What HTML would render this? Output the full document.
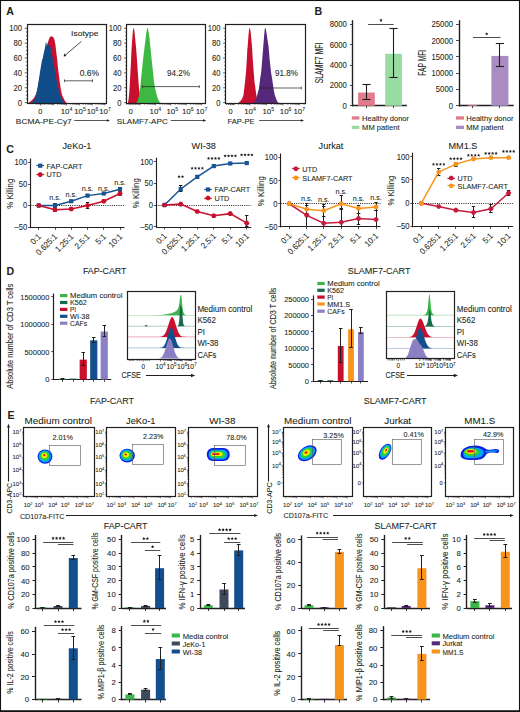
<!DOCTYPE html>
<html><head><meta charset="utf-8"><title>Figure</title>
<style>
html,body{margin:0;padding:0;background:#fff;}
body{width:520px;height:712px;overflow:hidden;}
svg{display:block;}
text{font-family:"Liberation Sans", sans-serif;fill:#231f20;stroke:#231f20;stroke-width:0.08px;}
</style></head><body>
<svg width="520" height="712" viewBox="0 0 520 712">
<rect x="0" y="0" width="520" height="712" fill="#fff"/>
<text x="6.2" y="15.12" font-size="10.6" font-weight="bold">A</text>
<polygon points="28.3,103 31,101 34,98 37,92 39,82 41,70 43,58 45,50 47,45 49,39 50,37 51.2,36.3 52.5,36.8 53.5,37.5 54.5,40 55.5,45 56,50 57,58 58,68 59,76 60,84 61,90 62,95 63.5,98 65,101 66.7,103" fill="#c8102e"/>
<polygon points="31.5,103 34,100 36,95 38,85 40,72 41,66 42,60 43,58 44,52 45,48 45.6,43 46.2,42 46.8,46 47.5,45 48.3,44 49,46 49.6,44 50.3,47 51,50 52,55 53,60 54,65 55,71 56,77 57,82 58,87 59,91 60,95 62,99 64,103" fill="#0f4c88"/>
<line x1="24.7" y1="102.6" x2="27.3" y2="102.6" stroke="#231f20" stroke-width="0.7"/>
<line x1="25.9" y1="98.88" x2="27.3" y2="98.88" stroke="#231f20" stroke-width="0.7"/>
<line x1="25.9" y1="95.17" x2="27.3" y2="95.17" stroke="#231f20" stroke-width="0.7"/>
<line x1="25.9" y1="91.45" x2="27.3" y2="91.45" stroke="#231f20" stroke-width="0.7"/>
<line x1="24.7" y1="87.74" x2="27.3" y2="87.74" stroke="#231f20" stroke-width="0.7"/>
<line x1="25.9" y1="84.02" x2="27.3" y2="84.02" stroke="#231f20" stroke-width="0.7"/>
<line x1="25.9" y1="80.31" x2="27.3" y2="80.31" stroke="#231f20" stroke-width="0.7"/>
<line x1="25.9" y1="76.59" x2="27.3" y2="76.59" stroke="#231f20" stroke-width="0.7"/>
<line x1="24.7" y1="72.88" x2="27.3" y2="72.88" stroke="#231f20" stroke-width="0.7"/>
<line x1="25.9" y1="69.16" x2="27.3" y2="69.16" stroke="#231f20" stroke-width="0.7"/>
<line x1="25.9" y1="65.45" x2="27.3" y2="65.45" stroke="#231f20" stroke-width="0.7"/>
<line x1="25.9" y1="61.73" x2="27.3" y2="61.73" stroke="#231f20" stroke-width="0.7"/>
<line x1="24.7" y1="58.02" x2="27.3" y2="58.02" stroke="#231f20" stroke-width="0.7"/>
<line x1="25.9" y1="54.3" x2="27.3" y2="54.3" stroke="#231f20" stroke-width="0.7"/>
<line x1="25.9" y1="50.59" x2="27.3" y2="50.59" stroke="#231f20" stroke-width="0.7"/>
<line x1="25.9" y1="46.87" x2="27.3" y2="46.87" stroke="#231f20" stroke-width="0.7"/>
<line x1="24.7" y1="43.16" x2="27.3" y2="43.16" stroke="#231f20" stroke-width="0.7"/>
<line x1="25.9" y1="39.44" x2="27.3" y2="39.44" stroke="#231f20" stroke-width="0.7"/>
<line x1="25.9" y1="35.73" x2="27.3" y2="35.73" stroke="#231f20" stroke-width="0.7"/>
<line x1="25.9" y1="32.02" x2="27.3" y2="32.02" stroke="#231f20" stroke-width="0.7"/>
<line x1="24.7" y1="28.3" x2="27.3" y2="28.3" stroke="#231f20" stroke-width="0.7"/>
<text x="22" y="105.59" font-size="8.3" text-anchor="end" textLength="4.25" lengthAdjust="spacingAndGlyphs">0</text>
<text x="22" y="90.73" font-size="8.3" text-anchor="end" textLength="8.49" lengthAdjust="spacingAndGlyphs">20</text>
<text x="22" y="75.87" font-size="8.3" text-anchor="end" textLength="8.49" lengthAdjust="spacingAndGlyphs">40</text>
<text x="22" y="61.01" font-size="8.3" text-anchor="end" textLength="8.49" lengthAdjust="spacingAndGlyphs">60</text>
<text x="22" y="46.15" font-size="8.3" text-anchor="end" textLength="8.49" lengthAdjust="spacingAndGlyphs">80</text>
<text x="22" y="31.29" font-size="8.3" text-anchor="end" textLength="12.74" lengthAdjust="spacingAndGlyphs">100</text>
<rect x="27.5" y="24.5" width="79" height="79" fill="none" stroke="#231f20" stroke-width="1.2"/>
<line x1="40.83" y1="103" x2="40.83" y2="105.4" stroke="#231f20" stroke-width="0.6"/>
<line x1="44.7" y1="103" x2="44.7" y2="104.7" stroke="#231f20" stroke-width="0.6"/>
<line x1="46.96" y1="103" x2="46.96" y2="104.7" stroke="#231f20" stroke-width="0.6"/>
<line x1="48.56" y1="103" x2="48.56" y2="104.7" stroke="#231f20" stroke-width="0.6"/>
<line x1="49.8" y1="103" x2="49.8" y2="104.7" stroke="#231f20" stroke-width="0.6"/>
<line x1="50.82" y1="103" x2="50.82" y2="104.7" stroke="#231f20" stroke-width="0.6"/>
<line x1="51.68" y1="103" x2="51.68" y2="104.7" stroke="#231f20" stroke-width="0.6"/>
<line x1="52.42" y1="103" x2="52.42" y2="104.7" stroke="#231f20" stroke-width="0.6"/>
<line x1="53.08" y1="103" x2="53.08" y2="104.7" stroke="#231f20" stroke-width="0.6"/>
<line x1="53.67" y1="103" x2="53.67" y2="105.4" stroke="#231f20" stroke-width="0.6"/>
<line x1="57.53" y1="103" x2="57.53" y2="104.7" stroke="#231f20" stroke-width="0.6"/>
<line x1="59.79" y1="103" x2="59.79" y2="104.7" stroke="#231f20" stroke-width="0.6"/>
<line x1="61.39" y1="103" x2="61.39" y2="104.7" stroke="#231f20" stroke-width="0.6"/>
<line x1="62.64" y1="103" x2="62.64" y2="104.7" stroke="#231f20" stroke-width="0.6"/>
<line x1="63.65" y1="103" x2="63.65" y2="104.7" stroke="#231f20" stroke-width="0.6"/>
<line x1="64.51" y1="103" x2="64.51" y2="104.7" stroke="#231f20" stroke-width="0.6"/>
<line x1="65.26" y1="103" x2="65.26" y2="104.7" stroke="#231f20" stroke-width="0.6"/>
<line x1="65.91" y1="103" x2="65.91" y2="104.7" stroke="#231f20" stroke-width="0.6"/>
<line x1="66.5" y1="103" x2="66.5" y2="105.4" stroke="#231f20" stroke-width="0.6"/>
<line x1="70.36" y1="103" x2="70.36" y2="104.7" stroke="#231f20" stroke-width="0.6"/>
<line x1="72.62" y1="103" x2="72.62" y2="104.7" stroke="#231f20" stroke-width="0.6"/>
<line x1="74.23" y1="103" x2="74.23" y2="104.7" stroke="#231f20" stroke-width="0.6"/>
<line x1="75.47" y1="103" x2="75.47" y2="104.7" stroke="#231f20" stroke-width="0.6"/>
<line x1="76.49" y1="103" x2="76.49" y2="104.7" stroke="#231f20" stroke-width="0.6"/>
<line x1="77.35" y1="103" x2="77.35" y2="104.7" stroke="#231f20" stroke-width="0.6"/>
<line x1="78.09" y1="103" x2="78.09" y2="104.7" stroke="#231f20" stroke-width="0.6"/>
<line x1="78.75" y1="103" x2="78.75" y2="104.7" stroke="#231f20" stroke-width="0.6"/>
<line x1="79.33" y1="103" x2="79.33" y2="105.4" stroke="#231f20" stroke-width="0.6"/>
<line x1="83.2" y1="103" x2="83.2" y2="104.7" stroke="#231f20" stroke-width="0.6"/>
<line x1="85.46" y1="103" x2="85.46" y2="104.7" stroke="#231f20" stroke-width="0.6"/>
<line x1="87.06" y1="103" x2="87.06" y2="104.7" stroke="#231f20" stroke-width="0.6"/>
<line x1="88.3" y1="103" x2="88.3" y2="104.7" stroke="#231f20" stroke-width="0.6"/>
<line x1="89.32" y1="103" x2="89.32" y2="104.7" stroke="#231f20" stroke-width="0.6"/>
<line x1="90.18" y1="103" x2="90.18" y2="104.7" stroke="#231f20" stroke-width="0.6"/>
<line x1="90.92" y1="103" x2="90.92" y2="104.7" stroke="#231f20" stroke-width="0.6"/>
<line x1="91.58" y1="103" x2="91.58" y2="104.7" stroke="#231f20" stroke-width="0.6"/>
<line x1="92.17" y1="103" x2="92.17" y2="105.4" stroke="#231f20" stroke-width="0.6"/>
<line x1="96.03" y1="103" x2="96.03" y2="104.7" stroke="#231f20" stroke-width="0.6"/>
<line x1="98.29" y1="103" x2="98.29" y2="104.7" stroke="#231f20" stroke-width="0.6"/>
<line x1="99.89" y1="103" x2="99.89" y2="104.7" stroke="#231f20" stroke-width="0.6"/>
<line x1="101.14" y1="103" x2="101.14" y2="104.7" stroke="#231f20" stroke-width="0.6"/>
<line x1="102.15" y1="103" x2="102.15" y2="104.7" stroke="#231f20" stroke-width="0.6"/>
<line x1="103.01" y1="103" x2="103.01" y2="104.7" stroke="#231f20" stroke-width="0.6"/>
<line x1="103.76" y1="103" x2="103.76" y2="104.7" stroke="#231f20" stroke-width="0.6"/>
<line x1="104.41" y1="103" x2="104.41" y2="104.7" stroke="#231f20" stroke-width="0.6"/>
<line x1="105" y1="103" x2="105" y2="105.4" stroke="#231f20" stroke-width="0.6"/>
<line x1="36.2" y1="103" x2="36.2" y2="104.7" stroke="#231f20" stroke-width="0.6"/>
<line x1="38.2" y1="103" x2="38.2" y2="104.7" stroke="#231f20" stroke-width="0.6"/>
<line x1="42.2" y1="103" x2="42.2" y2="104.7" stroke="#231f20" stroke-width="0.6"/>
<line x1="44.2" y1="103" x2="44.2" y2="104.7" stroke="#231f20" stroke-width="0.6"/>
<line x1="40.2" y1="103" x2="40.2" y2="105.4" stroke="#231f20" stroke-width="0.6"/>
<text x="40.2" y="114.24" font-size="7.9" text-anchor="middle" textLength="4.09" lengthAdjust="spacingAndGlyphs">0</text>
<text x="66.5" y="114.24" font-size="7.9" text-anchor="middle">10<tspan dy="-2.77" font-size="5.14">4</tspan></text>
<text x="80" y="114.24" font-size="7.9" text-anchor="middle">10<tspan dy="-2.77" font-size="5.14">5</tspan></text>
<text x="92.5" y="114.24" font-size="7.9" text-anchor="middle">10<tspan dy="-2.77" font-size="5.14">6</tspan></text>
<text x="105" y="114.24" font-size="7.9" text-anchor="middle">10<tspan dy="-2.77" font-size="5.14">7</tspan></text>
<text x="15.8" y="123.74" font-size="7.6" textLength="56" lengthAdjust="spacingAndGlyphs">BCMA-PE-Cy7</text>
<line x1="74.3" y1="120.5" x2="107.3" y2="120.5" stroke="#231f20" stroke-width="0.75"/>
<polygon points="110,120.5 106.8,119.16 106.8,121.84" fill="#231f20"/>
<text x="71.1" y="35.6" font-size="7.5" textLength="27.4" lengthAdjust="spacingAndGlyphs">Isotype</text>
<line x1="81.5" y1="41.3" x2="64.8" y2="55.5" stroke="#231f20" stroke-width="0.8"/>
<polygon points="63.6,56.4 64.3,53.6 66.4,55.9" fill="#231f20"/>
<text x="79.7" y="76.09" font-size="8.3" textLength="19.2" lengthAdjust="spacingAndGlyphs">0.6%</text>
<line x1="64.5" y1="80.8" x2="92.5" y2="80.8" stroke="#231f20" stroke-width="0.7"/>
<line x1="64.5" y1="79.4" x2="64.5" y2="82.2" stroke="#231f20" stroke-width="0.7"/>
<line x1="92.5" y1="79.4" x2="92.5" y2="82.2" stroke="#231f20" stroke-width="0.7"/>
<polygon points="127.8,103 128.5,100 129.3,92 130,80 130.8,65 131.5,50 132.3,38 133,30 133.5,28 134,28.5 134.7,33 135.3,40 136,47 136.8,57 137.5,68 138.3,79 139,88 140,95 141,99 142.5,102 143.5,103" fill="#c8102e"/>
<polygon points="136.4,103 137.5,101 139,96 140,89 141,80 142,70 143,60 144.2,50 145.3,41 146.3,33 147,29 147.4,27.6 148,29 148.8,33 149.5,38 150.3,46 151,53 152,63 153,72 154,82 155,88 156,92 157,96 158,99 159.5,102 161,103" fill="#3db843"/>
<line x1="124.1" y1="102.6" x2="126.7" y2="102.6" stroke="#231f20" stroke-width="0.7"/>
<line x1="125.3" y1="98.88" x2="126.7" y2="98.88" stroke="#231f20" stroke-width="0.7"/>
<line x1="125.3" y1="95.17" x2="126.7" y2="95.17" stroke="#231f20" stroke-width="0.7"/>
<line x1="125.3" y1="91.45" x2="126.7" y2="91.45" stroke="#231f20" stroke-width="0.7"/>
<line x1="124.1" y1="87.74" x2="126.7" y2="87.74" stroke="#231f20" stroke-width="0.7"/>
<line x1="125.3" y1="84.02" x2="126.7" y2="84.02" stroke="#231f20" stroke-width="0.7"/>
<line x1="125.3" y1="80.31" x2="126.7" y2="80.31" stroke="#231f20" stroke-width="0.7"/>
<line x1="125.3" y1="76.59" x2="126.7" y2="76.59" stroke="#231f20" stroke-width="0.7"/>
<line x1="124.1" y1="72.88" x2="126.7" y2="72.88" stroke="#231f20" stroke-width="0.7"/>
<line x1="125.3" y1="69.16" x2="126.7" y2="69.16" stroke="#231f20" stroke-width="0.7"/>
<line x1="125.3" y1="65.45" x2="126.7" y2="65.45" stroke="#231f20" stroke-width="0.7"/>
<line x1="125.3" y1="61.73" x2="126.7" y2="61.73" stroke="#231f20" stroke-width="0.7"/>
<line x1="124.1" y1="58.02" x2="126.7" y2="58.02" stroke="#231f20" stroke-width="0.7"/>
<line x1="125.3" y1="54.3" x2="126.7" y2="54.3" stroke="#231f20" stroke-width="0.7"/>
<line x1="125.3" y1="50.59" x2="126.7" y2="50.59" stroke="#231f20" stroke-width="0.7"/>
<line x1="125.3" y1="46.87" x2="126.7" y2="46.87" stroke="#231f20" stroke-width="0.7"/>
<line x1="124.1" y1="43.16" x2="126.7" y2="43.16" stroke="#231f20" stroke-width="0.7"/>
<line x1="125.3" y1="39.44" x2="126.7" y2="39.44" stroke="#231f20" stroke-width="0.7"/>
<line x1="125.3" y1="35.73" x2="126.7" y2="35.73" stroke="#231f20" stroke-width="0.7"/>
<line x1="125.3" y1="32.02" x2="126.7" y2="32.02" stroke="#231f20" stroke-width="0.7"/>
<line x1="124.1" y1="28.3" x2="126.7" y2="28.3" stroke="#231f20" stroke-width="0.7"/>
<text x="121.4" y="105.59" font-size="8.3" text-anchor="end" textLength="4.25" lengthAdjust="spacingAndGlyphs">0</text>
<text x="121.4" y="90.73" font-size="8.3" text-anchor="end" textLength="8.49" lengthAdjust="spacingAndGlyphs">20</text>
<text x="121.4" y="75.87" font-size="8.3" text-anchor="end" textLength="8.49" lengthAdjust="spacingAndGlyphs">40</text>
<text x="121.4" y="61.01" font-size="8.3" text-anchor="end" textLength="8.49" lengthAdjust="spacingAndGlyphs">60</text>
<text x="121.4" y="46.15" font-size="8.3" text-anchor="end" textLength="8.49" lengthAdjust="spacingAndGlyphs">80</text>
<text x="121.4" y="31.29" font-size="8.3" text-anchor="end" textLength="12.74" lengthAdjust="spacingAndGlyphs">100</text>
<rect x="126.5" y="24.5" width="79" height="79" fill="none" stroke="#231f20" stroke-width="1.2"/>
<line x1="129.29" y1="103" x2="129.29" y2="104.7" stroke="#231f20" stroke-width="0.6"/>
<line x1="132" y1="103" x2="132" y2="104.7" stroke="#231f20" stroke-width="0.6"/>
<line x1="133.92" y1="103" x2="133.92" y2="104.7" stroke="#231f20" stroke-width="0.6"/>
<line x1="135.41" y1="103" x2="135.41" y2="104.7" stroke="#231f20" stroke-width="0.6"/>
<line x1="136.62" y1="103" x2="136.62" y2="104.7" stroke="#231f20" stroke-width="0.6"/>
<line x1="137.65" y1="103" x2="137.65" y2="104.7" stroke="#231f20" stroke-width="0.6"/>
<line x1="138.54" y1="103" x2="138.54" y2="104.7" stroke="#231f20" stroke-width="0.6"/>
<line x1="139.33" y1="103" x2="139.33" y2="104.7" stroke="#231f20" stroke-width="0.6"/>
<line x1="140.03" y1="103" x2="140.03" y2="105.4" stroke="#231f20" stroke-width="0.6"/>
<line x1="144.66" y1="103" x2="144.66" y2="104.7" stroke="#231f20" stroke-width="0.6"/>
<line x1="147.37" y1="103" x2="147.37" y2="104.7" stroke="#231f20" stroke-width="0.6"/>
<line x1="149.28" y1="103" x2="149.28" y2="104.7" stroke="#231f20" stroke-width="0.6"/>
<line x1="150.77" y1="103" x2="150.77" y2="104.7" stroke="#231f20" stroke-width="0.6"/>
<line x1="151.99" y1="103" x2="151.99" y2="104.7" stroke="#231f20" stroke-width="0.6"/>
<line x1="153.02" y1="103" x2="153.02" y2="104.7" stroke="#231f20" stroke-width="0.6"/>
<line x1="153.91" y1="103" x2="153.91" y2="104.7" stroke="#231f20" stroke-width="0.6"/>
<line x1="154.7" y1="103" x2="154.7" y2="104.7" stroke="#231f20" stroke-width="0.6"/>
<line x1="155.4" y1="103" x2="155.4" y2="105.4" stroke="#231f20" stroke-width="0.6"/>
<line x1="160.03" y1="103" x2="160.03" y2="104.7" stroke="#231f20" stroke-width="0.6"/>
<line x1="162.73" y1="103" x2="162.73" y2="104.7" stroke="#231f20" stroke-width="0.6"/>
<line x1="164.65" y1="103" x2="164.65" y2="104.7" stroke="#231f20" stroke-width="0.6"/>
<line x1="166.14" y1="103" x2="166.14" y2="104.7" stroke="#231f20" stroke-width="0.6"/>
<line x1="167.36" y1="103" x2="167.36" y2="104.7" stroke="#231f20" stroke-width="0.6"/>
<line x1="168.39" y1="103" x2="168.39" y2="104.7" stroke="#231f20" stroke-width="0.6"/>
<line x1="169.28" y1="103" x2="169.28" y2="104.7" stroke="#231f20" stroke-width="0.6"/>
<line x1="170.06" y1="103" x2="170.06" y2="104.7" stroke="#231f20" stroke-width="0.6"/>
<line x1="170.77" y1="103" x2="170.77" y2="105.4" stroke="#231f20" stroke-width="0.6"/>
<line x1="175.39" y1="103" x2="175.39" y2="104.7" stroke="#231f20" stroke-width="0.6"/>
<line x1="178.1" y1="103" x2="178.1" y2="104.7" stroke="#231f20" stroke-width="0.6"/>
<line x1="180.02" y1="103" x2="180.02" y2="104.7" stroke="#231f20" stroke-width="0.6"/>
<line x1="181.51" y1="103" x2="181.51" y2="104.7" stroke="#231f20" stroke-width="0.6"/>
<line x1="182.72" y1="103" x2="182.72" y2="104.7" stroke="#231f20" stroke-width="0.6"/>
<line x1="183.75" y1="103" x2="183.75" y2="104.7" stroke="#231f20" stroke-width="0.6"/>
<line x1="184.64" y1="103" x2="184.64" y2="104.7" stroke="#231f20" stroke-width="0.6"/>
<line x1="185.43" y1="103" x2="185.43" y2="104.7" stroke="#231f20" stroke-width="0.6"/>
<line x1="186.13" y1="103" x2="186.13" y2="105.4" stroke="#231f20" stroke-width="0.6"/>
<line x1="190.76" y1="103" x2="190.76" y2="104.7" stroke="#231f20" stroke-width="0.6"/>
<line x1="193.47" y1="103" x2="193.47" y2="104.7" stroke="#231f20" stroke-width="0.6"/>
<line x1="195.38" y1="103" x2="195.38" y2="104.7" stroke="#231f20" stroke-width="0.6"/>
<line x1="196.87" y1="103" x2="196.87" y2="104.7" stroke="#231f20" stroke-width="0.6"/>
<line x1="198.09" y1="103" x2="198.09" y2="104.7" stroke="#231f20" stroke-width="0.6"/>
<line x1="199.12" y1="103" x2="199.12" y2="104.7" stroke="#231f20" stroke-width="0.6"/>
<line x1="200.01" y1="103" x2="200.01" y2="104.7" stroke="#231f20" stroke-width="0.6"/>
<line x1="200.8" y1="103" x2="200.8" y2="104.7" stroke="#231f20" stroke-width="0.6"/>
<line x1="201.5" y1="103" x2="201.5" y2="105.4" stroke="#231f20" stroke-width="0.6"/>
<line x1="126.8" y1="103" x2="126.8" y2="104.7" stroke="#231f20" stroke-width="0.6"/>
<line x1="128.8" y1="103" x2="128.8" y2="104.7" stroke="#231f20" stroke-width="0.6"/>
<line x1="132.8" y1="103" x2="132.8" y2="104.7" stroke="#231f20" stroke-width="0.6"/>
<line x1="134.8" y1="103" x2="134.8" y2="104.7" stroke="#231f20" stroke-width="0.6"/>
<line x1="130.8" y1="103" x2="130.8" y2="105.4" stroke="#231f20" stroke-width="0.6"/>
<text x="130.8" y="114.24" font-size="7.9" text-anchor="middle" textLength="4.09" lengthAdjust="spacingAndGlyphs">0</text>
<text x="155.4" y="114.24" font-size="7.9" text-anchor="middle">10<tspan dy="-2.77" font-size="5.14">4</tspan></text>
<text x="172.3" y="114.24" font-size="7.9" text-anchor="middle">10<tspan dy="-2.77" font-size="5.14">5</tspan></text>
<text x="187.7" y="114.24" font-size="7.9" text-anchor="middle">10<tspan dy="-2.77" font-size="5.14">6</tspan></text>
<text x="201.5" y="114.24" font-size="7.9" text-anchor="middle">10<tspan dy="-2.77" font-size="5.14">7</tspan></text>
<text x="116.8" y="123.74" font-size="7.6" textLength="51" lengthAdjust="spacingAndGlyphs">SLAMF7-APC</text>
<line x1="170.8" y1="120.5" x2="203.5" y2="120.5" stroke="#231f20" stroke-width="0.75"/>
<polygon points="206.2,120.5 203,119.16 203,121.84" fill="#231f20"/>
<text x="167" y="76.39" font-size="8.3" textLength="23" lengthAdjust="spacingAndGlyphs">94.2%</text>
<line x1="142.5" y1="86.6" x2="199.3" y2="86.6" stroke="#231f20" stroke-width="0.7"/>
<line x1="142.5" y1="85.2" x2="142.5" y2="88" stroke="#231f20" stroke-width="0.7"/>
<line x1="199.3" y1="85.2" x2="199.3" y2="88" stroke="#231f20" stroke-width="0.7"/>
<polygon points="238.2,103 240,101.5 242,99 243.5,95 244.2,89 245,82 246,72 246.8,60 247.3,50 247.7,46 248.3,38 248.9,31 249.4,28 250,28.5 250.7,32 251.3,39 252,46 252.8,60 253.7,72 254.5,82 255.5,89 256.3,95 257.2,99 258.5,102 260,103" fill="#c8102e"/>
<polygon points="253.7,103 255.5,100 257,96 258.2,91 258.9,89 260,80 261.2,72 262.2,60 263.3,46 264.2,35 264.8,29 265.3,27.8 265.8,29 266.5,33 267.5,40 268.5,46 269.5,58 271,72 272.3,80 273.6,89 274.8,95 276.2,99 277.5,102 279,103" fill="#55287c"/>
<line x1="223.1" y1="102.6" x2="225.7" y2="102.6" stroke="#231f20" stroke-width="0.7"/>
<line x1="224.3" y1="98.88" x2="225.7" y2="98.88" stroke="#231f20" stroke-width="0.7"/>
<line x1="224.3" y1="95.17" x2="225.7" y2="95.17" stroke="#231f20" stroke-width="0.7"/>
<line x1="224.3" y1="91.45" x2="225.7" y2="91.45" stroke="#231f20" stroke-width="0.7"/>
<line x1="223.1" y1="87.74" x2="225.7" y2="87.74" stroke="#231f20" stroke-width="0.7"/>
<line x1="224.3" y1="84.02" x2="225.7" y2="84.02" stroke="#231f20" stroke-width="0.7"/>
<line x1="224.3" y1="80.31" x2="225.7" y2="80.31" stroke="#231f20" stroke-width="0.7"/>
<line x1="224.3" y1="76.59" x2="225.7" y2="76.59" stroke="#231f20" stroke-width="0.7"/>
<line x1="223.1" y1="72.88" x2="225.7" y2="72.88" stroke="#231f20" stroke-width="0.7"/>
<line x1="224.3" y1="69.16" x2="225.7" y2="69.16" stroke="#231f20" stroke-width="0.7"/>
<line x1="224.3" y1="65.45" x2="225.7" y2="65.45" stroke="#231f20" stroke-width="0.7"/>
<line x1="224.3" y1="61.73" x2="225.7" y2="61.73" stroke="#231f20" stroke-width="0.7"/>
<line x1="223.1" y1="58.02" x2="225.7" y2="58.02" stroke="#231f20" stroke-width="0.7"/>
<line x1="224.3" y1="54.3" x2="225.7" y2="54.3" stroke="#231f20" stroke-width="0.7"/>
<line x1="224.3" y1="50.59" x2="225.7" y2="50.59" stroke="#231f20" stroke-width="0.7"/>
<line x1="224.3" y1="46.87" x2="225.7" y2="46.87" stroke="#231f20" stroke-width="0.7"/>
<line x1="223.1" y1="43.16" x2="225.7" y2="43.16" stroke="#231f20" stroke-width="0.7"/>
<line x1="224.3" y1="39.44" x2="225.7" y2="39.44" stroke="#231f20" stroke-width="0.7"/>
<line x1="224.3" y1="35.73" x2="225.7" y2="35.73" stroke="#231f20" stroke-width="0.7"/>
<line x1="224.3" y1="32.02" x2="225.7" y2="32.02" stroke="#231f20" stroke-width="0.7"/>
<line x1="223.1" y1="28.3" x2="225.7" y2="28.3" stroke="#231f20" stroke-width="0.7"/>
<text x="220.4" y="105.59" font-size="8.3" text-anchor="end" textLength="4.25" lengthAdjust="spacingAndGlyphs">0</text>
<text x="220.4" y="90.73" font-size="8.3" text-anchor="end" textLength="8.49" lengthAdjust="spacingAndGlyphs">20</text>
<text x="220.4" y="75.87" font-size="8.3" text-anchor="end" textLength="8.49" lengthAdjust="spacingAndGlyphs">40</text>
<text x="220.4" y="61.01" font-size="8.3" text-anchor="end" textLength="8.49" lengthAdjust="spacingAndGlyphs">60</text>
<text x="220.4" y="46.15" font-size="8.3" text-anchor="end" textLength="8.49" lengthAdjust="spacingAndGlyphs">80</text>
<text x="220.4" y="31.29" font-size="8.3" text-anchor="end" textLength="12.74" lengthAdjust="spacingAndGlyphs">100</text>
<rect x="225.5" y="24.5" width="80" height="79" fill="none" stroke="#231f20" stroke-width="1.2"/>
<line x1="227.07" y1="103" x2="227.07" y2="104.7" stroke="#231f20" stroke-width="0.6"/>
<line x1="228.66" y1="103" x2="228.66" y2="104.7" stroke="#231f20" stroke-width="0.6"/>
<line x1="229.96" y1="103" x2="229.96" y2="104.7" stroke="#231f20" stroke-width="0.6"/>
<line x1="231.06" y1="103" x2="231.06" y2="104.7" stroke="#231f20" stroke-width="0.6"/>
<line x1="232.01" y1="103" x2="232.01" y2="104.7" stroke="#231f20" stroke-width="0.6"/>
<line x1="232.85" y1="103" x2="232.85" y2="104.7" stroke="#231f20" stroke-width="0.6"/>
<line x1="233.6" y1="103" x2="233.6" y2="105.4" stroke="#231f20" stroke-width="0.6"/>
<line x1="238.54" y1="103" x2="238.54" y2="104.7" stroke="#231f20" stroke-width="0.6"/>
<line x1="241.42" y1="103" x2="241.42" y2="104.7" stroke="#231f20" stroke-width="0.6"/>
<line x1="243.47" y1="103" x2="243.47" y2="104.7" stroke="#231f20" stroke-width="0.6"/>
<line x1="245.06" y1="103" x2="245.06" y2="104.7" stroke="#231f20" stroke-width="0.6"/>
<line x1="246.36" y1="103" x2="246.36" y2="104.7" stroke="#231f20" stroke-width="0.6"/>
<line x1="247.46" y1="103" x2="247.46" y2="104.7" stroke="#231f20" stroke-width="0.6"/>
<line x1="248.41" y1="103" x2="248.41" y2="104.7" stroke="#231f20" stroke-width="0.6"/>
<line x1="249.25" y1="103" x2="249.25" y2="104.7" stroke="#231f20" stroke-width="0.6"/>
<line x1="250" y1="103" x2="250" y2="105.4" stroke="#231f20" stroke-width="0.6"/>
<line x1="254.94" y1="103" x2="254.94" y2="104.7" stroke="#231f20" stroke-width="0.6"/>
<line x1="257.82" y1="103" x2="257.82" y2="104.7" stroke="#231f20" stroke-width="0.6"/>
<line x1="259.87" y1="103" x2="259.87" y2="104.7" stroke="#231f20" stroke-width="0.6"/>
<line x1="261.46" y1="103" x2="261.46" y2="104.7" stroke="#231f20" stroke-width="0.6"/>
<line x1="262.76" y1="103" x2="262.76" y2="104.7" stroke="#231f20" stroke-width="0.6"/>
<line x1="263.86" y1="103" x2="263.86" y2="104.7" stroke="#231f20" stroke-width="0.6"/>
<line x1="264.81" y1="103" x2="264.81" y2="104.7" stroke="#231f20" stroke-width="0.6"/>
<line x1="265.65" y1="103" x2="265.65" y2="104.7" stroke="#231f20" stroke-width="0.6"/>
<line x1="266.4" y1="103" x2="266.4" y2="105.4" stroke="#231f20" stroke-width="0.6"/>
<line x1="271.34" y1="103" x2="271.34" y2="104.7" stroke="#231f20" stroke-width="0.6"/>
<line x1="274.22" y1="103" x2="274.22" y2="104.7" stroke="#231f20" stroke-width="0.6"/>
<line x1="276.27" y1="103" x2="276.27" y2="104.7" stroke="#231f20" stroke-width="0.6"/>
<line x1="277.86" y1="103" x2="277.86" y2="104.7" stroke="#231f20" stroke-width="0.6"/>
<line x1="279.16" y1="103" x2="279.16" y2="104.7" stroke="#231f20" stroke-width="0.6"/>
<line x1="280.26" y1="103" x2="280.26" y2="104.7" stroke="#231f20" stroke-width="0.6"/>
<line x1="281.21" y1="103" x2="281.21" y2="104.7" stroke="#231f20" stroke-width="0.6"/>
<line x1="282.05" y1="103" x2="282.05" y2="104.7" stroke="#231f20" stroke-width="0.6"/>
<line x1="282.8" y1="103" x2="282.8" y2="105.4" stroke="#231f20" stroke-width="0.6"/>
<line x1="287.74" y1="103" x2="287.74" y2="104.7" stroke="#231f20" stroke-width="0.6"/>
<line x1="290.62" y1="103" x2="290.62" y2="104.7" stroke="#231f20" stroke-width="0.6"/>
<line x1="292.67" y1="103" x2="292.67" y2="104.7" stroke="#231f20" stroke-width="0.6"/>
<line x1="294.26" y1="103" x2="294.26" y2="104.7" stroke="#231f20" stroke-width="0.6"/>
<line x1="295.56" y1="103" x2="295.56" y2="104.7" stroke="#231f20" stroke-width="0.6"/>
<line x1="296.66" y1="103" x2="296.66" y2="104.7" stroke="#231f20" stroke-width="0.6"/>
<line x1="297.61" y1="103" x2="297.61" y2="104.7" stroke="#231f20" stroke-width="0.6"/>
<line x1="298.45" y1="103" x2="298.45" y2="104.7" stroke="#231f20" stroke-width="0.6"/>
<line x1="299.2" y1="103" x2="299.2" y2="105.4" stroke="#231f20" stroke-width="0.6"/>
<line x1="304.14" y1="103" x2="304.14" y2="104.7" stroke="#231f20" stroke-width="0.6"/>
<line x1="226.5" y1="103" x2="226.5" y2="104.7" stroke="#231f20" stroke-width="0.6"/>
<line x1="228.5" y1="103" x2="228.5" y2="104.7" stroke="#231f20" stroke-width="0.6"/>
<line x1="232.5" y1="103" x2="232.5" y2="104.7" stroke="#231f20" stroke-width="0.6"/>
<line x1="234.5" y1="103" x2="234.5" y2="104.7" stroke="#231f20" stroke-width="0.6"/>
<line x1="230.5" y1="103" x2="230.5" y2="105.4" stroke="#231f20" stroke-width="0.6"/>
<text x="230.5" y="114.24" font-size="7.9" text-anchor="middle" textLength="4.09" lengthAdjust="spacingAndGlyphs">0</text>
<text x="250" y="114.24" font-size="7.9" text-anchor="middle">10<tspan dy="-2.77" font-size="5.14">4</tspan></text>
<text x="268.3" y="114.24" font-size="7.9" text-anchor="middle">10<tspan dy="-2.77" font-size="5.14">5</tspan></text>
<text x="285.6" y="114.24" font-size="7.9" text-anchor="middle">10<tspan dy="-2.77" font-size="5.14">6</tspan></text>
<text x="299.2" y="114.24" font-size="7.9" text-anchor="middle">10<tspan dy="-2.77" font-size="5.14">7</tspan></text>
<text x="227.6" y="123.74" font-size="7.6" textLength="27" lengthAdjust="spacingAndGlyphs">FAP-PE</text>
<line x1="259" y1="120.5" x2="301.3" y2="120.5" stroke="#231f20" stroke-width="0.75"/>
<polygon points="304,120.5 300.8,119.16 300.8,121.84" fill="#231f20"/>
<text x="275" y="76.39" font-size="8.3" textLength="23" lengthAdjust="spacingAndGlyphs">91.8%</text>
<line x1="260.3" y1="88" x2="301.3" y2="88" stroke="#231f20" stroke-width="0.7"/>
<line x1="260.3" y1="86.6" x2="260.3" y2="89.4" stroke="#231f20" stroke-width="0.7"/>
<line x1="301.3" y1="86.6" x2="301.3" y2="89.4" stroke="#231f20" stroke-width="0.7"/>
<text x="314.6" y="14.72" font-size="10.6" font-weight="bold">B</text>
<line x1="352.5" y1="20.2" x2="352.5" y2="106.5" stroke="#231f20" stroke-width="1.4"/>
<line x1="352.9" y1="105.5" x2="406.8" y2="105.5" stroke="#231f20" stroke-width="1.4"/>
<line x1="349.9" y1="105.5" x2="352.9" y2="105.5" stroke="#231f20" stroke-width="0.8"/>
<text x="346.9" y="108.79" font-size="8.3" text-anchor="end" textLength="4.29" lengthAdjust="spacingAndGlyphs">0</text>
<line x1="349.9" y1="85.5" x2="352.9" y2="85.5" stroke="#231f20" stroke-width="0.8"/>
<text x="346.9" y="88.41" font-size="8.3" text-anchor="end" textLength="17.17" lengthAdjust="spacingAndGlyphs">2000</text>
<line x1="349.9" y1="65.5" x2="352.9" y2="65.5" stroke="#231f20" stroke-width="0.8"/>
<text x="346.9" y="68.03" font-size="8.3" text-anchor="end" textLength="17.17" lengthAdjust="spacingAndGlyphs">4000</text>
<line x1="349.9" y1="44.5" x2="352.9" y2="44.5" stroke="#231f20" stroke-width="0.8"/>
<text x="346.9" y="47.65" font-size="8.3" text-anchor="end" textLength="17.17" lengthAdjust="spacingAndGlyphs">6000</text>
<line x1="349.9" y1="24.5" x2="352.9" y2="24.5" stroke="#231f20" stroke-width="0.8"/>
<text x="346.9" y="27.27" font-size="8.3" text-anchor="end" textLength="17.17" lengthAdjust="spacingAndGlyphs">8000</text>
<rect x="358.1" y="92.55" width="16.7" height="13.25" fill="#e07c8c"/>
<rect x="385.2" y="53.83" width="16.7" height="51.97" fill="#98dca2"/>
<line x1="366.5" y1="99.18" x2="366.5" y2="84.2" stroke="#231f20" stroke-width="1.1"/>
<line x1="362.4" y1="99.5" x2="370.6" y2="99.5" stroke="#231f20" stroke-width="1.1"/>
<line x1="362.4" y1="84.5" x2="370.6" y2="84.5" stroke="#231f20" stroke-width="1.1"/>
<line x1="393.5" y1="77.68" x2="393.5" y2="28.56" stroke="#231f20" stroke-width="1.1"/>
<line x1="389.4" y1="77.5" x2="397.6" y2="77.5" stroke="#231f20" stroke-width="1.1"/>
<line x1="389.4" y1="28.5" x2="397.6" y2="28.5" stroke="#231f20" stroke-width="1.1"/>
<line x1="366.5" y1="105.8" x2="366.5" y2="108.2" stroke="#231f20" stroke-width="0.8"/>
<line x1="393.5" y1="105.8" x2="393.5" y2="108.2" stroke="#231f20" stroke-width="0.8"/>
<line x1="368.1" y1="24.5" x2="393.7" y2="24.5" stroke="#231f20" stroke-width="0.8"/>
<polygon points="381,18.56 381.49,19.62 382.65,19.76 381.79,20.56 382.02,21.71 381,21.13 379.98,21.71 380.21,20.56 379.35,19.76 380.51,19.62" fill="#231f20"/>
<text x="319.1" y="66.67" font-size="10.2" text-anchor="middle" textLength="40.7" lengthAdjust="spacingAndGlyphs" transform="rotate(-90 319.1 63)">SLAMF7 MFI</text>
<rect x="351.8" y="116.3" width="7.6" height="3.3" fill="#e07c8c"/>
<rect x="351.8" y="125.7" width="7.6" height="3.3" fill="#98dca2"/>
<text x="362.1" y="120.87" font-size="7.7" textLength="47" lengthAdjust="spacingAndGlyphs">Healthy donor</text>
<text x="362.1" y="130.17" font-size="7.7" textLength="37.5" lengthAdjust="spacingAndGlyphs">MM patient</text>
<line x1="459.5" y1="20.2" x2="459.5" y2="106.5" stroke="#231f20" stroke-width="1.4"/>
<line x1="459" y1="105.5" x2="513.7" y2="105.5" stroke="#231f20" stroke-width="1.4"/>
<line x1="456" y1="105.5" x2="459" y2="105.5" stroke="#231f20" stroke-width="0.8"/>
<text x="453" y="108.79" font-size="8.3" text-anchor="end" textLength="4.29" lengthAdjust="spacingAndGlyphs">0</text>
<line x1="456" y1="89.5" x2="459" y2="89.5" stroke="#231f20" stroke-width="0.8"/>
<text x="453" y="92.49" font-size="8.3" text-anchor="end" textLength="17.17" lengthAdjust="spacingAndGlyphs">5000</text>
<line x1="456" y1="73.5" x2="459" y2="73.5" stroke="#231f20" stroke-width="0.8"/>
<text x="453" y="76.19" font-size="8.3" text-anchor="end" textLength="21.46" lengthAdjust="spacingAndGlyphs">10000</text>
<line x1="456" y1="56.5" x2="459" y2="56.5" stroke="#231f20" stroke-width="0.8"/>
<text x="453" y="59.89" font-size="8.3" text-anchor="end" textLength="21.46" lengthAdjust="spacingAndGlyphs">15000</text>
<line x1="456" y1="40.5" x2="459" y2="40.5" stroke="#231f20" stroke-width="0.8"/>
<text x="453" y="43.59" font-size="8.3" text-anchor="end" textLength="21.46" lengthAdjust="spacingAndGlyphs">20000</text>
<line x1="456" y1="24.5" x2="459" y2="24.5" stroke="#231f20" stroke-width="0.8"/>
<text x="453" y="27.29" font-size="8.3" text-anchor="end" textLength="21.46" lengthAdjust="spacingAndGlyphs">25000</text>
<rect x="468.2" y="104.9" width="9" height="0.9" fill="#e07c8c"/>
<rect x="491.4" y="55.92" width="17" height="49.88" fill="#a98cc2"/>
<line x1="499.5" y1="66.68" x2="499.5" y2="43.53" stroke="#231f20" stroke-width="1.1"/>
<line x1="495.8" y1="66.5" x2="504" y2="66.5" stroke="#231f20" stroke-width="1.1"/>
<line x1="495.8" y1="43.5" x2="504" y2="43.5" stroke="#231f20" stroke-width="1.1"/>
<line x1="472.5" y1="105.8" x2="472.5" y2="108.2" stroke="#231f20" stroke-width="0.8"/>
<line x1="499.5" y1="105.8" x2="499.5" y2="108.2" stroke="#231f20" stroke-width="0.8"/>
<line x1="473" y1="37.5" x2="500.5" y2="37.5" stroke="#231f20" stroke-width="0.8"/>
<polygon points="486.7,32.16 487.19,33.22 488.35,33.36 487.49,34.16 487.72,35.31 486.7,34.73 485.68,35.31 485.91,34.16 485.05,33.36 486.21,33.22" fill="#231f20"/>
<text x="422.6" y="66.47" font-size="10.2" text-anchor="middle" textLength="26" lengthAdjust="spacingAndGlyphs" transform="rotate(-90 422.6 62.8)">FAP MFI</text>
<rect x="456" y="116.3" width="8" height="3.3" fill="#e07c8c"/>
<rect x="456" y="125.7" width="8" height="3.3" fill="#a98cc2"/>
<text x="466.2" y="120.87" font-size="7.7" textLength="47.3" lengthAdjust="spacingAndGlyphs">Healthy donor</text>
<text x="466.2" y="130.17" font-size="7.7" textLength="37.5" lengthAdjust="spacingAndGlyphs">MM patient</text>
<text x="6.2" y="152.62" font-size="10.6" font-weight="bold">C</text>
<line x1="30.5" y1="158.5" x2="30.5" y2="228.1" stroke="#231f20" stroke-width="1.15"/>
<line x1="30.5" y1="227.5" x2="124.5" y2="227.5" stroke="#231f20" stroke-width="1.15"/>
<line x1="28.1" y1="162.5" x2="30.5" y2="162.5" stroke="#231f20" stroke-width="0.8"/>
<text x="27.3" y="165.49" font-size="8.3" text-anchor="end" textLength="12.74" lengthAdjust="spacingAndGlyphs">100</text>
<line x1="28.1" y1="184.5" x2="30.5" y2="184.5" stroke="#231f20" stroke-width="0.8"/>
<text x="27.3" y="186.99" font-size="8.3" text-anchor="end" textLength="8.49" lengthAdjust="spacingAndGlyphs">50</text>
<line x1="28.1" y1="205.5" x2="30.5" y2="205.5" stroke="#231f20" stroke-width="0.8"/>
<text x="27.3" y="208.49" font-size="8.3" text-anchor="end" textLength="4.25" lengthAdjust="spacingAndGlyphs">0</text>
<line x1="28.1" y1="227.5" x2="30.5" y2="227.5" stroke="#231f20" stroke-width="0.8"/>
<text x="27.3" y="229.99" font-size="8.3" text-anchor="end" textLength="12.74" lengthAdjust="spacingAndGlyphs">–50</text>
<line x1="30.5" y1="205.5" x2="124.5" y2="205.5" stroke="#222" stroke-width="1" stroke-dasharray="1 1.2"/>
<line x1="38.5" y1="227.5" x2="38.5" y2="229.9" stroke="#231f20" stroke-width="0.8"/>
<text x="39.35" y="238.12" font-size="8.4" text-anchor="end" textLength="10.86" lengthAdjust="spacingAndGlyphs" transform="rotate(-45 39.35 235.1)">0:1</text>
<line x1="55.5" y1="227.5" x2="55.5" y2="229.9" stroke="#231f20" stroke-width="0.8"/>
<text x="55.6" y="238.12" font-size="8.4" text-anchor="end" textLength="26.06" lengthAdjust="spacingAndGlyphs" transform="rotate(-45 55.6 235.1)">0.625:1</text>
<line x1="71.5" y1="227.5" x2="71.5" y2="229.9" stroke="#231f20" stroke-width="0.8"/>
<text x="71.85" y="238.12" font-size="8.4" text-anchor="end" textLength="21.72" lengthAdjust="spacingAndGlyphs" transform="rotate(-45 71.85 235.1)">1.25:1</text>
<line x1="87.5" y1="227.5" x2="87.5" y2="229.9" stroke="#231f20" stroke-width="0.8"/>
<text x="88.1" y="238.12" font-size="8.4" text-anchor="end" textLength="17.37" lengthAdjust="spacingAndGlyphs" transform="rotate(-45 88.1 235.1)">2.5:1</text>
<line x1="103.5" y1="227.5" x2="103.5" y2="229.9" stroke="#231f20" stroke-width="0.8"/>
<text x="104.35" y="238.12" font-size="8.4" text-anchor="end" textLength="10.86" lengthAdjust="spacingAndGlyphs" transform="rotate(-45 104.35 235.1)">5:1</text>
<line x1="120.5" y1="227.5" x2="120.5" y2="229.9" stroke="#231f20" stroke-width="0.8"/>
<text x="120.6" y="238.12" font-size="8.4" text-anchor="end" textLength="15.2" lengthAdjust="spacingAndGlyphs" transform="rotate(-45 120.6 235.1)">10:1</text>
<text x="77" y="148.86" font-size="9.9" text-anchor="middle" textLength="28.86" lengthAdjust="spacingAndGlyphs">JeKo-1</text>
<text x="10" y="196.81" font-size="8.5" text-anchor="middle" textLength="30" lengthAdjust="spacingAndGlyphs" transform="rotate(-90 10 193.75)">% Killing</text>
<line x1="55.5" y1="207.65" x2="55.5" y2="203.35" stroke="#231f20" stroke-width="1"/>
<line x1="53.3" y1="207.5" x2="56.7" y2="207.5" stroke="#231f20" stroke-width="1"/>
<line x1="53.3" y1="203.5" x2="56.7" y2="203.5" stroke="#231f20" stroke-width="1"/>
<line x1="71.5" y1="202.49" x2="71.5" y2="200.34" stroke="#231f20" stroke-width="1"/>
<line x1="69.55" y1="202.5" x2="72.95" y2="202.5" stroke="#231f20" stroke-width="1"/>
<line x1="69.55" y1="200.5" x2="72.95" y2="200.5" stroke="#231f20" stroke-width="1"/>
<line x1="87.5" y1="196.9" x2="87.5" y2="194.32" stroke="#231f20" stroke-width="1"/>
<line x1="85.8" y1="196.5" x2="89.2" y2="196.5" stroke="#231f20" stroke-width="1"/>
<line x1="85.8" y1="194.5" x2="89.2" y2="194.5" stroke="#231f20" stroke-width="1"/>
<line x1="103.5" y1="194.75" x2="103.5" y2="192.17" stroke="#231f20" stroke-width="1"/>
<line x1="102.05" y1="194.5" x2="105.45" y2="194.5" stroke="#231f20" stroke-width="1"/>
<line x1="102.05" y1="192.5" x2="105.45" y2="192.5" stroke="#231f20" stroke-width="1"/>
<line x1="120.5" y1="190.45" x2="120.5" y2="187.87" stroke="#231f20" stroke-width="1"/>
<line x1="118.3" y1="190.5" x2="121.7" y2="190.5" stroke="#231f20" stroke-width="1"/>
<line x1="118.3" y1="187.5" x2="121.7" y2="187.5" stroke="#231f20" stroke-width="1"/>
<path d="M38.75,205.5 L55,205.5 L71.25,201.2 L87.5,195.61 L103.75,193.46 L120,189.16" fill="none" stroke="#1a5592" stroke-width="1.5"/>
<line x1="55.5" y1="211.09" x2="55.5" y2="208.51" stroke="#231f20" stroke-width="1"/>
<line x1="53.3" y1="211.5" x2="56.7" y2="211.5" stroke="#231f20" stroke-width="1"/>
<line x1="53.3" y1="208.5" x2="56.7" y2="208.5" stroke="#231f20" stroke-width="1"/>
<line x1="71.5" y1="210.23" x2="71.5" y2="207.65" stroke="#231f20" stroke-width="1"/>
<line x1="69.55" y1="210.5" x2="72.95" y2="210.5" stroke="#231f20" stroke-width="1"/>
<line x1="69.55" y1="207.5" x2="72.95" y2="207.5" stroke="#231f20" stroke-width="1"/>
<line x1="87.5" y1="208.94" x2="87.5" y2="202.06" stroke="#231f20" stroke-width="1"/>
<line x1="85.8" y1="208.5" x2="89.2" y2="208.5" stroke="#231f20" stroke-width="1"/>
<line x1="85.8" y1="202.5" x2="89.2" y2="202.5" stroke="#231f20" stroke-width="1"/>
<line x1="103.5" y1="202.92" x2="103.5" y2="199.48" stroke="#231f20" stroke-width="1"/>
<line x1="102.05" y1="202.5" x2="105.45" y2="202.5" stroke="#231f20" stroke-width="1"/>
<line x1="102.05" y1="199.5" x2="105.45" y2="199.5" stroke="#231f20" stroke-width="1"/>
<line x1="120.5" y1="195.18" x2="120.5" y2="191.74" stroke="#231f20" stroke-width="1"/>
<line x1="118.3" y1="195.5" x2="121.7" y2="195.5" stroke="#231f20" stroke-width="1"/>
<line x1="118.3" y1="191.5" x2="121.7" y2="191.5" stroke="#231f20" stroke-width="1"/>
<path d="M38.75,205.5 L55,209.8 L71.25,208.94 L87.5,205.5 L103.75,201.2 L120,193.46" fill="none" stroke="#c8102e" stroke-width="1.5"/>
<rect x="36.65" y="203.4" width="4.2" height="4.2" fill="#1a5592"/>
<rect x="52.9" y="203.4" width="4.2" height="4.2" fill="#1a5592"/>
<rect x="69.15" y="199.1" width="4.2" height="4.2" fill="#1a5592"/>
<rect x="85.4" y="193.51" width="4.2" height="4.2" fill="#1a5592"/>
<rect x="101.65" y="191.36" width="4.2" height="4.2" fill="#1a5592"/>
<rect x="117.9" y="187.06" width="4.2" height="4.2" fill="#1a5592"/>
<polygon points="37.55,203.2 39.95,203.2 41.55,205.5 39.95,207.8 37.55,207.8 35.95,205.5" fill="#c8102e"/>
<polygon points="53.8,207.5 56.2,207.5 57.8,209.8 56.2,212.1 53.8,212.1 52.2,209.8" fill="#c8102e"/>
<polygon points="70.05,206.64 72.45,206.64 74.05,208.94 72.45,211.24 70.05,211.24 68.45,208.94" fill="#c8102e"/>
<polygon points="86.3,203.2 88.7,203.2 90.3,205.5 88.7,207.8 86.3,207.8 84.7,205.5" fill="#c8102e"/>
<polygon points="102.55,198.9 104.95,198.9 106.55,201.2 104.95,203.5 102.55,203.5 100.95,201.2" fill="#c8102e"/>
<polygon points="118.8,191.16 121.2,191.16 122.8,193.46 121.2,195.76 118.8,195.76 117.2,193.46" fill="#c8102e"/>
<text x="55" y="200.31" font-size="7.8" text-anchor="middle" textLength="11.69" lengthAdjust="spacingAndGlyphs">n.s.</text>
<text x="71.25" y="197.01" font-size="7.8" text-anchor="middle" textLength="11.69" lengthAdjust="spacingAndGlyphs">n.s.</text>
<text x="87.5" y="190.81" font-size="7.8" text-anchor="middle" textLength="11.69" lengthAdjust="spacingAndGlyphs">n.s.</text>
<text x="103.75" y="190.81" font-size="7.8" text-anchor="middle" textLength="11.69" lengthAdjust="spacingAndGlyphs">n.s.</text>
<text x="120" y="184.81" font-size="7.8" text-anchor="middle" textLength="11.69" lengthAdjust="spacingAndGlyphs">n.s.</text>
<line x1="36.4" y1="165.5" x2="44" y2="165.5" stroke="#1a5592" stroke-width="1.2"/>
<rect x="38.1" y="163.6" width="4.2" height="4.2" fill="#1a5592"/>
<text x="46.6" y="168.51" font-size="7.8" textLength="35.74" lengthAdjust="spacingAndGlyphs">FAP-CART</text>
<line x1="36.4" y1="174.5" x2="44" y2="174.5" stroke="#c8102e" stroke-width="1.2"/>
<polygon points="39,172.3 41.4,172.3 43,174.6 41.4,176.9 39,176.9 37.4,174.6" fill="#c8102e"/>
<text x="46.6" y="177.41" font-size="7.8" textLength="14.91" lengthAdjust="spacingAndGlyphs">UTD</text>
<line x1="156.5" y1="157.75" x2="156.5" y2="227.6" stroke="#231f20" stroke-width="1.15"/>
<line x1="156.25" y1="227.5" x2="251.25" y2="227.5" stroke="#231f20" stroke-width="1.15"/>
<line x1="153.85" y1="161.5" x2="156.25" y2="161.5" stroke="#231f20" stroke-width="0.8"/>
<text x="153.05" y="164.74" font-size="8.3" text-anchor="end" textLength="12.74" lengthAdjust="spacingAndGlyphs">100</text>
<line x1="153.85" y1="183.5" x2="156.25" y2="183.5" stroke="#231f20" stroke-width="0.8"/>
<text x="153.05" y="186.36" font-size="8.3" text-anchor="end" textLength="8.49" lengthAdjust="spacingAndGlyphs">50</text>
<line x1="153.85" y1="205.5" x2="156.25" y2="205.5" stroke="#231f20" stroke-width="0.8"/>
<text x="153.05" y="207.99" font-size="8.3" text-anchor="end" textLength="4.25" lengthAdjust="spacingAndGlyphs">0</text>
<line x1="153.85" y1="226.5" x2="156.25" y2="226.5" stroke="#231f20" stroke-width="0.8"/>
<text x="153.05" y="229.61" font-size="8.3" text-anchor="end" textLength="12.74" lengthAdjust="spacingAndGlyphs">–50</text>
<line x1="156.25" y1="205.5" x2="251.25" y2="205.5" stroke="#222" stroke-width="1" stroke-dasharray="1 1.2"/>
<line x1="164.5" y1="227" x2="164.5" y2="229.4" stroke="#231f20" stroke-width="0.8"/>
<text x="165.1" y="237.62" font-size="8.4" text-anchor="end" textLength="10.86" lengthAdjust="spacingAndGlyphs" transform="rotate(-45 165.1 234.6)">0:1</text>
<line x1="180.5" y1="227" x2="180.5" y2="229.4" stroke="#231f20" stroke-width="0.8"/>
<text x="181.35" y="237.62" font-size="8.4" text-anchor="end" textLength="26.06" lengthAdjust="spacingAndGlyphs" transform="rotate(-45 181.35 234.6)">0.625:1</text>
<line x1="197.5" y1="227" x2="197.5" y2="229.4" stroke="#231f20" stroke-width="0.8"/>
<text x="197.85" y="237.62" font-size="8.4" text-anchor="end" textLength="21.72" lengthAdjust="spacingAndGlyphs" transform="rotate(-45 197.85 234.6)">1.25:1</text>
<line x1="213.5" y1="227" x2="213.5" y2="229.4" stroke="#231f20" stroke-width="0.8"/>
<text x="214.35" y="237.62" font-size="8.4" text-anchor="end" textLength="17.37" lengthAdjust="spacingAndGlyphs" transform="rotate(-45 214.35 234.6)">2.5:1</text>
<line x1="230.5" y1="227" x2="230.5" y2="229.4" stroke="#231f20" stroke-width="0.8"/>
<text x="230.85" y="237.62" font-size="8.4" text-anchor="end" textLength="10.86" lengthAdjust="spacingAndGlyphs" transform="rotate(-45 230.85 234.6)">5:1</text>
<line x1="246.5" y1="227" x2="246.5" y2="229.4" stroke="#231f20" stroke-width="0.8"/>
<text x="247.35" y="237.62" font-size="8.4" text-anchor="end" textLength="15.2" lengthAdjust="spacingAndGlyphs" transform="rotate(-45 247.35 234.6)">10:1</text>
<text x="203.75" y="148.86" font-size="9.9" text-anchor="middle" textLength="24.29" lengthAdjust="spacingAndGlyphs">WI-38</text>
<text x="135.5" y="196.25" font-size="8.5" text-anchor="middle" textLength="30" lengthAdjust="spacingAndGlyphs" transform="rotate(-90 135.5 193.19)">% Killing</text>
<line x1="180.5" y1="191.59" x2="180.5" y2="185.97" stroke="#231f20" stroke-width="1"/>
<line x1="179.05" y1="191.5" x2="182.45" y2="191.5" stroke="#231f20" stroke-width="1"/>
<line x1="179.05" y1="185.5" x2="182.45" y2="185.5" stroke="#231f20" stroke-width="1"/>
<line x1="197.5" y1="178.19" x2="197.5" y2="175.59" stroke="#231f20" stroke-width="1"/>
<line x1="195.55" y1="178.5" x2="198.95" y2="178.5" stroke="#231f20" stroke-width="1"/>
<line x1="195.55" y1="175.5" x2="198.95" y2="175.5" stroke="#231f20" stroke-width="1"/>
<line x1="213.5" y1="167.37" x2="213.5" y2="164.78" stroke="#231f20" stroke-width="1"/>
<line x1="212.05" y1="167.5" x2="215.45" y2="167.5" stroke="#231f20" stroke-width="1"/>
<line x1="212.05" y1="164.5" x2="215.45" y2="164.5" stroke="#231f20" stroke-width="1"/>
<line x1="230.5" y1="164.34" x2="230.5" y2="162.62" stroke="#231f20" stroke-width="1"/>
<line x1="228.55" y1="164.5" x2="231.95" y2="164.5" stroke="#231f20" stroke-width="1"/>
<line x1="228.55" y1="162.5" x2="231.95" y2="162.5" stroke="#231f20" stroke-width="1"/>
<line x1="246.5" y1="163.91" x2="246.5" y2="162.18" stroke="#231f20" stroke-width="1"/>
<line x1="245.05" y1="163.5" x2="248.45" y2="163.5" stroke="#231f20" stroke-width="1"/>
<line x1="245.05" y1="162.5" x2="248.45" y2="162.5" stroke="#231f20" stroke-width="1"/>
<path d="M164.5,205 L180.75,189 L197.25,176.89 L213.75,166.07 L230.25,163.48 L246.75,163.05" fill="none" stroke="#1a5592" stroke-width="1.5"/>
<line x1="197.5" y1="212.78" x2="197.5" y2="210.19" stroke="#231f20" stroke-width="1"/>
<line x1="195.55" y1="212.5" x2="198.95" y2="212.5" stroke="#231f20" stroke-width="1"/>
<line x1="195.55" y1="210.5" x2="198.95" y2="210.5" stroke="#231f20" stroke-width="1"/>
<line x1="213.5" y1="217.11" x2="213.5" y2="214.51" stroke="#231f20" stroke-width="1"/>
<line x1="212.05" y1="217.5" x2="215.45" y2="217.5" stroke="#231f20" stroke-width="1"/>
<line x1="212.05" y1="214.5" x2="215.45" y2="214.5" stroke="#231f20" stroke-width="1"/>
<line x1="230.5" y1="214.95" x2="230.5" y2="212.35" stroke="#231f20" stroke-width="1"/>
<line x1="228.55" y1="214.5" x2="231.95" y2="214.5" stroke="#231f20" stroke-width="1"/>
<line x1="228.55" y1="212.5" x2="231.95" y2="212.5" stroke="#231f20" stroke-width="1"/>
<line x1="246.5" y1="226.62" x2="246.5" y2="215.38" stroke="#231f20" stroke-width="1"/>
<line x1="245.05" y1="226.5" x2="248.45" y2="226.5" stroke="#231f20" stroke-width="1"/>
<line x1="245.05" y1="215.5" x2="248.45" y2="215.5" stroke="#231f20" stroke-width="1"/>
<path d="M164.5,205 L180.75,204.13 L197.25,211.49 L213.75,215.81 L230.25,213.65 L246.75,223.16" fill="none" stroke="#c8102e" stroke-width="1.5"/>
<rect x="162.4" y="202.9" width="4.2" height="4.2" fill="#1a5592"/>
<rect x="178.65" y="186.9" width="4.2" height="4.2" fill="#1a5592"/>
<rect x="195.15" y="174.79" width="4.2" height="4.2" fill="#1a5592"/>
<rect x="211.65" y="163.97" width="4.2" height="4.2" fill="#1a5592"/>
<rect x="228.15" y="161.38" width="4.2" height="4.2" fill="#1a5592"/>
<rect x="244.65" y="160.95" width="4.2" height="4.2" fill="#1a5592"/>
<polygon points="163.3,202.7 165.7,202.7 167.3,205 165.7,207.3 163.3,207.3 161.7,205" fill="#c8102e"/>
<polygon points="179.55,201.83 181.95,201.83 183.55,204.13 181.95,206.44 179.55,206.44 177.95,204.13" fill="#c8102e"/>
<polygon points="196.05,209.19 198.45,209.19 200.05,211.49 198.45,213.79 196.05,213.79 194.45,211.49" fill="#c8102e"/>
<polygon points="212.55,213.51 214.95,213.51 216.55,215.81 214.95,218.11 212.55,218.11 210.95,215.81" fill="#c8102e"/>
<polygon points="229.05,211.35 231.45,211.35 233.05,213.65 231.45,215.95 229.05,215.95 227.45,213.65" fill="#c8102e"/>
<polygon points="245.55,220.86 247.95,220.86 249.55,223.16 247.95,225.47 245.55,225.47 243.95,223.16" fill="#c8102e"/>
<polygon points="179.03,174.9 179.51,175.94 180.64,176.07 179.8,176.85 180.03,177.98 179.03,177.42 178.02,177.98 178.25,176.85 177.41,176.07 178.54,175.94" fill="#231f20"/>
<polygon points="182.47,174.9 182.96,175.94 184.09,176.07 183.25,176.85 183.48,177.98 182.47,177.42 181.47,177.98 181.7,176.85 180.86,176.07 181.99,175.94" fill="#231f20"/>
<polygon points="192.07,166.6 192.56,167.64 193.69,167.77 192.85,168.55 193.08,169.68 192.07,169.12 191.07,169.68 191.3,168.55 190.46,167.77 191.59,167.64" fill="#231f20"/>
<polygon points="195.52,166.6 196.01,167.64 197.14,167.77 196.3,168.55 196.53,169.68 195.52,169.12 194.52,169.68 194.75,168.55 193.91,167.77 195.04,167.64" fill="#231f20"/>
<polygon points="198.97,166.6 199.46,167.64 200.59,167.77 199.75,168.55 199.98,169.68 198.97,169.12 197.97,169.68 198.2,168.55 197.36,167.77 198.49,167.64" fill="#231f20"/>
<polygon points="202.42,166.6 202.91,167.64 204.04,167.77 203.2,168.55 203.43,169.68 202.42,169.12 201.42,169.68 201.65,168.55 200.81,167.77 201.94,167.64" fill="#231f20"/>
<polygon points="208.57,156.7 209.06,157.74 210.19,157.87 209.35,158.65 209.58,159.78 208.57,159.22 207.57,159.78 207.8,158.65 206.96,157.87 208.09,157.74" fill="#231f20"/>
<polygon points="212.02,156.7 212.51,157.74 213.64,157.87 212.8,158.65 213.03,159.78 212.02,159.22 211.02,159.78 211.25,158.65 210.41,157.87 211.54,157.74" fill="#231f20"/>
<polygon points="215.47,156.7 215.96,157.74 217.09,157.87 216.25,158.65 216.48,159.78 215.47,159.22 214.47,159.78 214.7,158.65 213.86,157.87 214.99,157.74" fill="#231f20"/>
<polygon points="218.92,156.7 219.41,157.74 220.54,157.87 219.7,158.65 219.93,159.78 218.92,159.22 217.92,159.78 218.15,158.65 217.31,157.87 218.44,157.74" fill="#231f20"/>
<polygon points="225.07,154.2 225.56,155.24 226.69,155.37 225.85,156.15 226.08,157.28 225.07,156.72 224.07,157.28 224.3,156.15 223.46,155.37 224.59,155.24" fill="#231f20"/>
<polygon points="228.52,154.2 229.01,155.24 230.14,155.37 229.3,156.15 229.53,157.28 228.52,156.72 227.52,157.28 227.75,156.15 226.91,155.37 228.04,155.24" fill="#231f20"/>
<polygon points="231.97,154.2 232.46,155.24 233.59,155.37 232.75,156.15 232.98,157.28 231.97,156.72 230.97,157.28 231.2,156.15 230.36,155.37 231.49,155.24" fill="#231f20"/>
<polygon points="235.42,154.2 235.91,155.24 237.04,155.37 236.2,156.15 236.43,157.28 235.42,156.72 234.42,157.28 234.65,156.15 233.81,155.37 234.94,155.24" fill="#231f20"/>
<polygon points="241.57,153.2 242.06,154.24 243.19,154.37 242.35,155.15 242.58,156.28 241.57,155.72 240.57,156.28 240.8,155.15 239.96,154.37 241.09,154.24" fill="#231f20"/>
<polygon points="245.02,153.2 245.51,154.24 246.64,154.37 245.8,155.15 246.03,156.28 245.02,155.72 244.02,156.28 244.25,155.15 243.41,154.37 244.54,154.24" fill="#231f20"/>
<polygon points="248.47,153.2 248.96,154.24 250.09,154.37 249.25,155.15 249.48,156.28 248.47,155.72 247.47,156.28 247.7,155.15 246.86,154.37 247.99,154.24" fill="#231f20"/>
<polygon points="251.92,153.2 252.41,154.24 253.54,154.37 252.7,155.15 252.93,156.28 251.92,155.72 250.92,156.28 251.15,155.15 250.31,154.37 251.44,154.24" fill="#231f20"/>
<line x1="204.2" y1="189.5" x2="211.8" y2="189.5" stroke="#1a5592" stroke-width="1.2"/>
<rect x="205.9" y="187.4" width="4.2" height="4.2" fill="#1a5592"/>
<text x="214.4" y="192.31" font-size="7.8" textLength="35.74" lengthAdjust="spacingAndGlyphs">FAP-CART</text>
<line x1="204.2" y1="198.5" x2="211.8" y2="198.5" stroke="#c8102e" stroke-width="1.2"/>
<polygon points="206.8,195.7 209.2,195.7 210.8,198 209.2,200.3 206.8,200.3 205.2,198" fill="#c8102e"/>
<text x="214.4" y="200.81" font-size="7.8" textLength="14.91" lengthAdjust="spacingAndGlyphs">UTD</text>
<line x1="280.5" y1="153.5" x2="280.5" y2="227.35" stroke="#231f20" stroke-width="1.15"/>
<line x1="280.8" y1="226.5" x2="380.5" y2="226.5" stroke="#231f20" stroke-width="1.15"/>
<line x1="278.4" y1="157.5" x2="280.8" y2="157.5" stroke="#231f20" stroke-width="0.8"/>
<text x="277.6" y="160.49" font-size="8.3" text-anchor="end" textLength="12.74" lengthAdjust="spacingAndGlyphs">100</text>
<line x1="278.4" y1="180.5" x2="280.8" y2="180.5" stroke="#231f20" stroke-width="0.8"/>
<text x="277.6" y="183.61" font-size="8.3" text-anchor="end" textLength="8.49" lengthAdjust="spacingAndGlyphs">50</text>
<line x1="278.4" y1="203.5" x2="280.8" y2="203.5" stroke="#231f20" stroke-width="0.8"/>
<text x="277.6" y="206.74" font-size="8.3" text-anchor="end" textLength="4.25" lengthAdjust="spacingAndGlyphs">0</text>
<line x1="278.4" y1="226.5" x2="280.8" y2="226.5" stroke="#231f20" stroke-width="0.8"/>
<text x="277.6" y="229.86" font-size="8.3" text-anchor="end" textLength="12.74" lengthAdjust="spacingAndGlyphs">–50</text>
<line x1="280.8" y1="203.5" x2="380.5" y2="203.5" stroke="#222" stroke-width="1" stroke-dasharray="1 1.2"/>
<line x1="289.5" y1="226.75" x2="289.5" y2="229.15" stroke="#231f20" stroke-width="0.8"/>
<text x="289.85" y="237.37" font-size="8.4" text-anchor="end" textLength="10.86" lengthAdjust="spacingAndGlyphs" transform="rotate(-45 289.85 234.35)">0:1</text>
<line x1="306.5" y1="226.75" x2="306.5" y2="229.15" stroke="#231f20" stroke-width="0.8"/>
<text x="307.35" y="237.37" font-size="8.4" text-anchor="end" textLength="26.06" lengthAdjust="spacingAndGlyphs" transform="rotate(-45 307.35 234.35)">0.625:1</text>
<line x1="323.5" y1="226.75" x2="323.5" y2="229.15" stroke="#231f20" stroke-width="0.8"/>
<text x="324.35" y="237.37" font-size="8.4" text-anchor="end" textLength="21.72" lengthAdjust="spacingAndGlyphs" transform="rotate(-45 324.35 234.35)">1.25:1</text>
<line x1="341.5" y1="226.75" x2="341.5" y2="229.15" stroke="#231f20" stroke-width="0.8"/>
<text x="341.85" y="237.37" font-size="8.4" text-anchor="end" textLength="17.37" lengthAdjust="spacingAndGlyphs" transform="rotate(-45 341.85 234.35)">2.5:1</text>
<line x1="358.5" y1="226.75" x2="358.5" y2="229.15" stroke="#231f20" stroke-width="0.8"/>
<text x="359.1" y="237.37" font-size="8.4" text-anchor="end" textLength="10.86" lengthAdjust="spacingAndGlyphs" transform="rotate(-45 359.1 234.35)">5:1</text>
<line x1="376.5" y1="226.75" x2="376.5" y2="229.15" stroke="#231f20" stroke-width="0.8"/>
<text x="376.6" y="237.37" font-size="8.4" text-anchor="end" textLength="15.2" lengthAdjust="spacingAndGlyphs" transform="rotate(-45 376.6 234.35)">10:1</text>
<text x="331" y="148.86" font-size="9.9" text-anchor="middle" textLength="24.8" lengthAdjust="spacingAndGlyphs">Jurkat</text>
<text x="260.5" y="194.25" font-size="8.5" text-anchor="middle" textLength="30" lengthAdjust="spacingAndGlyphs" transform="rotate(-90 260.5 191.19)">% Killing</text>
<line x1="306.5" y1="226.88" x2="306.5" y2="203.75" stroke="#231f20" stroke-width="1"/>
<line x1="305.05" y1="226.5" x2="308.45" y2="226.5" stroke="#231f20" stroke-width="1"/>
<line x1="305.05" y1="203.5" x2="308.45" y2="203.5" stroke="#231f20" stroke-width="1"/>
<line x1="323.5" y1="226.88" x2="323.5" y2="206.06" stroke="#231f20" stroke-width="1"/>
<line x1="322.05" y1="226.5" x2="325.45" y2="226.5" stroke="#231f20" stroke-width="1"/>
<line x1="322.05" y1="206.5" x2="325.45" y2="206.5" stroke="#231f20" stroke-width="1"/>
<line x1="341.5" y1="226.88" x2="341.5" y2="209.3" stroke="#231f20" stroke-width="1"/>
<line x1="339.55" y1="226.5" x2="342.95" y2="226.5" stroke="#231f20" stroke-width="1"/>
<line x1="339.55" y1="209.5" x2="342.95" y2="209.5" stroke="#231f20" stroke-width="1"/>
<line x1="358.5" y1="224.56" x2="358.5" y2="213" stroke="#231f20" stroke-width="1"/>
<line x1="356.8" y1="224.5" x2="360.2" y2="224.5" stroke="#231f20" stroke-width="1"/>
<line x1="356.8" y1="213.5" x2="360.2" y2="213.5" stroke="#231f20" stroke-width="1"/>
<line x1="376.5" y1="226.88" x2="376.5" y2="210.69" stroke="#231f20" stroke-width="1"/>
<line x1="374.3" y1="226.5" x2="377.7" y2="226.5" stroke="#231f20" stroke-width="1"/>
<line x1="374.3" y1="210.5" x2="377.7" y2="210.5" stroke="#231f20" stroke-width="1"/>
<path d="M289.25,203.75 L306.75,215.31 L323.75,223.18 L341.25,222.25 L358.5,218.55 L376,219.47" fill="none" stroke="#c41c3e" stroke-width="1.5"/>
<line x1="306.5" y1="213" x2="306.5" y2="205.6" stroke="#231f20" stroke-width="1"/>
<line x1="305.05" y1="213.5" x2="308.45" y2="213.5" stroke="#231f20" stroke-width="1"/>
<line x1="305.05" y1="205.5" x2="308.45" y2="205.5" stroke="#231f20" stroke-width="1"/>
<line x1="323.5" y1="216.7" x2="323.5" y2="204.68" stroke="#231f20" stroke-width="1"/>
<line x1="322.05" y1="216.5" x2="325.45" y2="216.5" stroke="#231f20" stroke-width="1"/>
<line x1="322.05" y1="204.5" x2="325.45" y2="204.5" stroke="#231f20" stroke-width="1"/>
<line x1="341.5" y1="208.38" x2="341.5" y2="195.43" stroke="#231f20" stroke-width="1"/>
<line x1="339.55" y1="208.5" x2="342.95" y2="208.5" stroke="#231f20" stroke-width="1"/>
<line x1="339.55" y1="195.5" x2="342.95" y2="195.5" stroke="#231f20" stroke-width="1"/>
<line x1="358.5" y1="213" x2="358.5" y2="205.14" stroke="#231f20" stroke-width="1"/>
<line x1="356.8" y1="213.5" x2="360.2" y2="213.5" stroke="#231f20" stroke-width="1"/>
<line x1="356.8" y1="205.5" x2="360.2" y2="205.5" stroke="#231f20" stroke-width="1"/>
<line x1="376.5" y1="210.69" x2="376.5" y2="202.82" stroke="#231f20" stroke-width="1"/>
<line x1="374.3" y1="210.5" x2="377.7" y2="210.5" stroke="#231f20" stroke-width="1"/>
<line x1="374.3" y1="202.5" x2="377.7" y2="202.5" stroke="#231f20" stroke-width="1"/>
<path d="M289.25,203.75 L306.75,209.3 L323.75,210.69 L341.25,203.75 L358.5,208.38 L376,206.99" fill="none" stroke="#f7941d" stroke-width="1.5"/>
<polygon points="288.05,201.45 290.45,201.45 292.05,203.75 290.45,206.05 288.05,206.05 286.45,203.75" fill="#c41c3e"/>
<polygon points="305.55,213.01 307.95,213.01 309.55,215.31 307.95,217.61 305.55,217.61 303.95,215.31" fill="#c41c3e"/>
<polygon points="322.55,220.88 324.95,220.88 326.55,223.18 324.95,225.48 322.55,225.48 320.95,223.18" fill="#c41c3e"/>
<polygon points="340.05,219.95 342.45,219.95 344.05,222.25 342.45,224.55 340.05,224.55 338.45,222.25" fill="#c41c3e"/>
<polygon points="357.3,216.25 359.7,216.25 361.3,218.55 359.7,220.85 357.3,220.85 355.7,218.55" fill="#c41c3e"/>
<polygon points="374.8,217.17 377.2,217.17 378.8,219.47 377.2,221.78 374.8,221.78 373.2,219.47" fill="#c41c3e"/>
<circle cx="289.25" cy="203.75" r="2.4" fill="#f7941d"/>
<circle cx="306.75" cy="209.3" r="2.4" fill="#f7941d"/>
<circle cx="323.75" cy="210.69" r="2.4" fill="#f7941d"/>
<circle cx="341.25" cy="203.75" r="2.4" fill="#f7941d"/>
<circle cx="358.5" cy="208.38" r="2.4" fill="#f7941d"/>
<circle cx="376" cy="206.99" r="2.4" fill="#f7941d"/>
<text x="306.75" y="200.81" font-size="7.8" text-anchor="middle" textLength="11.69" lengthAdjust="spacingAndGlyphs">n.s.</text>
<text x="323.75" y="202.11" font-size="7.8" text-anchor="middle" textLength="11.69" lengthAdjust="spacingAndGlyphs">n.s.</text>
<text x="341.25" y="193.51" font-size="7.8" text-anchor="middle" textLength="11.69" lengthAdjust="spacingAndGlyphs">n.s.</text>
<text x="358.5" y="200.81" font-size="7.8" text-anchor="middle" textLength="11.69" lengthAdjust="spacingAndGlyphs">n.s.</text>
<text x="376" y="199.81" font-size="7.8" text-anchor="middle" textLength="11.69" lengthAdjust="spacingAndGlyphs">n.s.</text>
<line x1="292.1" y1="168.5" x2="299.7" y2="168.5" stroke="#c41c3e" stroke-width="1.2"/>
<polygon points="294.7,166.4 297.1,166.4 298.7,168.7 297.1,171 294.7,171 293.1,168.7" fill="#c41c3e"/>
<text x="302.3" y="171.51" font-size="7.8" textLength="14.91" lengthAdjust="spacingAndGlyphs">UTD</text>
<line x1="292.1" y1="177.5" x2="299.7" y2="177.5" stroke="#f7941d" stroke-width="1.2"/>
<circle cx="295.9" cy="177.9" r="2.4" fill="#f7941d"/>
<text x="302.3" y="180.71" font-size="7.8" textLength="50.25" lengthAdjust="spacingAndGlyphs">SLAMF7-CART</text>
<line x1="412.5" y1="152.7" x2="412.5" y2="227.2" stroke="#231f20" stroke-width="1.15"/>
<line x1="412.8" y1="226.5" x2="513.1" y2="226.5" stroke="#231f20" stroke-width="1.15"/>
<line x1="410.4" y1="156.5" x2="412.8" y2="156.5" stroke="#231f20" stroke-width="0.8"/>
<text x="409.6" y="159.69" font-size="8.3" text-anchor="end" textLength="12.74" lengthAdjust="spacingAndGlyphs">100</text>
<line x1="410.4" y1="179.5" x2="412.8" y2="179.5" stroke="#231f20" stroke-width="0.8"/>
<text x="409.6" y="182.94" font-size="8.3" text-anchor="end" textLength="8.49" lengthAdjust="spacingAndGlyphs">50</text>
<line x1="410.4" y1="203.5" x2="412.8" y2="203.5" stroke="#231f20" stroke-width="0.8"/>
<text x="409.6" y="206.19" font-size="8.3" text-anchor="end" textLength="4.25" lengthAdjust="spacingAndGlyphs">0</text>
<line x1="410.4" y1="226.5" x2="412.8" y2="226.5" stroke="#231f20" stroke-width="0.8"/>
<text x="409.6" y="229.44" font-size="8.3" text-anchor="end" textLength="12.74" lengthAdjust="spacingAndGlyphs">–50</text>
<line x1="412.8" y1="203.5" x2="513.1" y2="203.5" stroke="#222" stroke-width="1" stroke-dasharray="1 1.2"/>
<line x1="421.5" y1="226.6" x2="421.5" y2="229" stroke="#231f20" stroke-width="0.8"/>
<text x="421.9" y="237.22" font-size="8.4" text-anchor="end" textLength="10.86" lengthAdjust="spacingAndGlyphs" transform="rotate(-45 421.9 234.2)">0:1</text>
<line x1="438.5" y1="226.6" x2="438.5" y2="229" stroke="#231f20" stroke-width="0.8"/>
<text x="439.3" y="237.22" font-size="8.4" text-anchor="end" textLength="26.06" lengthAdjust="spacingAndGlyphs" transform="rotate(-45 439.3 234.2)">0.625:1</text>
<line x1="455.5" y1="226.6" x2="455.5" y2="229" stroke="#231f20" stroke-width="0.8"/>
<text x="456.5" y="237.22" font-size="8.4" text-anchor="end" textLength="21.72" lengthAdjust="spacingAndGlyphs" transform="rotate(-45 456.5 234.2)">1.25:1</text>
<line x1="473.5" y1="226.6" x2="473.5" y2="229" stroke="#231f20" stroke-width="0.8"/>
<text x="474.1" y="237.22" font-size="8.4" text-anchor="end" textLength="17.37" lengthAdjust="spacingAndGlyphs" transform="rotate(-45 474.1 234.2)">2.5:1</text>
<line x1="490.5" y1="226.6" x2="490.5" y2="229" stroke="#231f20" stroke-width="0.8"/>
<text x="491.5" y="237.22" font-size="8.4" text-anchor="end" textLength="10.86" lengthAdjust="spacingAndGlyphs" transform="rotate(-45 491.5 234.2)">5:1</text>
<line x1="508.5" y1="226.6" x2="508.5" y2="229" stroke="#231f20" stroke-width="0.8"/>
<text x="509.2" y="237.22" font-size="8.4" text-anchor="end" textLength="15.2" lengthAdjust="spacingAndGlyphs" transform="rotate(-45 509.2 234.2)">10:1</text>
<text x="462.9" y="148.86" font-size="9.9" text-anchor="middle" textLength="28.85" lengthAdjust="spacingAndGlyphs">MM1.S</text>
<text x="391.3" y="193.63" font-size="8.5" text-anchor="middle" textLength="30" lengthAdjust="spacingAndGlyphs" transform="rotate(-90 391.3 190.57)">% Killing</text>
<line x1="438.5" y1="207.38" x2="438.5" y2="205.52" stroke="#231f20" stroke-width="1"/>
<line x1="437" y1="207.5" x2="440.4" y2="207.5" stroke="#231f20" stroke-width="1"/>
<line x1="437" y1="205.5" x2="440.4" y2="205.5" stroke="#231f20" stroke-width="1"/>
<line x1="455.5" y1="211.1" x2="455.5" y2="209.24" stroke="#231f20" stroke-width="1"/>
<line x1="454.2" y1="211.5" x2="457.6" y2="211.5" stroke="#231f20" stroke-width="1"/>
<line x1="454.2" y1="209.5" x2="457.6" y2="209.5" stroke="#231f20" stroke-width="1"/>
<line x1="473.5" y1="217.15" x2="473.5" y2="206.92" stroke="#231f20" stroke-width="1"/>
<line x1="471.8" y1="217.5" x2="475.2" y2="217.5" stroke="#231f20" stroke-width="1"/>
<line x1="471.8" y1="206.5" x2="475.2" y2="206.5" stroke="#231f20" stroke-width="1"/>
<line x1="490.5" y1="212.5" x2="490.5" y2="204.59" stroke="#231f20" stroke-width="1"/>
<line x1="489.2" y1="212.5" x2="492.6" y2="212.5" stroke="#231f20" stroke-width="1"/>
<line x1="489.2" y1="204.5" x2="492.6" y2="204.5" stroke="#231f20" stroke-width="1"/>
<line x1="508.5" y1="195.29" x2="508.5" y2="190.64" stroke="#231f20" stroke-width="1"/>
<line x1="506.9" y1="195.5" x2="510.3" y2="195.5" stroke="#231f20" stroke-width="1"/>
<line x1="506.9" y1="190.5" x2="510.3" y2="190.5" stroke="#231f20" stroke-width="1"/>
<path d="M421.3,203.2 L438.7,206.45 L455.9,210.17 L473.5,212.5 L490.9,208.78 L508.6,192.97" fill="none" stroke="#c41c3e" stroke-width="1.5"/>
<line x1="438.5" y1="175.3" x2="438.5" y2="168.32" stroke="#231f20" stroke-width="1"/>
<line x1="437" y1="175.5" x2="440.4" y2="175.5" stroke="#231f20" stroke-width="1"/>
<line x1="437" y1="168.5" x2="440.4" y2="168.5" stroke="#231f20" stroke-width="1"/>
<line x1="455.5" y1="166" x2="455.5" y2="162.28" stroke="#231f20" stroke-width="1"/>
<line x1="454.2" y1="166.5" x2="457.6" y2="166.5" stroke="#231f20" stroke-width="1"/>
<line x1="454.2" y1="162.5" x2="457.6" y2="162.5" stroke="#231f20" stroke-width="1"/>
<line x1="473.5" y1="159.95" x2="473.5" y2="158.09" stroke="#231f20" stroke-width="1"/>
<line x1="471.8" y1="159.5" x2="475.2" y2="159.5" stroke="#231f20" stroke-width="1"/>
<line x1="471.8" y1="158.5" x2="475.2" y2="158.5" stroke="#231f20" stroke-width="1"/>
<line x1="490.5" y1="158.56" x2="490.5" y2="156.7" stroke="#231f20" stroke-width="1"/>
<line x1="489.2" y1="158.5" x2="492.6" y2="158.5" stroke="#231f20" stroke-width="1"/>
<line x1="489.2" y1="156.5" x2="492.6" y2="156.5" stroke="#231f20" stroke-width="1"/>
<line x1="508.5" y1="158.56" x2="508.5" y2="156.7" stroke="#231f20" stroke-width="1"/>
<line x1="506.9" y1="158.5" x2="510.3" y2="158.5" stroke="#231f20" stroke-width="1"/>
<line x1="506.9" y1="156.5" x2="510.3" y2="156.5" stroke="#231f20" stroke-width="1"/>
<path d="M421.3,203.2 L438.7,172.04 L455.9,164.14 L473.5,159.02 L490.9,157.63 L508.6,157.63" fill="none" stroke="#f7941d" stroke-width="1.5"/>
<polygon points="420.1,200.9 422.5,200.9 424.1,203.2 422.5,205.5 420.1,205.5 418.5,203.2" fill="#c41c3e"/>
<polygon points="437.5,204.15 439.9,204.15 441.5,206.45 439.9,208.75 437.5,208.75 435.9,206.45" fill="#c41c3e"/>
<polygon points="454.7,207.87 457.1,207.87 458.7,210.17 457.1,212.47 454.7,212.47 453.1,210.17" fill="#c41c3e"/>
<polygon points="472.3,210.2 474.7,210.2 476.3,212.5 474.7,214.8 472.3,214.8 470.7,212.5" fill="#c41c3e"/>
<polygon points="489.7,206.48 492.1,206.48 493.7,208.78 492.1,211.08 489.7,211.08 488.1,208.78" fill="#c41c3e"/>
<polygon points="507.4,190.67 509.8,190.67 511.4,192.97 509.8,195.27 507.4,195.27 505.8,192.97" fill="#c41c3e"/>
<circle cx="421.3" cy="203.2" r="2.4" fill="#f7941d"/>
<circle cx="438.7" cy="172.04" r="2.4" fill="#f7941d"/>
<circle cx="455.9" cy="164.14" r="2.4" fill="#f7941d"/>
<circle cx="473.5" cy="159.02" r="2.4" fill="#f7941d"/>
<circle cx="490.9" cy="157.63" r="2.4" fill="#f7941d"/>
<circle cx="508.6" cy="157.63" r="2.4" fill="#f7941d"/>
<polygon points="433.52,162.6 434.01,163.64 435.14,163.77 434.3,164.55 434.53,165.68 433.52,165.12 432.52,165.68 432.75,164.55 431.91,163.77 433.04,163.64" fill="#231f20"/>
<polygon points="436.97,162.6 437.46,163.64 438.59,163.77 437.75,164.55 437.98,165.68 436.97,165.12 435.97,165.68 436.2,164.55 435.36,163.77 436.49,163.64" fill="#231f20"/>
<polygon points="440.42,162.6 440.91,163.64 442.04,163.77 441.2,164.55 441.43,165.68 440.42,165.12 439.42,165.68 439.65,164.55 438.81,163.77 439.94,163.64" fill="#231f20"/>
<polygon points="443.88,162.6 444.36,163.64 445.49,163.77 444.65,164.55 444.88,165.68 443.88,165.12 442.87,165.68 443.1,164.55 442.26,163.77 443.39,163.64" fill="#231f20"/>
<polygon points="450.72,156.9 451.21,157.94 452.34,158.07 451.5,158.85 451.73,159.98 450.72,159.42 449.72,159.98 449.95,158.85 449.11,158.07 450.24,157.94" fill="#231f20"/>
<polygon points="454.17,156.9 454.66,157.94 455.79,158.07 454.95,158.85 455.18,159.98 454.17,159.42 453.17,159.98 453.4,158.85 452.56,158.07 453.69,157.94" fill="#231f20"/>
<polygon points="457.62,156.9 458.11,157.94 459.24,158.07 458.4,158.85 458.63,159.98 457.62,159.42 456.62,159.98 456.85,158.85 456.01,158.07 457.14,157.94" fill="#231f20"/>
<polygon points="461.07,156.9 461.56,157.94 462.69,158.07 461.85,158.85 462.08,159.98 461.07,159.42 460.07,159.98 460.3,158.85 459.46,158.07 460.59,157.94" fill="#231f20"/>
<polygon points="468.32,153.6 468.81,154.64 469.94,154.77 469.1,155.55 469.33,156.68 468.32,156.12 467.32,156.68 467.55,155.55 466.71,154.77 467.84,154.64" fill="#231f20"/>
<polygon points="471.77,153.6 472.26,154.64 473.39,154.77 472.55,155.55 472.78,156.68 471.77,156.12 470.77,156.68 471,155.55 470.16,154.77 471.29,154.64" fill="#231f20"/>
<polygon points="475.22,153.6 475.71,154.64 476.84,154.77 476,155.55 476.23,156.68 475.22,156.12 474.22,156.68 474.45,155.55 473.61,154.77 474.74,154.64" fill="#231f20"/>
<polygon points="478.68,153.6 479.16,154.64 480.29,154.77 479.45,155.55 479.68,156.68 478.68,156.12 477.67,156.68 477.9,155.55 477.06,154.77 478.19,154.64" fill="#231f20"/>
<polygon points="485.72,151.7 486.21,152.74 487.34,152.87 486.5,153.65 486.73,154.78 485.72,154.22 484.72,154.78 484.95,153.65 484.11,152.87 485.24,152.74" fill="#231f20"/>
<polygon points="489.17,151.7 489.66,152.74 490.79,152.87 489.95,153.65 490.18,154.78 489.17,154.22 488.17,154.78 488.4,153.65 487.56,152.87 488.69,152.74" fill="#231f20"/>
<polygon points="492.62,151.7 493.11,152.74 494.24,152.87 493.4,153.65 493.63,154.78 492.62,154.22 491.62,154.78 491.85,153.65 491.01,152.87 492.14,152.74" fill="#231f20"/>
<polygon points="496.07,151.7 496.56,152.74 497.69,152.87 496.85,153.65 497.08,154.78 496.07,154.22 495.07,154.78 495.3,153.65 494.46,152.87 495.59,152.74" fill="#231f20"/>
<polygon points="503.43,149.7 503.91,150.74 505.04,150.87 504.2,151.65 504.43,152.78 503.43,152.22 502.42,152.78 502.65,151.65 501.81,150.87 502.94,150.74" fill="#231f20"/>
<polygon points="506.88,149.7 507.36,150.74 508.49,150.87 507.65,151.65 507.88,152.78 506.88,152.22 505.87,152.78 506.1,151.65 505.26,150.87 506.39,150.74" fill="#231f20"/>
<polygon points="510.32,149.7 510.81,150.74 511.94,150.87 511.1,151.65 511.33,152.78 510.32,152.22 509.32,152.78 509.55,151.65 508.71,150.87 509.84,150.74" fill="#231f20"/>
<polygon points="513.77,149.7 514.26,150.74 515.39,150.87 514.55,151.65 514.78,152.78 513.77,152.22 512.77,152.78 513,151.65 512.16,150.87 513.29,150.74" fill="#231f20"/>
<line x1="447.4" y1="178.5" x2="455" y2="178.5" stroke="#c41c3e" stroke-width="1.2"/>
<polygon points="450,175.7 452.4,175.7 454,178 452.4,180.3 450,180.3 448.4,178" fill="#c41c3e"/>
<text x="457.6" y="180.81" font-size="7.8" textLength="14.91" lengthAdjust="spacingAndGlyphs">UTD</text>
<line x1="447.4" y1="185.5" x2="455" y2="185.5" stroke="#f7941d" stroke-width="1.2"/>
<circle cx="451.2" cy="185.8" r="2.4" fill="#f7941d"/>
<text x="457.6" y="188.61" font-size="7.8" textLength="50.25" lengthAdjust="spacingAndGlyphs">SLAMF7-CART</text>
<text x="6.6" y="274.52" font-size="10.6" font-weight="bold">D</text>
<text x="104.7" y="274.16" font-size="9.9" text-anchor="middle" textLength="43.6" lengthAdjust="spacingAndGlyphs">FAP-CART</text>
<text x="379.1" y="274.16" font-size="9.9" text-anchor="middle" textLength="62.8" lengthAdjust="spacingAndGlyphs">SLAMF7-CART</text>
<line x1="53.5" y1="293.5" x2="53.5" y2="380.1" stroke="#231f20" stroke-width="1.2"/>
<line x1="53.75" y1="379.5" x2="111.3" y2="379.5" stroke="#231f20" stroke-width="1.2"/>
<line x1="51.35" y1="379.5" x2="53.75" y2="379.5" stroke="#231f20" stroke-width="0.8"/>
<text x="49.35" y="382.42" font-size="8.1" text-anchor="end" textLength="4.14" lengthAdjust="spacingAndGlyphs">0</text>
<line x1="51.35" y1="351.5" x2="53.75" y2="351.5" stroke="#231f20" stroke-width="0.8"/>
<text x="49.35" y="354.83" font-size="8.1" text-anchor="end" textLength="24.87" lengthAdjust="spacingAndGlyphs">500000</text>
<line x1="51.35" y1="324.5" x2="53.75" y2="324.5" stroke="#231f20" stroke-width="0.8"/>
<text x="49.35" y="327.25" font-size="8.1" text-anchor="end" textLength="29.01" lengthAdjust="spacingAndGlyphs">1000000</text>
<line x1="51.35" y1="296.5" x2="53.75" y2="296.5" stroke="#231f20" stroke-width="0.8"/>
<text x="49.35" y="299.67" font-size="8.1" text-anchor="end" textLength="29.01" lengthAdjust="spacingAndGlyphs">1500000</text>
<rect x="58.9" y="378.6" width="7.2" height="0.9" fill="#3cb54a"/>
<line x1="62.5" y1="379.22" x2="62.5" y2="378.4" stroke="#231f20" stroke-width="1"/>
<line x1="60.7" y1="379.5" x2="64.3" y2="379.5" stroke="#231f20" stroke-width="1"/>
<line x1="60.7" y1="378.5" x2="64.3" y2="378.5" stroke="#231f20" stroke-width="1"/>
<line x1="62.5" y1="379.5" x2="62.5" y2="381.9" stroke="#231f20" stroke-width="0.8"/>
<rect x="69.4" y="378.6" width="7.2" height="0.9" fill="#16694a"/>
<line x1="73.5" y1="379.5" x2="73.5" y2="381.9" stroke="#231f20" stroke-width="0.8"/>
<rect x="79.65" y="359.64" width="7.2" height="19.86" fill="#c8102e"/>
<line x1="83.5" y1="365.98" x2="83.5" y2="352.47" stroke="#231f20" stroke-width="1"/>
<line x1="81.45" y1="365.5" x2="85.05" y2="365.5" stroke="#231f20" stroke-width="1"/>
<line x1="81.45" y1="352.5" x2="85.05" y2="352.5" stroke="#231f20" stroke-width="1"/>
<line x1="83.5" y1="379.5" x2="83.5" y2="381.9" stroke="#231f20" stroke-width="0.8"/>
<rect x="90.15" y="340.33" width="7.2" height="39.17" fill="#124f8c"/>
<line x1="93.5" y1="342.81" x2="93.5" y2="337.02" stroke="#231f20" stroke-width="1"/>
<line x1="91.95" y1="342.5" x2="95.55" y2="342.5" stroke="#231f20" stroke-width="1"/>
<line x1="91.95" y1="337.5" x2="95.55" y2="337.5" stroke="#231f20" stroke-width="1"/>
<line x1="93.5" y1="379.5" x2="93.5" y2="381.9" stroke="#231f20" stroke-width="0.8"/>
<rect x="100.65" y="331.5" width="7.2" height="48" fill="#8b80c4"/>
<line x1="104.5" y1="336.47" x2="104.5" y2="325.71" stroke="#231f20" stroke-width="1"/>
<line x1="102.45" y1="336.5" x2="106.05" y2="336.5" stroke="#231f20" stroke-width="1"/>
<line x1="102.45" y1="325.5" x2="106.05" y2="325.5" stroke="#231f20" stroke-width="1"/>
<line x1="104.5" y1="379.5" x2="104.5" y2="381.9" stroke="#231f20" stroke-width="0.8"/>
<rect x="60" y="294" width="7.4" height="3.2" fill="#3cb54a"/>
<text x="70" y="298.36" font-size="7.1" textLength="52.4" lengthAdjust="spacingAndGlyphs">Medium control</text>
<rect x="60" y="300.9" width="7.4" height="3.2" fill="#16694a"/>
<text x="70" y="305.26" font-size="7.1" textLength="16.8" lengthAdjust="spacingAndGlyphs">K562</text>
<rect x="60" y="307.8" width="7.4" height="3.2" fill="#c8102e"/>
<text x="70" y="312.16" font-size="7.1" textLength="6" lengthAdjust="spacingAndGlyphs">PI</text>
<rect x="60" y="314.7" width="7.4" height="3.2" fill="#124f8c"/>
<text x="70" y="319.06" font-size="7.1" textLength="19.5" lengthAdjust="spacingAndGlyphs">WI-38</text>
<rect x="60" y="321.6" width="7.4" height="3.2" fill="#8b80c4"/>
<text x="70" y="325.96" font-size="7.1" textLength="17.3" lengthAdjust="spacingAndGlyphs">CAFs</text>
<text x="10" y="339.29" font-size="8.3" text-anchor="middle" textLength="105" lengthAdjust="spacingAndGlyphs" transform="rotate(-90 10 336.3)">Absolute number of CD3 T cells</text>
<line x1="313.5" y1="295.4" x2="313.5" y2="381.7" stroke="#231f20" stroke-width="1.2"/>
<line x1="313.4" y1="381.5" x2="368" y2="381.5" stroke="#231f20" stroke-width="1.2"/>
<line x1="311" y1="381.5" x2="313.4" y2="381.5" stroke="#231f20" stroke-width="0.8"/>
<text x="309" y="384.02" font-size="8.1" text-anchor="end" textLength="4.14" lengthAdjust="spacingAndGlyphs">0</text>
<line x1="311" y1="364.5" x2="313.4" y2="364.5" stroke="#231f20" stroke-width="0.8"/>
<text x="309" y="367.62" font-size="8.1" text-anchor="end" textLength="20.72" lengthAdjust="spacingAndGlyphs">50000</text>
<line x1="311" y1="348.5" x2="313.4" y2="348.5" stroke="#231f20" stroke-width="0.8"/>
<text x="309" y="351.22" font-size="8.1" text-anchor="end" textLength="24.87" lengthAdjust="spacingAndGlyphs">100000</text>
<line x1="311" y1="331.5" x2="313.4" y2="331.5" stroke="#231f20" stroke-width="0.8"/>
<text x="309" y="334.82" font-size="8.1" text-anchor="end" textLength="24.87" lengthAdjust="spacingAndGlyphs">150000</text>
<line x1="311" y1="315.5" x2="313.4" y2="315.5" stroke="#231f20" stroke-width="0.8"/>
<text x="309" y="318.42" font-size="8.1" text-anchor="end" textLength="24.87" lengthAdjust="spacingAndGlyphs">200000</text>
<line x1="311" y1="299.5" x2="313.4" y2="299.5" stroke="#231f20" stroke-width="0.8"/>
<text x="309" y="302.02" font-size="8.1" text-anchor="end" textLength="24.87" lengthAdjust="spacingAndGlyphs">250000</text>
<rect x="317.5" y="380.2" width="5.8" height="0.9" fill="#3cb54a"/>
<line x1="320.5" y1="380.94" x2="320.5" y2="380.44" stroke="#231f20" stroke-width="1"/>
<line x1="318.6" y1="380.5" x2="322.2" y2="380.5" stroke="#231f20" stroke-width="1"/>
<line x1="318.6" y1="380.5" x2="322.2" y2="380.5" stroke="#231f20" stroke-width="1"/>
<line x1="320.5" y1="381.1" x2="320.5" y2="383.5" stroke="#231f20" stroke-width="0.8"/>
<rect x="327.4" y="380.2" width="5.8" height="0.9" fill="#16694a"/>
<line x1="330.5" y1="381.1" x2="330.5" y2="383.5" stroke="#231f20" stroke-width="0.8"/>
<rect x="337.8" y="346" width="5.8" height="35.1" fill="#c8102e"/>
<line x1="340.5" y1="362.4" x2="340.5" y2="328.62" stroke="#231f20" stroke-width="1"/>
<line x1="338.9" y1="362.5" x2="342.5" y2="362.5" stroke="#231f20" stroke-width="1"/>
<line x1="338.9" y1="328.5" x2="342.5" y2="328.5" stroke="#231f20" stroke-width="1"/>
<line x1="340.5" y1="381.1" x2="340.5" y2="383.5" stroke="#231f20" stroke-width="0.8"/>
<rect x="348.1" y="329.28" width="5.8" height="51.82" fill="#f7941d"/>
<line x1="351.5" y1="347.64" x2="351.5" y2="309.92" stroke="#231f20" stroke-width="1"/>
<line x1="349.2" y1="347.5" x2="352.8" y2="347.5" stroke="#231f20" stroke-width="1"/>
<line x1="349.2" y1="309.5" x2="352.8" y2="309.5" stroke="#231f20" stroke-width="1"/>
<line x1="351.5" y1="381.1" x2="351.5" y2="383.5" stroke="#231f20" stroke-width="0.8"/>
<rect x="358" y="331.9" width="5.8" height="49.2" fill="#8b80c4"/>
<line x1="360.5" y1="333.54" x2="360.5" y2="327.96" stroke="#231f20" stroke-width="1"/>
<line x1="359.1" y1="333.5" x2="362.7" y2="333.5" stroke="#231f20" stroke-width="1"/>
<line x1="359.1" y1="327.5" x2="362.7" y2="327.5" stroke="#231f20" stroke-width="1"/>
<line x1="360.5" y1="381.1" x2="360.5" y2="383.5" stroke="#231f20" stroke-width="0.8"/>
<rect x="317.3" y="281.9" width="7.4" height="3.2" fill="#3cb54a"/>
<text x="327.3" y="286.26" font-size="7.1" textLength="52.4" lengthAdjust="spacingAndGlyphs">Medium control</text>
<rect x="317.3" y="288.7" width="7.4" height="3.2" fill="#16694a"/>
<text x="327.3" y="293.06" font-size="7.1" textLength="16.8" lengthAdjust="spacingAndGlyphs">K562</text>
<rect x="317.3" y="295.5" width="7.4" height="3.2" fill="#c8102e"/>
<text x="327.3" y="299.86" font-size="7.1" textLength="6" lengthAdjust="spacingAndGlyphs">PI</text>
<rect x="317.3" y="302.4" width="7.4" height="3.2" fill="#f7941d"/>
<text x="327.3" y="306.76" font-size="7.1" textLength="22.8" lengthAdjust="spacingAndGlyphs">MM1.S</text>
<rect x="317.3" y="309.6" width="7.4" height="3.2" fill="#8b80c4"/>
<text x="327.3" y="313.96" font-size="7.1" textLength="17.3" lengthAdjust="spacingAndGlyphs">CAFs</text>
<text x="273.2" y="341.29" font-size="8.3" text-anchor="middle" textLength="101.5" lengthAdjust="spacingAndGlyphs" transform="rotate(-90 273.2 338.3)">Absolute number of CD3 T cells</text>
<line x1="127.9" y1="315.3" x2="195.4" y2="315.3" stroke="#3cb54a" stroke-width="0.6" opacity="0.55"/>
<line x1="127.9" y1="326.2" x2="195.4" y2="326.2" stroke="#16694a" stroke-width="0.6" opacity="0.55"/>
<line x1="127.9" y1="336.9" x2="195.4" y2="336.9" stroke="#c8102e" stroke-width="0.6" opacity="0.55"/>
<line x1="127.9" y1="347.9" x2="195.4" y2="347.9" stroke="#124f8c" stroke-width="0.6" opacity="0.55"/>
<polygon points="150,315.3 160,315 165,314.5 169,313.8 172,312.9 175,311.7 177,310.3 178.3,308.3 179.2,304.3 179.8,299.3 180.4,295.3 181.2,295.1 181.8,299.3 182.3,306.3 183,311.3 184,313.8 185.5,314.9 187,315.3" fill="#3cb54a"/>
<polygon points="177.5,326.2 178.6,324.7 179.2,321.2 179.6,314.2 180,308.2 180.5,305.6 181.5,305.4 182.1,309.2 182.5,316.2 183,322.2 183.8,325.2 185,326.2" fill="#16694a"/>
<polygon points="144.5,326.2 145.5,325 147,325.2 148,326.2" fill="#16694a"/>
<polygon points="160,336.9 160,336.79 160.65,336.7 161.3,336.58 161.95,336.38 162.6,336.09 163.25,335.66 163.9,335.08 164.55,334.29 165.2,333.27 165.85,332 166.5,330.47 167.15,328.71 167.8,326.77 168.45,324.73 169.1,322.7 169.75,320.82 170.4,319.2 171.05,317.99 171.7,317.27 172.35,317.12 173,317.58 173.65,318.64 174.3,320.2 174.95,322.11 175.6,324.22 176.25,326.38 176.9,328.46 177.55,330.34 178.2,331.96 178.85,333.3 179.5,334.37 180.15,335.17 180.8,335.76 181.45,336.17 182.1,336.45 182.75,336.63 183.4,336.74 184.05,336.81 184.7,336.85 185.35,336.87 186,336.89 186,336.9" fill="#c8102e"/>
<polygon points="160,347.9 160,347.81 160.6,347.74 161.2,347.63 161.8,347.46 162.4,347.19 163,346.8 163.6,346.24 164.2,345.47 164.8,344.46 165.4,343.19 166,341.63 166.6,339.81 167.2,337.79 167.8,335.65 168.4,333.51 169,331.52 169.6,329.82 170.2,328.56 170.8,327.84 171.4,327.73 172,328.25 172.6,329.34 173.2,330.91 173.8,332.82 174.4,334.93 175,337.08 175.6,339.16 176.2,341.05 176.8,342.7 177.4,344.07 178,345.17 178.6,346.01 179.2,346.63 179.8,347.08 180.4,347.38 181,347.58 181.6,347.71 182.2,347.79 182.8,347.84 183.4,347.87 184,347.88 184,347.9" fill="#124f8c"/>
<polygon points="158,358.6 158,358.51 158.62,358.44 159.25,358.32 159.88,358.15 160.5,357.88 161.12,357.49 161.75,356.94 162.38,356.19 163,355.21 163.62,353.96 164.25,352.44 164.88,350.68 165.5,348.7 166.12,346.6 166.75,344.49 167.38,342.5 168,340.77 168.62,339.45 169.25,338.63 169.88,338.4 170.5,338.82 171.12,339.88 171.75,341.46 172.38,343.44 173,345.63 173.62,347.87 174.25,350.02 174.88,351.97 175.5,353.64 176.12,355.02 176.75,356.1 177.38,356.91 178,357.5 178.62,357.9 179.25,358.18 179.88,358.35 180.5,358.46 181.12,358.52 181.75,358.56 182.38,358.58 183,358.59 183,358.6" fill="#8b80c4"/>
<rect x="127.5" y="291.5" width="68" height="68" fill="none" stroke="#231f20" stroke-width="1.2"/>
<text x="197.4" y="311.95" font-size="8.2" textLength="55" lengthAdjust="spacingAndGlyphs">Medium control</text>
<text x="197.4" y="322.95" font-size="8.2" textLength="18.5" lengthAdjust="spacingAndGlyphs">K562</text>
<text x="197.4" y="334.85" font-size="8.2" textLength="7.5" lengthAdjust="spacingAndGlyphs">PI</text>
<text x="197.4" y="346.25" font-size="8.2" textLength="21" lengthAdjust="spacingAndGlyphs">WI-38</text>
<text x="197.4" y="357.65" font-size="8.2" textLength="19" lengthAdjust="spacingAndGlyphs">CAFs</text>
<text x="143.2" y="368.65" font-size="6.8" text-anchor="middle" textLength="3.52" lengthAdjust="spacingAndGlyphs">0</text>
<text x="160.5" y="368.65" font-size="6.8" text-anchor="middle">10<tspan dy="-2.38" font-size="4.42">4</tspan></text>
<text x="171.4" y="368.65" font-size="6.8" text-anchor="middle">10<tspan dy="-2.38" font-size="4.42">5</tspan></text>
<text x="182.1" y="368.65" font-size="6.8" text-anchor="middle">10<tspan dy="-2.38" font-size="4.42">6</tspan></text>
<text x="191.6" y="368.65" font-size="6.8" text-anchor="middle">10<tspan dy="-2.38" font-size="4.42">7</tspan></text>
<line x1="160.5" y1="359.4" x2="160.5" y2="361.6" stroke="#231f20" stroke-width="0.6"/>
<line x1="163.78" y1="359.4" x2="163.78" y2="361" stroke="#231f20" stroke-width="0.6"/>
<line x1="165.7" y1="359.4" x2="165.7" y2="361" stroke="#231f20" stroke-width="0.6"/>
<line x1="167.06" y1="359.4" x2="167.06" y2="361" stroke="#231f20" stroke-width="0.6"/>
<line x1="168.12" y1="359.4" x2="168.12" y2="361" stroke="#231f20" stroke-width="0.6"/>
<line x1="168.98" y1="359.4" x2="168.98" y2="361" stroke="#231f20" stroke-width="0.6"/>
<line x1="169.71" y1="359.4" x2="169.71" y2="361" stroke="#231f20" stroke-width="0.6"/>
<line x1="170.34" y1="359.4" x2="170.34" y2="361" stroke="#231f20" stroke-width="0.6"/>
<line x1="170.9" y1="359.4" x2="170.9" y2="361" stroke="#231f20" stroke-width="0.6"/>
<line x1="171.4" y1="359.4" x2="171.4" y2="361.6" stroke="#231f20" stroke-width="0.6"/>
<line x1="174.62" y1="359.4" x2="174.62" y2="361" stroke="#231f20" stroke-width="0.6"/>
<line x1="176.51" y1="359.4" x2="176.51" y2="361" stroke="#231f20" stroke-width="0.6"/>
<line x1="177.84" y1="359.4" x2="177.84" y2="361" stroke="#231f20" stroke-width="0.6"/>
<line x1="178.88" y1="359.4" x2="178.88" y2="361" stroke="#231f20" stroke-width="0.6"/>
<line x1="179.73" y1="359.4" x2="179.73" y2="361" stroke="#231f20" stroke-width="0.6"/>
<line x1="180.44" y1="359.4" x2="180.44" y2="361" stroke="#231f20" stroke-width="0.6"/>
<line x1="181.06" y1="359.4" x2="181.06" y2="361" stroke="#231f20" stroke-width="0.6"/>
<line x1="181.61" y1="359.4" x2="181.61" y2="361" stroke="#231f20" stroke-width="0.6"/>
<line x1="182.1" y1="359.4" x2="182.1" y2="361.6" stroke="#231f20" stroke-width="0.6"/>
<line x1="184.96" y1="359.4" x2="184.96" y2="361" stroke="#231f20" stroke-width="0.6"/>
<line x1="186.63" y1="359.4" x2="186.63" y2="361" stroke="#231f20" stroke-width="0.6"/>
<line x1="187.82" y1="359.4" x2="187.82" y2="361" stroke="#231f20" stroke-width="0.6"/>
<line x1="188.74" y1="359.4" x2="188.74" y2="361" stroke="#231f20" stroke-width="0.6"/>
<line x1="189.49" y1="359.4" x2="189.49" y2="361" stroke="#231f20" stroke-width="0.6"/>
<line x1="190.13" y1="359.4" x2="190.13" y2="361" stroke="#231f20" stroke-width="0.6"/>
<line x1="190.68" y1="359.4" x2="190.68" y2="361" stroke="#231f20" stroke-width="0.6"/>
<line x1="191.17" y1="359.4" x2="191.17" y2="361" stroke="#231f20" stroke-width="0.6"/>
<line x1="191.6" y1="359.4" x2="191.6" y2="361.4" stroke="#231f20" stroke-width="0.5"/>
<line x1="137.2" y1="359.4" x2="137.2" y2="361" stroke="#231f20" stroke-width="0.6"/>
<line x1="139.2" y1="359.4" x2="139.2" y2="361" stroke="#231f20" stroke-width="0.6"/>
<line x1="141.2" y1="359.4" x2="141.2" y2="361" stroke="#231f20" stroke-width="0.6"/>
<line x1="143.2" y1="359.4" x2="143.2" y2="361.6" stroke="#231f20" stroke-width="0.6"/>
<line x1="145.2" y1="359.4" x2="145.2" y2="361" stroke="#231f20" stroke-width="0.6"/>
<line x1="147.2" y1="359.4" x2="147.2" y2="361" stroke="#231f20" stroke-width="0.6"/>
<line x1="149.2" y1="359.4" x2="149.2" y2="361" stroke="#231f20" stroke-width="0.6"/>
<line x1="129.4" y1="359.4" x2="129.4" y2="361" stroke="#231f20" stroke-width="0.6"/>
<line x1="130.9" y1="359.4" x2="130.9" y2="361" stroke="#231f20" stroke-width="0.6"/>
<line x1="132.4" y1="359.4" x2="132.4" y2="361" stroke="#231f20" stroke-width="0.6"/>
<line x1="133.9" y1="359.4" x2="133.9" y2="361" stroke="#231f20" stroke-width="0.6"/>
<text x="121.5" y="378.4" font-size="8.6" textLength="19.5" lengthAdjust="spacingAndGlyphs">CFSE</text>
<line x1="146" y1="375.5" x2="191.5" y2="375.5" stroke="#231f20" stroke-width="1"/>
<polygon points="195.2,375.5 191,373.74 191,377.26" fill="#231f20"/>
<line x1="386.7" y1="315.2" x2="454" y2="315.2" stroke="#3cb54a" stroke-width="0.6" opacity="0.55"/>
<line x1="386.7" y1="326.5" x2="454" y2="326.5" stroke="#16694a" stroke-width="0.6" opacity="0.55"/>
<line x1="386.7" y1="337.3" x2="454" y2="337.3" stroke="#c8102e" stroke-width="0.6" opacity="0.55"/>
<line x1="386.7" y1="348.6" x2="454" y2="348.6" stroke="#124f8c" stroke-width="0.6" opacity="0.55"/>
<polygon points="423.5,315.2 425.5,314.2 427,311.7 427.9,307.2 428.5,300.2 429.1,294.8 429.7,294.8 430.3,300.2 430.9,307.2 431.7,312.2 433,314.2 435,315.2" fill="#3cb54a"/>
<polygon points="424.5,326.5 426.5,325 427.8,321.5 428.6,315.5 429.3,310 429.9,309 430.6,313.5 431.4,320.5 432.5,324.5 434,326 435.5,326.5" fill="#16694a"/>
<polygon points="408,337.3 408,337.25 408.65,337.21 409.3,337.14 409.95,337.02 410.6,336.84 411.25,336.56 411.9,336.14 412.55,335.56 413.2,334.76 413.85,333.71 414.5,332.39 415.15,330.81 415.8,328.99 416.45,327 417.1,324.95 417.75,322.96 418.4,321.19 419.05,319.78 419.7,318.85 420.35,318.5 421,318.71 421.65,319.4 422.3,320.51 422.95,321.96 423.6,323.65 424.25,325.47 424.9,327.32 425.55,329.09 426.2,330.73 426.85,332.18 427.5,333.41 428.15,334.42 428.8,335.23 429.45,335.85 430.1,336.31 430.75,336.64 431.4,336.87 432.05,337.03 432.7,337.13 433.35,337.2 434,337.24 434,337.3" fill="#c8102e"/>
<polygon points="408,348.6 408,348.57 408.65,348.53 409.3,348.47 409.95,348.36 410.6,348.18 411.25,347.89 411.9,347.43 412.55,346.76 413.2,345.83 413.85,344.57 414.5,342.96 415.15,341 415.8,338.77 416.45,336.35 417.1,333.93 417.75,331.7 418.4,329.86 419.05,328.62 419.7,328.11 420.35,328.29 421,329 421.65,330.18 422.3,331.74 422.95,333.57 423.6,335.54 424.25,337.56 424.9,339.51 425.55,341.3 426.2,342.9 426.85,344.26 427.5,345.39 428.15,346.28 428.8,346.97 429.45,347.48 430.1,347.86 430.75,348.12 431.4,348.29 432.05,348.41 432.7,348.49 433.35,348.53 434,348.56 434,348.6" fill="#124f8c"/>
<polygon points="404,358.4 406,357.4 408,354.4 410,348.4 411.5,343.4 413,339.9 414.3,338.9 415.5,339.8 416.5,338.6 417.5,339.9 418.6,341.9 419.8,343.9 421,344.9 422.5,347.4 424,351.4 425.5,354.9 427,357.2 429,358.4" fill="#8b80c4"/>
<rect x="386.5" y="291.5" width="68" height="67" fill="none" stroke="#231f20" stroke-width="1.2"/>
<text x="456.8" y="312.35" font-size="8.2" textLength="55" lengthAdjust="spacingAndGlyphs">Medium control</text>
<text x="456.8" y="323.35" font-size="8.2" textLength="18.5" lengthAdjust="spacingAndGlyphs">K562</text>
<text x="456.8" y="334.95" font-size="8.2" textLength="7.5" lengthAdjust="spacingAndGlyphs">PI</text>
<text x="456.8" y="346.25" font-size="8.2" textLength="21" lengthAdjust="spacingAndGlyphs">WI-38</text>
<text x="456.8" y="357.75" font-size="8.2" textLength="19" lengthAdjust="spacingAndGlyphs">CAFs</text>
<text x="398.3" y="368.05" font-size="6.8" text-anchor="middle" textLength="3.52" lengthAdjust="spacingAndGlyphs">0</text>
<text x="419.8" y="368.05" font-size="6.8" text-anchor="middle">10<tspan dy="-2.38" font-size="4.42">4</tspan></text>
<text x="431.2" y="368.05" font-size="6.8" text-anchor="middle">10<tspan dy="-2.38" font-size="4.42">5</tspan></text>
<text x="440.6" y="368.05" font-size="6.8" text-anchor="middle">10<tspan dy="-2.38" font-size="4.42">6</tspan></text>
<text x="450.5" y="368.05" font-size="6.8" text-anchor="middle">10<tspan dy="-2.38" font-size="4.42">7</tspan></text>
<line x1="419.8" y1="358.9" x2="419.8" y2="361.1" stroke="#231f20" stroke-width="0.6"/>
<line x1="423.23" y1="358.9" x2="423.23" y2="360.5" stroke="#231f20" stroke-width="0.6"/>
<line x1="425.24" y1="358.9" x2="425.24" y2="360.5" stroke="#231f20" stroke-width="0.6"/>
<line x1="426.66" y1="358.9" x2="426.66" y2="360.5" stroke="#231f20" stroke-width="0.6"/>
<line x1="427.77" y1="358.9" x2="427.77" y2="360.5" stroke="#231f20" stroke-width="0.6"/>
<line x1="428.67" y1="358.9" x2="428.67" y2="360.5" stroke="#231f20" stroke-width="0.6"/>
<line x1="429.43" y1="358.9" x2="429.43" y2="360.5" stroke="#231f20" stroke-width="0.6"/>
<line x1="430.1" y1="358.9" x2="430.1" y2="360.5" stroke="#231f20" stroke-width="0.6"/>
<line x1="430.68" y1="358.9" x2="430.68" y2="360.5" stroke="#231f20" stroke-width="0.6"/>
<line x1="431.2" y1="358.9" x2="431.2" y2="361.1" stroke="#231f20" stroke-width="0.6"/>
<line x1="434.03" y1="358.9" x2="434.03" y2="360.5" stroke="#231f20" stroke-width="0.6"/>
<line x1="435.68" y1="358.9" x2="435.68" y2="360.5" stroke="#231f20" stroke-width="0.6"/>
<line x1="436.86" y1="358.9" x2="436.86" y2="360.5" stroke="#231f20" stroke-width="0.6"/>
<line x1="437.77" y1="358.9" x2="437.77" y2="360.5" stroke="#231f20" stroke-width="0.6"/>
<line x1="438.51" y1="358.9" x2="438.51" y2="360.5" stroke="#231f20" stroke-width="0.6"/>
<line x1="439.14" y1="358.9" x2="439.14" y2="360.5" stroke="#231f20" stroke-width="0.6"/>
<line x1="439.69" y1="358.9" x2="439.69" y2="360.5" stroke="#231f20" stroke-width="0.6"/>
<line x1="440.17" y1="358.9" x2="440.17" y2="360.5" stroke="#231f20" stroke-width="0.6"/>
<line x1="440.6" y1="358.9" x2="440.6" y2="361.1" stroke="#231f20" stroke-width="0.6"/>
<line x1="443.58" y1="358.9" x2="443.58" y2="360.5" stroke="#231f20" stroke-width="0.6"/>
<line x1="445.32" y1="358.9" x2="445.32" y2="360.5" stroke="#231f20" stroke-width="0.6"/>
<line x1="446.56" y1="358.9" x2="446.56" y2="360.5" stroke="#231f20" stroke-width="0.6"/>
<line x1="447.52" y1="358.9" x2="447.52" y2="360.5" stroke="#231f20" stroke-width="0.6"/>
<line x1="448.3" y1="358.9" x2="448.3" y2="360.5" stroke="#231f20" stroke-width="0.6"/>
<line x1="448.97" y1="358.9" x2="448.97" y2="360.5" stroke="#231f20" stroke-width="0.6"/>
<line x1="449.54" y1="358.9" x2="449.54" y2="360.5" stroke="#231f20" stroke-width="0.6"/>
<line x1="450.05" y1="358.9" x2="450.05" y2="360.5" stroke="#231f20" stroke-width="0.6"/>
<line x1="450.5" y1="358.9" x2="450.5" y2="360.9" stroke="#231f20" stroke-width="0.5"/>
<line x1="392.3" y1="358.9" x2="392.3" y2="360.5" stroke="#231f20" stroke-width="0.6"/>
<line x1="394.3" y1="358.9" x2="394.3" y2="360.5" stroke="#231f20" stroke-width="0.6"/>
<line x1="396.3" y1="358.9" x2="396.3" y2="360.5" stroke="#231f20" stroke-width="0.6"/>
<line x1="398.3" y1="358.9" x2="398.3" y2="361.1" stroke="#231f20" stroke-width="0.6"/>
<line x1="400.3" y1="358.9" x2="400.3" y2="360.5" stroke="#231f20" stroke-width="0.6"/>
<line x1="402.3" y1="358.9" x2="402.3" y2="360.5" stroke="#231f20" stroke-width="0.6"/>
<line x1="404.3" y1="358.9" x2="404.3" y2="360.5" stroke="#231f20" stroke-width="0.6"/>
<line x1="388.2" y1="358.9" x2="388.2" y2="360.5" stroke="#231f20" stroke-width="0.6"/>
<line x1="389.7" y1="358.9" x2="389.7" y2="360.5" stroke="#231f20" stroke-width="0.6"/>
<line x1="391.2" y1="358.9" x2="391.2" y2="360.5" stroke="#231f20" stroke-width="0.6"/>
<line x1="392.7" y1="358.9" x2="392.7" y2="360.5" stroke="#231f20" stroke-width="0.6"/>
<text x="385.4" y="378.1" font-size="8.6" textLength="19.5" lengthAdjust="spacingAndGlyphs">CFSE</text>
<line x1="407" y1="375.5" x2="454.3" y2="375.5" stroke="#231f20" stroke-width="1"/>
<polygon points="458,375.5 453.8,373.74 453.8,377.26" fill="#231f20"/>
<text x="7.4" y="418.82" font-size="10.6" font-weight="bold">E</text>
<text x="112" y="404.46" font-size="9.9" text-anchor="middle" textLength="44" lengthAdjust="spacingAndGlyphs">FAP-CART</text>
<text x="395.2" y="404.46" font-size="9.9" text-anchor="middle" textLength="63" lengthAdjust="spacingAndGlyphs">SLAMF7-CART</text>
<text x="58.3" y="424.36" font-size="9.6" text-anchor="middle" textLength="67.4" lengthAdjust="spacingAndGlyphs">Medium control</text>
<ellipse cx="45" cy="456.6" rx="7.4" ry="7.2" fill="#0a1ee6" transform="rotate(0 45 456.6)"/>
<ellipse cx="44.87" cy="456.33" rx="6.29" ry="6.12" fill="#00a8f0" transform="rotate(0 44.87 456.33)"/>
<ellipse cx="44.67" cy="455.93" rx="4.66" ry="4.54" fill="#2ed03a" transform="rotate(0 44.67 455.93)"/>
<ellipse cx="44.44" cy="455.48" rx="2.81" ry="2.74" fill="#f0f000" transform="rotate(0 44.44 455.48)"/>
<ellipse cx="44.24" cy="455.09" rx="1.18" ry="1.15" fill="#f01010" transform="rotate(0 44.24 455.09)"/>
<rect x="23.5" y="427.5" width="71" height="69" fill="none" stroke="#231f20" stroke-width="1.2"/>
<rect x="49.5" y="445.5" width="31" height="20" fill="none" stroke="#555" stroke-width="0.6"/>
<text x="62.7" y="439.62" font-size="8.1" text-anchor="middle" textLength="20.5" lengthAdjust="spacingAndGlyphs">2.01%</text>
<text x="21.4" y="434.26" font-size="6" text-anchor="end">10<tspan dy="-2.1" font-size="3.9">7</tspan></text>
<line x1="22" y1="432.1" x2="23.6" y2="432.1" stroke="#231f20" stroke-width="0.5"/>
<text x="21.4" y="447.06" font-size="6" text-anchor="end">10<tspan dy="-2.1" font-size="3.9">6</tspan></text>
<line x1="22" y1="444.9" x2="23.6" y2="444.9" stroke="#231f20" stroke-width="0.5"/>
<text x="21.4" y="459.46" font-size="6" text-anchor="end">10<tspan dy="-2.1" font-size="3.9">5</tspan></text>
<line x1="22" y1="457.3" x2="23.6" y2="457.3" stroke="#231f20" stroke-width="0.5"/>
<text x="21.4" y="472.36" font-size="6" text-anchor="end">10<tspan dy="-2.1" font-size="3.9">4</tspan></text>
<line x1="22" y1="470.2" x2="23.6" y2="470.2" stroke="#231f20" stroke-width="0.5"/>
<text x="21.4" y="485.66" font-size="6" text-anchor="end">10<tspan dy="-2.1" font-size="3.9">3</tspan></text>
<line x1="22" y1="483.5" x2="23.6" y2="483.5" stroke="#231f20" stroke-width="0.5"/>
<text x="21.4" y="496.86" font-size="6" text-anchor="end">10<tspan dy="-2.1" font-size="3.9">2</tspan></text>
<line x1="22" y1="494.7" x2="23.6" y2="494.7" stroke="#231f20" stroke-width="0.5"/>
<line x1="22.6" y1="441.05" x2="23.6" y2="441.05" stroke="#231f20" stroke-width="0.4"/>
<line x1="22.6" y1="438.79" x2="23.6" y2="438.79" stroke="#231f20" stroke-width="0.4"/>
<line x1="22.6" y1="437.19" x2="23.6" y2="437.19" stroke="#231f20" stroke-width="0.4"/>
<line x1="22.6" y1="435.95" x2="23.6" y2="435.95" stroke="#231f20" stroke-width="0.4"/>
<line x1="22.6" y1="434.94" x2="23.6" y2="434.94" stroke="#231f20" stroke-width="0.4"/>
<line x1="22.6" y1="434.08" x2="23.6" y2="434.08" stroke="#231f20" stroke-width="0.4"/>
<line x1="22.6" y1="433.34" x2="23.6" y2="433.34" stroke="#231f20" stroke-width="0.4"/>
<line x1="22.6" y1="432.69" x2="23.6" y2="432.69" stroke="#231f20" stroke-width="0.4"/>
<line x1="22.6" y1="453.57" x2="23.6" y2="453.57" stroke="#231f20" stroke-width="0.4"/>
<line x1="22.6" y1="451.38" x2="23.6" y2="451.38" stroke="#231f20" stroke-width="0.4"/>
<line x1="22.6" y1="449.83" x2="23.6" y2="449.83" stroke="#231f20" stroke-width="0.4"/>
<line x1="22.6" y1="448.63" x2="23.6" y2="448.63" stroke="#231f20" stroke-width="0.4"/>
<line x1="22.6" y1="447.65" x2="23.6" y2="447.65" stroke="#231f20" stroke-width="0.4"/>
<line x1="22.6" y1="446.82" x2="23.6" y2="446.82" stroke="#231f20" stroke-width="0.4"/>
<line x1="22.6" y1="446.1" x2="23.6" y2="446.1" stroke="#231f20" stroke-width="0.4"/>
<line x1="22.6" y1="445.47" x2="23.6" y2="445.47" stroke="#231f20" stroke-width="0.4"/>
<line x1="22.6" y1="466.32" x2="23.6" y2="466.32" stroke="#231f20" stroke-width="0.4"/>
<line x1="22.6" y1="464.05" x2="23.6" y2="464.05" stroke="#231f20" stroke-width="0.4"/>
<line x1="22.6" y1="462.43" x2="23.6" y2="462.43" stroke="#231f20" stroke-width="0.4"/>
<line x1="22.6" y1="461.18" x2="23.6" y2="461.18" stroke="#231f20" stroke-width="0.4"/>
<line x1="22.6" y1="460.16" x2="23.6" y2="460.16" stroke="#231f20" stroke-width="0.4"/>
<line x1="22.6" y1="459.3" x2="23.6" y2="459.3" stroke="#231f20" stroke-width="0.4"/>
<line x1="22.6" y1="458.55" x2="23.6" y2="458.55" stroke="#231f20" stroke-width="0.4"/>
<line x1="22.6" y1="457.89" x2="23.6" y2="457.89" stroke="#231f20" stroke-width="0.4"/>
<line x1="22.6" y1="479.5" x2="23.6" y2="479.5" stroke="#231f20" stroke-width="0.4"/>
<line x1="22.6" y1="477.15" x2="23.6" y2="477.15" stroke="#231f20" stroke-width="0.4"/>
<line x1="22.6" y1="475.49" x2="23.6" y2="475.49" stroke="#231f20" stroke-width="0.4"/>
<line x1="22.6" y1="474.2" x2="23.6" y2="474.2" stroke="#231f20" stroke-width="0.4"/>
<line x1="22.6" y1="473.15" x2="23.6" y2="473.15" stroke="#231f20" stroke-width="0.4"/>
<line x1="22.6" y1="472.26" x2="23.6" y2="472.26" stroke="#231f20" stroke-width="0.4"/>
<line x1="22.6" y1="471.49" x2="23.6" y2="471.49" stroke="#231f20" stroke-width="0.4"/>
<line x1="22.6" y1="470.81" x2="23.6" y2="470.81" stroke="#231f20" stroke-width="0.4"/>
<line x1="22.6" y1="491.33" x2="23.6" y2="491.33" stroke="#231f20" stroke-width="0.4"/>
<line x1="22.6" y1="489.36" x2="23.6" y2="489.36" stroke="#231f20" stroke-width="0.4"/>
<line x1="22.6" y1="487.96" x2="23.6" y2="487.96" stroke="#231f20" stroke-width="0.4"/>
<line x1="22.6" y1="486.87" x2="23.6" y2="486.87" stroke="#231f20" stroke-width="0.4"/>
<line x1="22.6" y1="485.98" x2="23.6" y2="485.98" stroke="#231f20" stroke-width="0.4"/>
<line x1="22.6" y1="485.23" x2="23.6" y2="485.23" stroke="#231f20" stroke-width="0.4"/>
<line x1="22.6" y1="484.59" x2="23.6" y2="484.59" stroke="#231f20" stroke-width="0.4"/>
<line x1="22.6" y1="484.01" x2="23.6" y2="484.01" stroke="#231f20" stroke-width="0.4"/>
<text x="28.1" y="506.76" font-size="6" text-anchor="middle">10<tspan dy="-2.1" font-size="3.9">2</tspan></text>
<line x1="26.6" y1="496.6" x2="26.6" y2="498.4" stroke="#231f20" stroke-width="0.5"/>
<text x="38.9" y="506.76" font-size="6" text-anchor="middle">10<tspan dy="-2.1" font-size="3.9">3</tspan></text>
<line x1="37.4" y1="496.6" x2="37.4" y2="498.4" stroke="#231f20" stroke-width="0.5"/>
<text x="52.8" y="506.76" font-size="6" text-anchor="middle">10<tspan dy="-2.1" font-size="3.9">4</tspan></text>
<line x1="51.3" y1="496.6" x2="51.3" y2="498.4" stroke="#231f20" stroke-width="0.5"/>
<text x="65.3" y="506.76" font-size="6" text-anchor="middle">10<tspan dy="-2.1" font-size="3.9">5</tspan></text>
<line x1="63.8" y1="496.6" x2="63.8" y2="498.4" stroke="#231f20" stroke-width="0.5"/>
<text x="79.3" y="506.76" font-size="6" text-anchor="middle">10<tspan dy="-2.1" font-size="3.9">6</tspan></text>
<line x1="77.8" y1="496.6" x2="77.8" y2="498.4" stroke="#231f20" stroke-width="0.5"/>
<text x="89.4" y="506.76" font-size="6" text-anchor="middle">10<tspan dy="-2.1" font-size="3.9">7</tspan></text>
<line x1="87.9" y1="496.6" x2="87.9" y2="498.4" stroke="#231f20" stroke-width="0.5"/>
<line x1="29.85" y1="496.6" x2="29.85" y2="497.7" stroke="#231f20" stroke-width="0.4"/>
<line x1="31.75" y1="496.6" x2="31.75" y2="497.7" stroke="#231f20" stroke-width="0.4"/>
<line x1="33.1" y1="496.6" x2="33.1" y2="497.7" stroke="#231f20" stroke-width="0.4"/>
<line x1="34.15" y1="496.6" x2="34.15" y2="497.7" stroke="#231f20" stroke-width="0.4"/>
<line x1="35" y1="496.6" x2="35" y2="497.7" stroke="#231f20" stroke-width="0.4"/>
<line x1="35.73" y1="496.6" x2="35.73" y2="497.7" stroke="#231f20" stroke-width="0.4"/>
<line x1="36.35" y1="496.6" x2="36.35" y2="497.7" stroke="#231f20" stroke-width="0.4"/>
<line x1="36.91" y1="496.6" x2="36.91" y2="497.7" stroke="#231f20" stroke-width="0.4"/>
<line x1="41.58" y1="496.6" x2="41.58" y2="497.7" stroke="#231f20" stroke-width="0.4"/>
<line x1="44.03" y1="496.6" x2="44.03" y2="497.7" stroke="#231f20" stroke-width="0.4"/>
<line x1="45.77" y1="496.6" x2="45.77" y2="497.7" stroke="#231f20" stroke-width="0.4"/>
<line x1="47.12" y1="496.6" x2="47.12" y2="497.7" stroke="#231f20" stroke-width="0.4"/>
<line x1="48.22" y1="496.6" x2="48.22" y2="497.7" stroke="#231f20" stroke-width="0.4"/>
<line x1="49.15" y1="496.6" x2="49.15" y2="497.7" stroke="#231f20" stroke-width="0.4"/>
<line x1="49.95" y1="496.6" x2="49.95" y2="497.7" stroke="#231f20" stroke-width="0.4"/>
<line x1="50.66" y1="496.6" x2="50.66" y2="497.7" stroke="#231f20" stroke-width="0.4"/>
<line x1="55.06" y1="496.6" x2="55.06" y2="497.7" stroke="#231f20" stroke-width="0.4"/>
<line x1="57.26" y1="496.6" x2="57.26" y2="497.7" stroke="#231f20" stroke-width="0.4"/>
<line x1="58.83" y1="496.6" x2="58.83" y2="497.7" stroke="#231f20" stroke-width="0.4"/>
<line x1="60.04" y1="496.6" x2="60.04" y2="497.7" stroke="#231f20" stroke-width="0.4"/>
<line x1="61.03" y1="496.6" x2="61.03" y2="497.7" stroke="#231f20" stroke-width="0.4"/>
<line x1="61.86" y1="496.6" x2="61.86" y2="497.7" stroke="#231f20" stroke-width="0.4"/>
<line x1="62.59" y1="496.6" x2="62.59" y2="497.7" stroke="#231f20" stroke-width="0.4"/>
<line x1="63.23" y1="496.6" x2="63.23" y2="497.7" stroke="#231f20" stroke-width="0.4"/>
<line x1="68.01" y1="496.6" x2="68.01" y2="497.7" stroke="#231f20" stroke-width="0.4"/>
<line x1="70.48" y1="496.6" x2="70.48" y2="497.7" stroke="#231f20" stroke-width="0.4"/>
<line x1="72.23" y1="496.6" x2="72.23" y2="497.7" stroke="#231f20" stroke-width="0.4"/>
<line x1="73.59" y1="496.6" x2="73.59" y2="497.7" stroke="#231f20" stroke-width="0.4"/>
<line x1="74.69" y1="496.6" x2="74.69" y2="497.7" stroke="#231f20" stroke-width="0.4"/>
<line x1="75.63" y1="496.6" x2="75.63" y2="497.7" stroke="#231f20" stroke-width="0.4"/>
<line x1="76.44" y1="496.6" x2="76.44" y2="497.7" stroke="#231f20" stroke-width="0.4"/>
<line x1="77.16" y1="496.6" x2="77.16" y2="497.7" stroke="#231f20" stroke-width="0.4"/>
<line x1="80.84" y1="496.6" x2="80.84" y2="497.7" stroke="#231f20" stroke-width="0.4"/>
<line x1="82.62" y1="496.6" x2="82.62" y2="497.7" stroke="#231f20" stroke-width="0.4"/>
<line x1="83.88" y1="496.6" x2="83.88" y2="497.7" stroke="#231f20" stroke-width="0.4"/>
<line x1="84.86" y1="496.6" x2="84.86" y2="497.7" stroke="#231f20" stroke-width="0.4"/>
<line x1="85.66" y1="496.6" x2="85.66" y2="497.7" stroke="#231f20" stroke-width="0.4"/>
<line x1="86.34" y1="496.6" x2="86.34" y2="497.7" stroke="#231f20" stroke-width="0.4"/>
<line x1="86.92" y1="496.6" x2="86.92" y2="497.7" stroke="#231f20" stroke-width="0.4"/>
<line x1="87.44" y1="496.6" x2="87.44" y2="497.7" stroke="#231f20" stroke-width="0.4"/>
<text x="140.7" y="424.36" font-size="9.6" text-anchor="middle" textLength="29.4" lengthAdjust="spacingAndGlyphs">JeKo-1</text>
<ellipse cx="127.2" cy="455.6" rx="7.7" ry="6.9" fill="#0a1ee6" transform="rotate(0 127.2 455.6)"/>
<ellipse cx="126.93" cy="455.41" rx="6.54" ry="5.87" fill="#00a8f0" transform="rotate(0 126.93 455.41)"/>
<ellipse cx="126.53" cy="455.12" rx="4.85" ry="4.35" fill="#2ed03a" transform="rotate(0 126.53 455.12)"/>
<ellipse cx="126.08" cy="454.79" rx="2.93" ry="2.62" fill="#f0f000" transform="rotate(0 126.08 454.79)"/>
<ellipse cx="125.69" cy="454.51" rx="1.23" ry="1.1" fill="#f01010" transform="rotate(0 125.69 454.51)"/>
<rect x="106.5" y="427.5" width="69" height="69" fill="none" stroke="#231f20" stroke-width="1.2"/>
<rect x="132.5" y="444.5" width="31" height="20" fill="none" stroke="#555" stroke-width="0.6"/>
<text x="153.3" y="439.22" font-size="8.1" text-anchor="middle" textLength="20.5" lengthAdjust="spacingAndGlyphs">2.23%</text>
<text x="104.2" y="434.26" font-size="6" text-anchor="end">10<tspan dy="-2.1" font-size="3.9">7</tspan></text>
<line x1="104.8" y1="432.1" x2="106.4" y2="432.1" stroke="#231f20" stroke-width="0.5"/>
<text x="104.2" y="447.06" font-size="6" text-anchor="end">10<tspan dy="-2.1" font-size="3.9">6</tspan></text>
<line x1="104.8" y1="444.9" x2="106.4" y2="444.9" stroke="#231f20" stroke-width="0.5"/>
<text x="104.2" y="459.46" font-size="6" text-anchor="end">10<tspan dy="-2.1" font-size="3.9">5</tspan></text>
<line x1="104.8" y1="457.3" x2="106.4" y2="457.3" stroke="#231f20" stroke-width="0.5"/>
<text x="104.2" y="472.36" font-size="6" text-anchor="end">10<tspan dy="-2.1" font-size="3.9">4</tspan></text>
<line x1="104.8" y1="470.2" x2="106.4" y2="470.2" stroke="#231f20" stroke-width="0.5"/>
<text x="104.2" y="485.66" font-size="6" text-anchor="end">10<tspan dy="-2.1" font-size="3.9">3</tspan></text>
<line x1="104.8" y1="483.5" x2="106.4" y2="483.5" stroke="#231f20" stroke-width="0.5"/>
<text x="104.2" y="496.86" font-size="6" text-anchor="end">10<tspan dy="-2.1" font-size="3.9">2</tspan></text>
<line x1="104.8" y1="494.7" x2="106.4" y2="494.7" stroke="#231f20" stroke-width="0.5"/>
<line x1="105.4" y1="441.05" x2="106.4" y2="441.05" stroke="#231f20" stroke-width="0.4"/>
<line x1="105.4" y1="438.79" x2="106.4" y2="438.79" stroke="#231f20" stroke-width="0.4"/>
<line x1="105.4" y1="437.19" x2="106.4" y2="437.19" stroke="#231f20" stroke-width="0.4"/>
<line x1="105.4" y1="435.95" x2="106.4" y2="435.95" stroke="#231f20" stroke-width="0.4"/>
<line x1="105.4" y1="434.94" x2="106.4" y2="434.94" stroke="#231f20" stroke-width="0.4"/>
<line x1="105.4" y1="434.08" x2="106.4" y2="434.08" stroke="#231f20" stroke-width="0.4"/>
<line x1="105.4" y1="433.34" x2="106.4" y2="433.34" stroke="#231f20" stroke-width="0.4"/>
<line x1="105.4" y1="432.69" x2="106.4" y2="432.69" stroke="#231f20" stroke-width="0.4"/>
<line x1="105.4" y1="453.57" x2="106.4" y2="453.57" stroke="#231f20" stroke-width="0.4"/>
<line x1="105.4" y1="451.38" x2="106.4" y2="451.38" stroke="#231f20" stroke-width="0.4"/>
<line x1="105.4" y1="449.83" x2="106.4" y2="449.83" stroke="#231f20" stroke-width="0.4"/>
<line x1="105.4" y1="448.63" x2="106.4" y2="448.63" stroke="#231f20" stroke-width="0.4"/>
<line x1="105.4" y1="447.65" x2="106.4" y2="447.65" stroke="#231f20" stroke-width="0.4"/>
<line x1="105.4" y1="446.82" x2="106.4" y2="446.82" stroke="#231f20" stroke-width="0.4"/>
<line x1="105.4" y1="446.1" x2="106.4" y2="446.1" stroke="#231f20" stroke-width="0.4"/>
<line x1="105.4" y1="445.47" x2="106.4" y2="445.47" stroke="#231f20" stroke-width="0.4"/>
<line x1="105.4" y1="466.32" x2="106.4" y2="466.32" stroke="#231f20" stroke-width="0.4"/>
<line x1="105.4" y1="464.05" x2="106.4" y2="464.05" stroke="#231f20" stroke-width="0.4"/>
<line x1="105.4" y1="462.43" x2="106.4" y2="462.43" stroke="#231f20" stroke-width="0.4"/>
<line x1="105.4" y1="461.18" x2="106.4" y2="461.18" stroke="#231f20" stroke-width="0.4"/>
<line x1="105.4" y1="460.16" x2="106.4" y2="460.16" stroke="#231f20" stroke-width="0.4"/>
<line x1="105.4" y1="459.3" x2="106.4" y2="459.3" stroke="#231f20" stroke-width="0.4"/>
<line x1="105.4" y1="458.55" x2="106.4" y2="458.55" stroke="#231f20" stroke-width="0.4"/>
<line x1="105.4" y1="457.89" x2="106.4" y2="457.89" stroke="#231f20" stroke-width="0.4"/>
<line x1="105.4" y1="479.5" x2="106.4" y2="479.5" stroke="#231f20" stroke-width="0.4"/>
<line x1="105.4" y1="477.15" x2="106.4" y2="477.15" stroke="#231f20" stroke-width="0.4"/>
<line x1="105.4" y1="475.49" x2="106.4" y2="475.49" stroke="#231f20" stroke-width="0.4"/>
<line x1="105.4" y1="474.2" x2="106.4" y2="474.2" stroke="#231f20" stroke-width="0.4"/>
<line x1="105.4" y1="473.15" x2="106.4" y2="473.15" stroke="#231f20" stroke-width="0.4"/>
<line x1="105.4" y1="472.26" x2="106.4" y2="472.26" stroke="#231f20" stroke-width="0.4"/>
<line x1="105.4" y1="471.49" x2="106.4" y2="471.49" stroke="#231f20" stroke-width="0.4"/>
<line x1="105.4" y1="470.81" x2="106.4" y2="470.81" stroke="#231f20" stroke-width="0.4"/>
<line x1="105.4" y1="491.33" x2="106.4" y2="491.33" stroke="#231f20" stroke-width="0.4"/>
<line x1="105.4" y1="489.36" x2="106.4" y2="489.36" stroke="#231f20" stroke-width="0.4"/>
<line x1="105.4" y1="487.96" x2="106.4" y2="487.96" stroke="#231f20" stroke-width="0.4"/>
<line x1="105.4" y1="486.87" x2="106.4" y2="486.87" stroke="#231f20" stroke-width="0.4"/>
<line x1="105.4" y1="485.98" x2="106.4" y2="485.98" stroke="#231f20" stroke-width="0.4"/>
<line x1="105.4" y1="485.23" x2="106.4" y2="485.23" stroke="#231f20" stroke-width="0.4"/>
<line x1="105.4" y1="484.59" x2="106.4" y2="484.59" stroke="#231f20" stroke-width="0.4"/>
<line x1="105.4" y1="484.01" x2="106.4" y2="484.01" stroke="#231f20" stroke-width="0.4"/>
<text x="110.9" y="506.76" font-size="6" text-anchor="middle">10<tspan dy="-2.1" font-size="3.9">2</tspan></text>
<line x1="109.4" y1="496.6" x2="109.4" y2="498.4" stroke="#231f20" stroke-width="0.5"/>
<text x="121.7" y="506.76" font-size="6" text-anchor="middle">10<tspan dy="-2.1" font-size="3.9">3</tspan></text>
<line x1="120.2" y1="496.6" x2="120.2" y2="498.4" stroke="#231f20" stroke-width="0.5"/>
<text x="135.6" y="506.76" font-size="6" text-anchor="middle">10<tspan dy="-2.1" font-size="3.9">4</tspan></text>
<line x1="134.1" y1="496.6" x2="134.1" y2="498.4" stroke="#231f20" stroke-width="0.5"/>
<text x="148.1" y="506.76" font-size="6" text-anchor="middle">10<tspan dy="-2.1" font-size="3.9">5</tspan></text>
<line x1="146.6" y1="496.6" x2="146.6" y2="498.4" stroke="#231f20" stroke-width="0.5"/>
<text x="162.1" y="506.76" font-size="6" text-anchor="middle">10<tspan dy="-2.1" font-size="3.9">6</tspan></text>
<line x1="160.6" y1="496.6" x2="160.6" y2="498.4" stroke="#231f20" stroke-width="0.5"/>
<text x="172.2" y="506.76" font-size="6" text-anchor="middle">10<tspan dy="-2.1" font-size="3.9">7</tspan></text>
<line x1="170.7" y1="496.6" x2="170.7" y2="498.4" stroke="#231f20" stroke-width="0.5"/>
<line x1="112.65" y1="496.6" x2="112.65" y2="497.7" stroke="#231f20" stroke-width="0.4"/>
<line x1="114.55" y1="496.6" x2="114.55" y2="497.7" stroke="#231f20" stroke-width="0.4"/>
<line x1="115.9" y1="496.6" x2="115.9" y2="497.7" stroke="#231f20" stroke-width="0.4"/>
<line x1="116.95" y1="496.6" x2="116.95" y2="497.7" stroke="#231f20" stroke-width="0.4"/>
<line x1="117.8" y1="496.6" x2="117.8" y2="497.7" stroke="#231f20" stroke-width="0.4"/>
<line x1="118.53" y1="496.6" x2="118.53" y2="497.7" stroke="#231f20" stroke-width="0.4"/>
<line x1="119.15" y1="496.6" x2="119.15" y2="497.7" stroke="#231f20" stroke-width="0.4"/>
<line x1="119.71" y1="496.6" x2="119.71" y2="497.7" stroke="#231f20" stroke-width="0.4"/>
<line x1="124.38" y1="496.6" x2="124.38" y2="497.7" stroke="#231f20" stroke-width="0.4"/>
<line x1="126.83" y1="496.6" x2="126.83" y2="497.7" stroke="#231f20" stroke-width="0.4"/>
<line x1="128.57" y1="496.6" x2="128.57" y2="497.7" stroke="#231f20" stroke-width="0.4"/>
<line x1="129.92" y1="496.6" x2="129.92" y2="497.7" stroke="#231f20" stroke-width="0.4"/>
<line x1="131.02" y1="496.6" x2="131.02" y2="497.7" stroke="#231f20" stroke-width="0.4"/>
<line x1="131.95" y1="496.6" x2="131.95" y2="497.7" stroke="#231f20" stroke-width="0.4"/>
<line x1="132.75" y1="496.6" x2="132.75" y2="497.7" stroke="#231f20" stroke-width="0.4"/>
<line x1="133.46" y1="496.6" x2="133.46" y2="497.7" stroke="#231f20" stroke-width="0.4"/>
<line x1="137.86" y1="496.6" x2="137.86" y2="497.7" stroke="#231f20" stroke-width="0.4"/>
<line x1="140.06" y1="496.6" x2="140.06" y2="497.7" stroke="#231f20" stroke-width="0.4"/>
<line x1="141.63" y1="496.6" x2="141.63" y2="497.7" stroke="#231f20" stroke-width="0.4"/>
<line x1="142.84" y1="496.6" x2="142.84" y2="497.7" stroke="#231f20" stroke-width="0.4"/>
<line x1="143.83" y1="496.6" x2="143.83" y2="497.7" stroke="#231f20" stroke-width="0.4"/>
<line x1="144.66" y1="496.6" x2="144.66" y2="497.7" stroke="#231f20" stroke-width="0.4"/>
<line x1="145.39" y1="496.6" x2="145.39" y2="497.7" stroke="#231f20" stroke-width="0.4"/>
<line x1="146.03" y1="496.6" x2="146.03" y2="497.7" stroke="#231f20" stroke-width="0.4"/>
<line x1="150.81" y1="496.6" x2="150.81" y2="497.7" stroke="#231f20" stroke-width="0.4"/>
<line x1="153.28" y1="496.6" x2="153.28" y2="497.7" stroke="#231f20" stroke-width="0.4"/>
<line x1="155.03" y1="496.6" x2="155.03" y2="497.7" stroke="#231f20" stroke-width="0.4"/>
<line x1="156.39" y1="496.6" x2="156.39" y2="497.7" stroke="#231f20" stroke-width="0.4"/>
<line x1="157.49" y1="496.6" x2="157.49" y2="497.7" stroke="#231f20" stroke-width="0.4"/>
<line x1="158.43" y1="496.6" x2="158.43" y2="497.7" stroke="#231f20" stroke-width="0.4"/>
<line x1="159.24" y1="496.6" x2="159.24" y2="497.7" stroke="#231f20" stroke-width="0.4"/>
<line x1="159.96" y1="496.6" x2="159.96" y2="497.7" stroke="#231f20" stroke-width="0.4"/>
<line x1="163.64" y1="496.6" x2="163.64" y2="497.7" stroke="#231f20" stroke-width="0.4"/>
<line x1="165.42" y1="496.6" x2="165.42" y2="497.7" stroke="#231f20" stroke-width="0.4"/>
<line x1="166.68" y1="496.6" x2="166.68" y2="497.7" stroke="#231f20" stroke-width="0.4"/>
<line x1="167.66" y1="496.6" x2="167.66" y2="497.7" stroke="#231f20" stroke-width="0.4"/>
<line x1="168.46" y1="496.6" x2="168.46" y2="497.7" stroke="#231f20" stroke-width="0.4"/>
<line x1="169.14" y1="496.6" x2="169.14" y2="497.7" stroke="#231f20" stroke-width="0.4"/>
<line x1="169.72" y1="496.6" x2="169.72" y2="497.7" stroke="#231f20" stroke-width="0.4"/>
<line x1="170.24" y1="496.6" x2="170.24" y2="497.7" stroke="#231f20" stroke-width="0.4"/>
<text x="222.4" y="424.36" font-size="9.6" text-anchor="middle" textLength="26.2" lengthAdjust="spacingAndGlyphs">WI-38</text>
<rect x="206.8" y="448.0" width="22.9" height="13.0" rx="6" ry="6" fill="#0a1ee6"/>
<rect x="208.6" y="449.8" width="19.0" height="9.6" rx="4.6" ry="4.6" fill="#00a8f0"/>
<rect x="210.2" y="451.0" width="14.8" height="7.0" rx="3.4" ry="3.4" fill="#2ed03a"/>
<rect x="211.0" y="452.3" width="11.6" height="3.7" rx="1.8" ry="1.8" fill="#f0f000"/>
<rect x="212.0" y="453.2" width="7.6" height="1.8" rx="0.9" ry="0.9" fill="#f01010"/>
<rect x="188.5" y="427.5" width="69" height="69" fill="none" stroke="#231f20" stroke-width="1.2"/>
<rect x="214.5" y="445.5" width="31" height="20" fill="none" stroke="#555" stroke-width="0.6"/>
<text x="236.4" y="439.82" font-size="8.1" text-anchor="middle" textLength="20.5" lengthAdjust="spacingAndGlyphs">78.0%</text>
<text x="186" y="434.26" font-size="6" text-anchor="end">10<tspan dy="-2.1" font-size="3.9">7</tspan></text>
<line x1="186.6" y1="432.1" x2="188.2" y2="432.1" stroke="#231f20" stroke-width="0.5"/>
<text x="186" y="447.06" font-size="6" text-anchor="end">10<tspan dy="-2.1" font-size="3.9">6</tspan></text>
<line x1="186.6" y1="444.9" x2="188.2" y2="444.9" stroke="#231f20" stroke-width="0.5"/>
<text x="186" y="459.46" font-size="6" text-anchor="end">10<tspan dy="-2.1" font-size="3.9">5</tspan></text>
<line x1="186.6" y1="457.3" x2="188.2" y2="457.3" stroke="#231f20" stroke-width="0.5"/>
<text x="186" y="472.36" font-size="6" text-anchor="end">10<tspan dy="-2.1" font-size="3.9">4</tspan></text>
<line x1="186.6" y1="470.2" x2="188.2" y2="470.2" stroke="#231f20" stroke-width="0.5"/>
<text x="186" y="485.66" font-size="6" text-anchor="end">10<tspan dy="-2.1" font-size="3.9">3</tspan></text>
<line x1="186.6" y1="483.5" x2="188.2" y2="483.5" stroke="#231f20" stroke-width="0.5"/>
<text x="186" y="496.86" font-size="6" text-anchor="end">10<tspan dy="-2.1" font-size="3.9">2</tspan></text>
<line x1="186.6" y1="494.7" x2="188.2" y2="494.7" stroke="#231f20" stroke-width="0.5"/>
<line x1="187.2" y1="441.05" x2="188.2" y2="441.05" stroke="#231f20" stroke-width="0.4"/>
<line x1="187.2" y1="438.79" x2="188.2" y2="438.79" stroke="#231f20" stroke-width="0.4"/>
<line x1="187.2" y1="437.19" x2="188.2" y2="437.19" stroke="#231f20" stroke-width="0.4"/>
<line x1="187.2" y1="435.95" x2="188.2" y2="435.95" stroke="#231f20" stroke-width="0.4"/>
<line x1="187.2" y1="434.94" x2="188.2" y2="434.94" stroke="#231f20" stroke-width="0.4"/>
<line x1="187.2" y1="434.08" x2="188.2" y2="434.08" stroke="#231f20" stroke-width="0.4"/>
<line x1="187.2" y1="433.34" x2="188.2" y2="433.34" stroke="#231f20" stroke-width="0.4"/>
<line x1="187.2" y1="432.69" x2="188.2" y2="432.69" stroke="#231f20" stroke-width="0.4"/>
<line x1="187.2" y1="453.57" x2="188.2" y2="453.57" stroke="#231f20" stroke-width="0.4"/>
<line x1="187.2" y1="451.38" x2="188.2" y2="451.38" stroke="#231f20" stroke-width="0.4"/>
<line x1="187.2" y1="449.83" x2="188.2" y2="449.83" stroke="#231f20" stroke-width="0.4"/>
<line x1="187.2" y1="448.63" x2="188.2" y2="448.63" stroke="#231f20" stroke-width="0.4"/>
<line x1="187.2" y1="447.65" x2="188.2" y2="447.65" stroke="#231f20" stroke-width="0.4"/>
<line x1="187.2" y1="446.82" x2="188.2" y2="446.82" stroke="#231f20" stroke-width="0.4"/>
<line x1="187.2" y1="446.1" x2="188.2" y2="446.1" stroke="#231f20" stroke-width="0.4"/>
<line x1="187.2" y1="445.47" x2="188.2" y2="445.47" stroke="#231f20" stroke-width="0.4"/>
<line x1="187.2" y1="466.32" x2="188.2" y2="466.32" stroke="#231f20" stroke-width="0.4"/>
<line x1="187.2" y1="464.05" x2="188.2" y2="464.05" stroke="#231f20" stroke-width="0.4"/>
<line x1="187.2" y1="462.43" x2="188.2" y2="462.43" stroke="#231f20" stroke-width="0.4"/>
<line x1="187.2" y1="461.18" x2="188.2" y2="461.18" stroke="#231f20" stroke-width="0.4"/>
<line x1="187.2" y1="460.16" x2="188.2" y2="460.16" stroke="#231f20" stroke-width="0.4"/>
<line x1="187.2" y1="459.3" x2="188.2" y2="459.3" stroke="#231f20" stroke-width="0.4"/>
<line x1="187.2" y1="458.55" x2="188.2" y2="458.55" stroke="#231f20" stroke-width="0.4"/>
<line x1="187.2" y1="457.89" x2="188.2" y2="457.89" stroke="#231f20" stroke-width="0.4"/>
<line x1="187.2" y1="479.5" x2="188.2" y2="479.5" stroke="#231f20" stroke-width="0.4"/>
<line x1="187.2" y1="477.15" x2="188.2" y2="477.15" stroke="#231f20" stroke-width="0.4"/>
<line x1="187.2" y1="475.49" x2="188.2" y2="475.49" stroke="#231f20" stroke-width="0.4"/>
<line x1="187.2" y1="474.2" x2="188.2" y2="474.2" stroke="#231f20" stroke-width="0.4"/>
<line x1="187.2" y1="473.15" x2="188.2" y2="473.15" stroke="#231f20" stroke-width="0.4"/>
<line x1="187.2" y1="472.26" x2="188.2" y2="472.26" stroke="#231f20" stroke-width="0.4"/>
<line x1="187.2" y1="471.49" x2="188.2" y2="471.49" stroke="#231f20" stroke-width="0.4"/>
<line x1="187.2" y1="470.81" x2="188.2" y2="470.81" stroke="#231f20" stroke-width="0.4"/>
<line x1="187.2" y1="491.33" x2="188.2" y2="491.33" stroke="#231f20" stroke-width="0.4"/>
<line x1="187.2" y1="489.36" x2="188.2" y2="489.36" stroke="#231f20" stroke-width="0.4"/>
<line x1="187.2" y1="487.96" x2="188.2" y2="487.96" stroke="#231f20" stroke-width="0.4"/>
<line x1="187.2" y1="486.87" x2="188.2" y2="486.87" stroke="#231f20" stroke-width="0.4"/>
<line x1="187.2" y1="485.98" x2="188.2" y2="485.98" stroke="#231f20" stroke-width="0.4"/>
<line x1="187.2" y1="485.23" x2="188.2" y2="485.23" stroke="#231f20" stroke-width="0.4"/>
<line x1="187.2" y1="484.59" x2="188.2" y2="484.59" stroke="#231f20" stroke-width="0.4"/>
<line x1="187.2" y1="484.01" x2="188.2" y2="484.01" stroke="#231f20" stroke-width="0.4"/>
<text x="192.7" y="506.76" font-size="6" text-anchor="middle">10<tspan dy="-2.1" font-size="3.9">2</tspan></text>
<line x1="191.2" y1="496.6" x2="191.2" y2="498.4" stroke="#231f20" stroke-width="0.5"/>
<text x="203.5" y="506.76" font-size="6" text-anchor="middle">10<tspan dy="-2.1" font-size="3.9">3</tspan></text>
<line x1="202" y1="496.6" x2="202" y2="498.4" stroke="#231f20" stroke-width="0.5"/>
<text x="217.4" y="506.76" font-size="6" text-anchor="middle">10<tspan dy="-2.1" font-size="3.9">4</tspan></text>
<line x1="215.9" y1="496.6" x2="215.9" y2="498.4" stroke="#231f20" stroke-width="0.5"/>
<text x="229.9" y="506.76" font-size="6" text-anchor="middle">10<tspan dy="-2.1" font-size="3.9">5</tspan></text>
<line x1="228.4" y1="496.6" x2="228.4" y2="498.4" stroke="#231f20" stroke-width="0.5"/>
<text x="243.9" y="506.76" font-size="6" text-anchor="middle">10<tspan dy="-2.1" font-size="3.9">6</tspan></text>
<line x1="242.4" y1="496.6" x2="242.4" y2="498.4" stroke="#231f20" stroke-width="0.5"/>
<text x="254" y="506.76" font-size="6" text-anchor="middle">10<tspan dy="-2.1" font-size="3.9">7</tspan></text>
<line x1="252.5" y1="496.6" x2="252.5" y2="498.4" stroke="#231f20" stroke-width="0.5"/>
<line x1="194.45" y1="496.6" x2="194.45" y2="497.7" stroke="#231f20" stroke-width="0.4"/>
<line x1="196.35" y1="496.6" x2="196.35" y2="497.7" stroke="#231f20" stroke-width="0.4"/>
<line x1="197.7" y1="496.6" x2="197.7" y2="497.7" stroke="#231f20" stroke-width="0.4"/>
<line x1="198.75" y1="496.6" x2="198.75" y2="497.7" stroke="#231f20" stroke-width="0.4"/>
<line x1="199.6" y1="496.6" x2="199.6" y2="497.7" stroke="#231f20" stroke-width="0.4"/>
<line x1="200.33" y1="496.6" x2="200.33" y2="497.7" stroke="#231f20" stroke-width="0.4"/>
<line x1="200.95" y1="496.6" x2="200.95" y2="497.7" stroke="#231f20" stroke-width="0.4"/>
<line x1="201.51" y1="496.6" x2="201.51" y2="497.7" stroke="#231f20" stroke-width="0.4"/>
<line x1="206.18" y1="496.6" x2="206.18" y2="497.7" stroke="#231f20" stroke-width="0.4"/>
<line x1="208.63" y1="496.6" x2="208.63" y2="497.7" stroke="#231f20" stroke-width="0.4"/>
<line x1="210.37" y1="496.6" x2="210.37" y2="497.7" stroke="#231f20" stroke-width="0.4"/>
<line x1="211.72" y1="496.6" x2="211.72" y2="497.7" stroke="#231f20" stroke-width="0.4"/>
<line x1="212.82" y1="496.6" x2="212.82" y2="497.7" stroke="#231f20" stroke-width="0.4"/>
<line x1="213.75" y1="496.6" x2="213.75" y2="497.7" stroke="#231f20" stroke-width="0.4"/>
<line x1="214.55" y1="496.6" x2="214.55" y2="497.7" stroke="#231f20" stroke-width="0.4"/>
<line x1="215.26" y1="496.6" x2="215.26" y2="497.7" stroke="#231f20" stroke-width="0.4"/>
<line x1="219.66" y1="496.6" x2="219.66" y2="497.7" stroke="#231f20" stroke-width="0.4"/>
<line x1="221.86" y1="496.6" x2="221.86" y2="497.7" stroke="#231f20" stroke-width="0.4"/>
<line x1="223.43" y1="496.6" x2="223.43" y2="497.7" stroke="#231f20" stroke-width="0.4"/>
<line x1="224.64" y1="496.6" x2="224.64" y2="497.7" stroke="#231f20" stroke-width="0.4"/>
<line x1="225.63" y1="496.6" x2="225.63" y2="497.7" stroke="#231f20" stroke-width="0.4"/>
<line x1="226.46" y1="496.6" x2="226.46" y2="497.7" stroke="#231f20" stroke-width="0.4"/>
<line x1="227.19" y1="496.6" x2="227.19" y2="497.7" stroke="#231f20" stroke-width="0.4"/>
<line x1="227.83" y1="496.6" x2="227.83" y2="497.7" stroke="#231f20" stroke-width="0.4"/>
<line x1="232.61" y1="496.6" x2="232.61" y2="497.7" stroke="#231f20" stroke-width="0.4"/>
<line x1="235.08" y1="496.6" x2="235.08" y2="497.7" stroke="#231f20" stroke-width="0.4"/>
<line x1="236.83" y1="496.6" x2="236.83" y2="497.7" stroke="#231f20" stroke-width="0.4"/>
<line x1="238.19" y1="496.6" x2="238.19" y2="497.7" stroke="#231f20" stroke-width="0.4"/>
<line x1="239.29" y1="496.6" x2="239.29" y2="497.7" stroke="#231f20" stroke-width="0.4"/>
<line x1="240.23" y1="496.6" x2="240.23" y2="497.7" stroke="#231f20" stroke-width="0.4"/>
<line x1="241.04" y1="496.6" x2="241.04" y2="497.7" stroke="#231f20" stroke-width="0.4"/>
<line x1="241.76" y1="496.6" x2="241.76" y2="497.7" stroke="#231f20" stroke-width="0.4"/>
<line x1="245.44" y1="496.6" x2="245.44" y2="497.7" stroke="#231f20" stroke-width="0.4"/>
<line x1="247.22" y1="496.6" x2="247.22" y2="497.7" stroke="#231f20" stroke-width="0.4"/>
<line x1="248.48" y1="496.6" x2="248.48" y2="497.7" stroke="#231f20" stroke-width="0.4"/>
<line x1="249.46" y1="496.6" x2="249.46" y2="497.7" stroke="#231f20" stroke-width="0.4"/>
<line x1="250.26" y1="496.6" x2="250.26" y2="497.7" stroke="#231f20" stroke-width="0.4"/>
<line x1="250.94" y1="496.6" x2="250.94" y2="497.7" stroke="#231f20" stroke-width="0.4"/>
<line x1="251.52" y1="496.6" x2="251.52" y2="497.7" stroke="#231f20" stroke-width="0.4"/>
<line x1="252.04" y1="496.6" x2="252.04" y2="497.7" stroke="#231f20" stroke-width="0.4"/>
<text x="317.8" y="424.36" font-size="9.6" text-anchor="middle" textLength="67.5" lengthAdjust="spacingAndGlyphs">Medium control</text>
<ellipse cx="307.3" cy="453.3" rx="10.3" ry="6.8" fill="#0a1ee6" transform="rotate(-32 307.3 453.3)"/>
<ellipse cx="307.07" cy="453.17" rx="8.76" ry="5.78" fill="#00a8f0" transform="rotate(-32 307.07 453.17)"/>
<ellipse cx="306.75" cy="452.97" rx="6.49" ry="4.28" fill="#2ed03a" transform="rotate(-32 306.75 452.97)"/>
<ellipse cx="306.37" cy="452.74" rx="3.91" ry="2.58" fill="#f0f000" transform="rotate(-32 306.37 452.74)"/>
<ellipse cx="306.04" cy="452.54" rx="1.65" ry="1.09" fill="#f01010" transform="rotate(-32 306.04 452.54)"/>
<rect x="283.5" y="427.5" width="69" height="69" fill="none" stroke="#231f20" stroke-width="1.2"/>
<rect x="312.5" y="439.5" width="29" height="25" fill="none" stroke="#555" stroke-width="0.6"/>
<text x="333.6" y="437.72" font-size="8.1" text-anchor="middle" textLength="20.5" lengthAdjust="spacingAndGlyphs">3.25%</text>
<text x="280.8" y="434.36" font-size="6" text-anchor="end">10<tspan dy="-2.1" font-size="3.9">7</tspan></text>
<line x1="281.4" y1="432.2" x2="283" y2="432.2" stroke="#231f20" stroke-width="0.5"/>
<text x="280.8" y="443.96" font-size="6" text-anchor="end">10<tspan dy="-2.1" font-size="3.9">6</tspan></text>
<line x1="281.4" y1="441.8" x2="283" y2="441.8" stroke="#231f20" stroke-width="0.5"/>
<text x="280.8" y="455.06" font-size="6" text-anchor="end">10<tspan dy="-2.1" font-size="3.9">5</tspan></text>
<line x1="281.4" y1="452.9" x2="283" y2="452.9" stroke="#231f20" stroke-width="0.5"/>
<text x="280.8" y="467.56" font-size="6" text-anchor="end">10<tspan dy="-2.1" font-size="3.9">4</tspan></text>
<line x1="281.4" y1="465.4" x2="283" y2="465.4" stroke="#231f20" stroke-width="0.5"/>
<text x="280.4" y="485.03" font-size="6.2" text-anchor="end" textLength="3.21" lengthAdjust="spacingAndGlyphs">0</text>
<line x1="281.4" y1="482.8" x2="283" y2="482.8" stroke="#231f20" stroke-width="0.5"/>
<line x1="282" y1="438.91" x2="283" y2="438.91" stroke="#231f20" stroke-width="0.4"/>
<line x1="282" y1="437.22" x2="283" y2="437.22" stroke="#231f20" stroke-width="0.4"/>
<line x1="282" y1="436.02" x2="283" y2="436.02" stroke="#231f20" stroke-width="0.4"/>
<line x1="282" y1="435.09" x2="283" y2="435.09" stroke="#231f20" stroke-width="0.4"/>
<line x1="282" y1="434.33" x2="283" y2="434.33" stroke="#231f20" stroke-width="0.4"/>
<line x1="282" y1="433.69" x2="283" y2="433.69" stroke="#231f20" stroke-width="0.4"/>
<line x1="282" y1="433.13" x2="283" y2="433.13" stroke="#231f20" stroke-width="0.4"/>
<line x1="282" y1="432.64" x2="283" y2="432.64" stroke="#231f20" stroke-width="0.4"/>
<line x1="282" y1="449.56" x2="283" y2="449.56" stroke="#231f20" stroke-width="0.4"/>
<line x1="282" y1="447.6" x2="283" y2="447.6" stroke="#231f20" stroke-width="0.4"/>
<line x1="282" y1="446.22" x2="283" y2="446.22" stroke="#231f20" stroke-width="0.4"/>
<line x1="282" y1="445.14" x2="283" y2="445.14" stroke="#231f20" stroke-width="0.4"/>
<line x1="282" y1="444.26" x2="283" y2="444.26" stroke="#231f20" stroke-width="0.4"/>
<line x1="282" y1="443.52" x2="283" y2="443.52" stroke="#231f20" stroke-width="0.4"/>
<line x1="282" y1="442.88" x2="283" y2="442.88" stroke="#231f20" stroke-width="0.4"/>
<line x1="282" y1="442.31" x2="283" y2="442.31" stroke="#231f20" stroke-width="0.4"/>
<line x1="282" y1="461.64" x2="283" y2="461.64" stroke="#231f20" stroke-width="0.4"/>
<line x1="282" y1="459.44" x2="283" y2="459.44" stroke="#231f20" stroke-width="0.4"/>
<line x1="282" y1="457.87" x2="283" y2="457.87" stroke="#231f20" stroke-width="0.4"/>
<line x1="282" y1="456.66" x2="283" y2="456.66" stroke="#231f20" stroke-width="0.4"/>
<line x1="282" y1="455.67" x2="283" y2="455.67" stroke="#231f20" stroke-width="0.4"/>
<line x1="282" y1="454.84" x2="283" y2="454.84" stroke="#231f20" stroke-width="0.4"/>
<line x1="282" y1="454.11" x2="283" y2="454.11" stroke="#231f20" stroke-width="0.4"/>
<line x1="282" y1="453.47" x2="283" y2="453.47" stroke="#231f20" stroke-width="0.4"/>
<line x1="282" y1="477.56" x2="283" y2="477.56" stroke="#231f20" stroke-width="0.4"/>
<line x1="282" y1="474.5" x2="283" y2="474.5" stroke="#231f20" stroke-width="0.4"/>
<line x1="282" y1="472.32" x2="283" y2="472.32" stroke="#231f20" stroke-width="0.4"/>
<line x1="282" y1="470.64" x2="283" y2="470.64" stroke="#231f20" stroke-width="0.4"/>
<line x1="282" y1="469.26" x2="283" y2="469.26" stroke="#231f20" stroke-width="0.4"/>
<line x1="282" y1="468.1" x2="283" y2="468.1" stroke="#231f20" stroke-width="0.4"/>
<line x1="282" y1="467.09" x2="283" y2="467.09" stroke="#231f20" stroke-width="0.4"/>
<line x1="282" y1="466.2" x2="283" y2="466.2" stroke="#231f20" stroke-width="0.4"/>
<text x="287.5" y="506.76" font-size="6" text-anchor="middle">10<tspan dy="-2.1" font-size="3.9">2</tspan></text>
<line x1="286" y1="496.6" x2="286" y2="498.4" stroke="#231f20" stroke-width="0.5"/>
<text x="298.3" y="506.76" font-size="6" text-anchor="middle">10<tspan dy="-2.1" font-size="3.9">3</tspan></text>
<line x1="296.8" y1="496.6" x2="296.8" y2="498.4" stroke="#231f20" stroke-width="0.5"/>
<text x="312.2" y="506.76" font-size="6" text-anchor="middle">10<tspan dy="-2.1" font-size="3.9">4</tspan></text>
<line x1="310.7" y1="496.6" x2="310.7" y2="498.4" stroke="#231f20" stroke-width="0.5"/>
<text x="324.7" y="506.76" font-size="6" text-anchor="middle">10<tspan dy="-2.1" font-size="3.9">5</tspan></text>
<line x1="323.2" y1="496.6" x2="323.2" y2="498.4" stroke="#231f20" stroke-width="0.5"/>
<text x="338.7" y="506.76" font-size="6" text-anchor="middle">10<tspan dy="-2.1" font-size="3.9">6</tspan></text>
<line x1="337.2" y1="496.6" x2="337.2" y2="498.4" stroke="#231f20" stroke-width="0.5"/>
<text x="348.8" y="506.76" font-size="6" text-anchor="middle">10<tspan dy="-2.1" font-size="3.9">7</tspan></text>
<line x1="347.3" y1="496.6" x2="347.3" y2="498.4" stroke="#231f20" stroke-width="0.5"/>
<line x1="289.25" y1="496.6" x2="289.25" y2="497.7" stroke="#231f20" stroke-width="0.4"/>
<line x1="291.15" y1="496.6" x2="291.15" y2="497.7" stroke="#231f20" stroke-width="0.4"/>
<line x1="292.5" y1="496.6" x2="292.5" y2="497.7" stroke="#231f20" stroke-width="0.4"/>
<line x1="293.55" y1="496.6" x2="293.55" y2="497.7" stroke="#231f20" stroke-width="0.4"/>
<line x1="294.4" y1="496.6" x2="294.4" y2="497.7" stroke="#231f20" stroke-width="0.4"/>
<line x1="295.13" y1="496.6" x2="295.13" y2="497.7" stroke="#231f20" stroke-width="0.4"/>
<line x1="295.75" y1="496.6" x2="295.75" y2="497.7" stroke="#231f20" stroke-width="0.4"/>
<line x1="296.31" y1="496.6" x2="296.31" y2="497.7" stroke="#231f20" stroke-width="0.4"/>
<line x1="300.98" y1="496.6" x2="300.98" y2="497.7" stroke="#231f20" stroke-width="0.4"/>
<line x1="303.43" y1="496.6" x2="303.43" y2="497.7" stroke="#231f20" stroke-width="0.4"/>
<line x1="305.17" y1="496.6" x2="305.17" y2="497.7" stroke="#231f20" stroke-width="0.4"/>
<line x1="306.52" y1="496.6" x2="306.52" y2="497.7" stroke="#231f20" stroke-width="0.4"/>
<line x1="307.62" y1="496.6" x2="307.62" y2="497.7" stroke="#231f20" stroke-width="0.4"/>
<line x1="308.55" y1="496.6" x2="308.55" y2="497.7" stroke="#231f20" stroke-width="0.4"/>
<line x1="309.35" y1="496.6" x2="309.35" y2="497.7" stroke="#231f20" stroke-width="0.4"/>
<line x1="310.06" y1="496.6" x2="310.06" y2="497.7" stroke="#231f20" stroke-width="0.4"/>
<line x1="314.46" y1="496.6" x2="314.46" y2="497.7" stroke="#231f20" stroke-width="0.4"/>
<line x1="316.66" y1="496.6" x2="316.66" y2="497.7" stroke="#231f20" stroke-width="0.4"/>
<line x1="318.23" y1="496.6" x2="318.23" y2="497.7" stroke="#231f20" stroke-width="0.4"/>
<line x1="319.44" y1="496.6" x2="319.44" y2="497.7" stroke="#231f20" stroke-width="0.4"/>
<line x1="320.43" y1="496.6" x2="320.43" y2="497.7" stroke="#231f20" stroke-width="0.4"/>
<line x1="321.26" y1="496.6" x2="321.26" y2="497.7" stroke="#231f20" stroke-width="0.4"/>
<line x1="321.99" y1="496.6" x2="321.99" y2="497.7" stroke="#231f20" stroke-width="0.4"/>
<line x1="322.63" y1="496.6" x2="322.63" y2="497.7" stroke="#231f20" stroke-width="0.4"/>
<line x1="327.41" y1="496.6" x2="327.41" y2="497.7" stroke="#231f20" stroke-width="0.4"/>
<line x1="329.88" y1="496.6" x2="329.88" y2="497.7" stroke="#231f20" stroke-width="0.4"/>
<line x1="331.63" y1="496.6" x2="331.63" y2="497.7" stroke="#231f20" stroke-width="0.4"/>
<line x1="332.99" y1="496.6" x2="332.99" y2="497.7" stroke="#231f20" stroke-width="0.4"/>
<line x1="334.09" y1="496.6" x2="334.09" y2="497.7" stroke="#231f20" stroke-width="0.4"/>
<line x1="335.03" y1="496.6" x2="335.03" y2="497.7" stroke="#231f20" stroke-width="0.4"/>
<line x1="335.84" y1="496.6" x2="335.84" y2="497.7" stroke="#231f20" stroke-width="0.4"/>
<line x1="336.56" y1="496.6" x2="336.56" y2="497.7" stroke="#231f20" stroke-width="0.4"/>
<line x1="340.24" y1="496.6" x2="340.24" y2="497.7" stroke="#231f20" stroke-width="0.4"/>
<line x1="342.02" y1="496.6" x2="342.02" y2="497.7" stroke="#231f20" stroke-width="0.4"/>
<line x1="343.28" y1="496.6" x2="343.28" y2="497.7" stroke="#231f20" stroke-width="0.4"/>
<line x1="344.26" y1="496.6" x2="344.26" y2="497.7" stroke="#231f20" stroke-width="0.4"/>
<line x1="345.06" y1="496.6" x2="345.06" y2="497.7" stroke="#231f20" stroke-width="0.4"/>
<line x1="345.74" y1="496.6" x2="345.74" y2="497.7" stroke="#231f20" stroke-width="0.4"/>
<line x1="346.32" y1="496.6" x2="346.32" y2="497.7" stroke="#231f20" stroke-width="0.4"/>
<line x1="346.84" y1="496.6" x2="346.84" y2="497.7" stroke="#231f20" stroke-width="0.4"/>
<text x="397.7" y="424.36" font-size="9.6" text-anchor="middle" textLength="26.8" lengthAdjust="spacingAndGlyphs">Jurkat</text>
<ellipse cx="385.1" cy="451.7" rx="8.9" ry="5" fill="#0a1ee6" transform="rotate(-58 385.1 451.7)"/>
<ellipse cx="385.28" cy="451.41" rx="7.57" ry="4.25" fill="#00a8f0" transform="rotate(-58 385.28 451.41)"/>
<ellipse cx="385.54" cy="451" rx="5.61" ry="3.15" fill="#2ed03a" transform="rotate(-58 385.54 451)"/>
<ellipse cx="385.84" cy="450.52" rx="3.38" ry="1.9" fill="#f0f000" transform="rotate(-58 385.84 450.52)"/>
<ellipse cx="386.11" cy="450.1" rx="1.42" ry="0.8" fill="#f01010" transform="rotate(-58 386.11 450.1)"/>
<rect x="363.5" y="427.5" width="68" height="69" fill="none" stroke="#231f20" stroke-width="1.2"/>
<rect x="392.5" y="439.5" width="29" height="25" fill="none" stroke="#555" stroke-width="0.6"/>
<text x="413.7" y="437.32" font-size="8.1" text-anchor="middle" textLength="20.5" lengthAdjust="spacingAndGlyphs">0.41%</text>
<text x="361.4" y="434.36" font-size="6" text-anchor="end">10<tspan dy="-2.1" font-size="3.9">7</tspan></text>
<line x1="362" y1="432.2" x2="363.6" y2="432.2" stroke="#231f20" stroke-width="0.5"/>
<text x="361.4" y="443.96" font-size="6" text-anchor="end">10<tspan dy="-2.1" font-size="3.9">6</tspan></text>
<line x1="362" y1="441.8" x2="363.6" y2="441.8" stroke="#231f20" stroke-width="0.5"/>
<text x="361.4" y="455.06" font-size="6" text-anchor="end">10<tspan dy="-2.1" font-size="3.9">5</tspan></text>
<line x1="362" y1="452.9" x2="363.6" y2="452.9" stroke="#231f20" stroke-width="0.5"/>
<text x="361.4" y="467.56" font-size="6" text-anchor="end">10<tspan dy="-2.1" font-size="3.9">4</tspan></text>
<line x1="362" y1="465.4" x2="363.6" y2="465.4" stroke="#231f20" stroke-width="0.5"/>
<text x="361" y="485.03" font-size="6.2" text-anchor="end" textLength="3.21" lengthAdjust="spacingAndGlyphs">0</text>
<line x1="362" y1="482.8" x2="363.6" y2="482.8" stroke="#231f20" stroke-width="0.5"/>
<line x1="362.6" y1="438.91" x2="363.6" y2="438.91" stroke="#231f20" stroke-width="0.4"/>
<line x1="362.6" y1="437.22" x2="363.6" y2="437.22" stroke="#231f20" stroke-width="0.4"/>
<line x1="362.6" y1="436.02" x2="363.6" y2="436.02" stroke="#231f20" stroke-width="0.4"/>
<line x1="362.6" y1="435.09" x2="363.6" y2="435.09" stroke="#231f20" stroke-width="0.4"/>
<line x1="362.6" y1="434.33" x2="363.6" y2="434.33" stroke="#231f20" stroke-width="0.4"/>
<line x1="362.6" y1="433.69" x2="363.6" y2="433.69" stroke="#231f20" stroke-width="0.4"/>
<line x1="362.6" y1="433.13" x2="363.6" y2="433.13" stroke="#231f20" stroke-width="0.4"/>
<line x1="362.6" y1="432.64" x2="363.6" y2="432.64" stroke="#231f20" stroke-width="0.4"/>
<line x1="362.6" y1="449.56" x2="363.6" y2="449.56" stroke="#231f20" stroke-width="0.4"/>
<line x1="362.6" y1="447.6" x2="363.6" y2="447.6" stroke="#231f20" stroke-width="0.4"/>
<line x1="362.6" y1="446.22" x2="363.6" y2="446.22" stroke="#231f20" stroke-width="0.4"/>
<line x1="362.6" y1="445.14" x2="363.6" y2="445.14" stroke="#231f20" stroke-width="0.4"/>
<line x1="362.6" y1="444.26" x2="363.6" y2="444.26" stroke="#231f20" stroke-width="0.4"/>
<line x1="362.6" y1="443.52" x2="363.6" y2="443.52" stroke="#231f20" stroke-width="0.4"/>
<line x1="362.6" y1="442.88" x2="363.6" y2="442.88" stroke="#231f20" stroke-width="0.4"/>
<line x1="362.6" y1="442.31" x2="363.6" y2="442.31" stroke="#231f20" stroke-width="0.4"/>
<line x1="362.6" y1="461.64" x2="363.6" y2="461.64" stroke="#231f20" stroke-width="0.4"/>
<line x1="362.6" y1="459.44" x2="363.6" y2="459.44" stroke="#231f20" stroke-width="0.4"/>
<line x1="362.6" y1="457.87" x2="363.6" y2="457.87" stroke="#231f20" stroke-width="0.4"/>
<line x1="362.6" y1="456.66" x2="363.6" y2="456.66" stroke="#231f20" stroke-width="0.4"/>
<line x1="362.6" y1="455.67" x2="363.6" y2="455.67" stroke="#231f20" stroke-width="0.4"/>
<line x1="362.6" y1="454.84" x2="363.6" y2="454.84" stroke="#231f20" stroke-width="0.4"/>
<line x1="362.6" y1="454.11" x2="363.6" y2="454.11" stroke="#231f20" stroke-width="0.4"/>
<line x1="362.6" y1="453.47" x2="363.6" y2="453.47" stroke="#231f20" stroke-width="0.4"/>
<line x1="362.6" y1="477.56" x2="363.6" y2="477.56" stroke="#231f20" stroke-width="0.4"/>
<line x1="362.6" y1="474.5" x2="363.6" y2="474.5" stroke="#231f20" stroke-width="0.4"/>
<line x1="362.6" y1="472.32" x2="363.6" y2="472.32" stroke="#231f20" stroke-width="0.4"/>
<line x1="362.6" y1="470.64" x2="363.6" y2="470.64" stroke="#231f20" stroke-width="0.4"/>
<line x1="362.6" y1="469.26" x2="363.6" y2="469.26" stroke="#231f20" stroke-width="0.4"/>
<line x1="362.6" y1="468.1" x2="363.6" y2="468.1" stroke="#231f20" stroke-width="0.4"/>
<line x1="362.6" y1="467.09" x2="363.6" y2="467.09" stroke="#231f20" stroke-width="0.4"/>
<line x1="362.6" y1="466.2" x2="363.6" y2="466.2" stroke="#231f20" stroke-width="0.4"/>
<text x="368.1" y="506.76" font-size="6" text-anchor="middle">10<tspan dy="-2.1" font-size="3.9">2</tspan></text>
<line x1="366.6" y1="496.6" x2="366.6" y2="498.4" stroke="#231f20" stroke-width="0.5"/>
<text x="378.9" y="506.76" font-size="6" text-anchor="middle">10<tspan dy="-2.1" font-size="3.9">3</tspan></text>
<line x1="377.4" y1="496.6" x2="377.4" y2="498.4" stroke="#231f20" stroke-width="0.5"/>
<text x="392.8" y="506.76" font-size="6" text-anchor="middle">10<tspan dy="-2.1" font-size="3.9">4</tspan></text>
<line x1="391.3" y1="496.6" x2="391.3" y2="498.4" stroke="#231f20" stroke-width="0.5"/>
<text x="405.3" y="506.76" font-size="6" text-anchor="middle">10<tspan dy="-2.1" font-size="3.9">5</tspan></text>
<line x1="403.8" y1="496.6" x2="403.8" y2="498.4" stroke="#231f20" stroke-width="0.5"/>
<text x="419.3" y="506.76" font-size="6" text-anchor="middle">10<tspan dy="-2.1" font-size="3.9">6</tspan></text>
<line x1="417.8" y1="496.6" x2="417.8" y2="498.4" stroke="#231f20" stroke-width="0.5"/>
<text x="429.4" y="506.76" font-size="6" text-anchor="middle">10<tspan dy="-2.1" font-size="3.9">7</tspan></text>
<line x1="427.9" y1="496.6" x2="427.9" y2="498.4" stroke="#231f20" stroke-width="0.5"/>
<line x1="369.85" y1="496.6" x2="369.85" y2="497.7" stroke="#231f20" stroke-width="0.4"/>
<line x1="371.75" y1="496.6" x2="371.75" y2="497.7" stroke="#231f20" stroke-width="0.4"/>
<line x1="373.1" y1="496.6" x2="373.1" y2="497.7" stroke="#231f20" stroke-width="0.4"/>
<line x1="374.15" y1="496.6" x2="374.15" y2="497.7" stroke="#231f20" stroke-width="0.4"/>
<line x1="375" y1="496.6" x2="375" y2="497.7" stroke="#231f20" stroke-width="0.4"/>
<line x1="375.73" y1="496.6" x2="375.73" y2="497.7" stroke="#231f20" stroke-width="0.4"/>
<line x1="376.35" y1="496.6" x2="376.35" y2="497.7" stroke="#231f20" stroke-width="0.4"/>
<line x1="376.91" y1="496.6" x2="376.91" y2="497.7" stroke="#231f20" stroke-width="0.4"/>
<line x1="381.58" y1="496.6" x2="381.58" y2="497.7" stroke="#231f20" stroke-width="0.4"/>
<line x1="384.03" y1="496.6" x2="384.03" y2="497.7" stroke="#231f20" stroke-width="0.4"/>
<line x1="385.77" y1="496.6" x2="385.77" y2="497.7" stroke="#231f20" stroke-width="0.4"/>
<line x1="387.12" y1="496.6" x2="387.12" y2="497.7" stroke="#231f20" stroke-width="0.4"/>
<line x1="388.22" y1="496.6" x2="388.22" y2="497.7" stroke="#231f20" stroke-width="0.4"/>
<line x1="389.15" y1="496.6" x2="389.15" y2="497.7" stroke="#231f20" stroke-width="0.4"/>
<line x1="389.95" y1="496.6" x2="389.95" y2="497.7" stroke="#231f20" stroke-width="0.4"/>
<line x1="390.66" y1="496.6" x2="390.66" y2="497.7" stroke="#231f20" stroke-width="0.4"/>
<line x1="395.06" y1="496.6" x2="395.06" y2="497.7" stroke="#231f20" stroke-width="0.4"/>
<line x1="397.26" y1="496.6" x2="397.26" y2="497.7" stroke="#231f20" stroke-width="0.4"/>
<line x1="398.83" y1="496.6" x2="398.83" y2="497.7" stroke="#231f20" stroke-width="0.4"/>
<line x1="400.04" y1="496.6" x2="400.04" y2="497.7" stroke="#231f20" stroke-width="0.4"/>
<line x1="401.03" y1="496.6" x2="401.03" y2="497.7" stroke="#231f20" stroke-width="0.4"/>
<line x1="401.86" y1="496.6" x2="401.86" y2="497.7" stroke="#231f20" stroke-width="0.4"/>
<line x1="402.59" y1="496.6" x2="402.59" y2="497.7" stroke="#231f20" stroke-width="0.4"/>
<line x1="403.23" y1="496.6" x2="403.23" y2="497.7" stroke="#231f20" stroke-width="0.4"/>
<line x1="408.01" y1="496.6" x2="408.01" y2="497.7" stroke="#231f20" stroke-width="0.4"/>
<line x1="410.48" y1="496.6" x2="410.48" y2="497.7" stroke="#231f20" stroke-width="0.4"/>
<line x1="412.23" y1="496.6" x2="412.23" y2="497.7" stroke="#231f20" stroke-width="0.4"/>
<line x1="413.59" y1="496.6" x2="413.59" y2="497.7" stroke="#231f20" stroke-width="0.4"/>
<line x1="414.69" y1="496.6" x2="414.69" y2="497.7" stroke="#231f20" stroke-width="0.4"/>
<line x1="415.63" y1="496.6" x2="415.63" y2="497.7" stroke="#231f20" stroke-width="0.4"/>
<line x1="416.44" y1="496.6" x2="416.44" y2="497.7" stroke="#231f20" stroke-width="0.4"/>
<line x1="417.16" y1="496.6" x2="417.16" y2="497.7" stroke="#231f20" stroke-width="0.4"/>
<line x1="420.84" y1="496.6" x2="420.84" y2="497.7" stroke="#231f20" stroke-width="0.4"/>
<line x1="422.62" y1="496.6" x2="422.62" y2="497.7" stroke="#231f20" stroke-width="0.4"/>
<line x1="423.88" y1="496.6" x2="423.88" y2="497.7" stroke="#231f20" stroke-width="0.4"/>
<line x1="424.86" y1="496.6" x2="424.86" y2="497.7" stroke="#231f20" stroke-width="0.4"/>
<line x1="425.66" y1="496.6" x2="425.66" y2="497.7" stroke="#231f20" stroke-width="0.4"/>
<line x1="426.34" y1="496.6" x2="426.34" y2="497.7" stroke="#231f20" stroke-width="0.4"/>
<line x1="426.92" y1="496.6" x2="426.92" y2="497.7" stroke="#231f20" stroke-width="0.4"/>
<line x1="427.44" y1="496.6" x2="427.44" y2="497.7" stroke="#231f20" stroke-width="0.4"/>
<text x="479.8" y="424.36" font-size="9.6" text-anchor="middle" textLength="31" lengthAdjust="spacingAndGlyphs">MM1.S</text>
<path d="M461,457 C459.5,452 463,447.5 470,446 C476,444.8 481,445.5 484.5,448 C486,449.3 487.5,450 490,449.8 L494,449.2 C497,448.5 499.3,449.5 499.2,451.2 C499,452.8 497,453.2 495,452.8 C492,452.2 489,452.5 486.5,454 C484.5,457.5 482,459.8 476,460 C470,460.2 463,460 461,457 Z" fill="#0a1ee6"/>
<path d="M463.3,455.3 C462.8,451.5 466,448.3 471,447.6 C476,447 480.3,447.8 482.8,450 C484.3,451.8 483.8,455 481.2,456.8 C477,458.4 470,458.6 466,457.9 C464.4,457.4 463.5,456.4 463.3,455.3 Z" fill="#00a8f0"/>
<path d="M485.5,450.9 C490,450.5 494,450.2 497,450.3 C497.8,451 497,451.7 495.5,451.7 C492,451.6 489,451.7 485.5,452.6 Z" fill="#00a8f0"/>
<ellipse cx="471.6" cy="452.3" rx="7.8" ry="3.9" fill="#2ed03a"/>
<ellipse cx="470.9" cy="451.6" rx="5.3" ry="2.5" fill="#f0f000"/>
<ellipse cx="470.4" cy="451.3" rx="3.7" ry="1.3" fill="#f01010"/>
<rect x="445.5" y="427.5" width="68" height="69" fill="none" stroke="#231f20" stroke-width="1.2"/>
<rect x="474.5" y="439.5" width="29" height="25" fill="none" stroke="#555" stroke-width="0.6"/>
<text x="493.2" y="437.32" font-size="8.1" text-anchor="middle" textLength="20.5" lengthAdjust="spacingAndGlyphs">42.9%</text>
<text x="443.2" y="434.36" font-size="6" text-anchor="end">10<tspan dy="-2.1" font-size="3.9">7</tspan></text>
<line x1="443.8" y1="432.2" x2="445.4" y2="432.2" stroke="#231f20" stroke-width="0.5"/>
<text x="443.2" y="443.96" font-size="6" text-anchor="end">10<tspan dy="-2.1" font-size="3.9">6</tspan></text>
<line x1="443.8" y1="441.8" x2="445.4" y2="441.8" stroke="#231f20" stroke-width="0.5"/>
<text x="443.2" y="455.06" font-size="6" text-anchor="end">10<tspan dy="-2.1" font-size="3.9">5</tspan></text>
<line x1="443.8" y1="452.9" x2="445.4" y2="452.9" stroke="#231f20" stroke-width="0.5"/>
<text x="443.2" y="467.56" font-size="6" text-anchor="end">10<tspan dy="-2.1" font-size="3.9">4</tspan></text>
<line x1="443.8" y1="465.4" x2="445.4" y2="465.4" stroke="#231f20" stroke-width="0.5"/>
<text x="442.8" y="485.03" font-size="6.2" text-anchor="end" textLength="3.21" lengthAdjust="spacingAndGlyphs">0</text>
<line x1="443.8" y1="482.8" x2="445.4" y2="482.8" stroke="#231f20" stroke-width="0.5"/>
<line x1="444.4" y1="438.91" x2="445.4" y2="438.91" stroke="#231f20" stroke-width="0.4"/>
<line x1="444.4" y1="437.22" x2="445.4" y2="437.22" stroke="#231f20" stroke-width="0.4"/>
<line x1="444.4" y1="436.02" x2="445.4" y2="436.02" stroke="#231f20" stroke-width="0.4"/>
<line x1="444.4" y1="435.09" x2="445.4" y2="435.09" stroke="#231f20" stroke-width="0.4"/>
<line x1="444.4" y1="434.33" x2="445.4" y2="434.33" stroke="#231f20" stroke-width="0.4"/>
<line x1="444.4" y1="433.69" x2="445.4" y2="433.69" stroke="#231f20" stroke-width="0.4"/>
<line x1="444.4" y1="433.13" x2="445.4" y2="433.13" stroke="#231f20" stroke-width="0.4"/>
<line x1="444.4" y1="432.64" x2="445.4" y2="432.64" stroke="#231f20" stroke-width="0.4"/>
<line x1="444.4" y1="449.56" x2="445.4" y2="449.56" stroke="#231f20" stroke-width="0.4"/>
<line x1="444.4" y1="447.6" x2="445.4" y2="447.6" stroke="#231f20" stroke-width="0.4"/>
<line x1="444.4" y1="446.22" x2="445.4" y2="446.22" stroke="#231f20" stroke-width="0.4"/>
<line x1="444.4" y1="445.14" x2="445.4" y2="445.14" stroke="#231f20" stroke-width="0.4"/>
<line x1="444.4" y1="444.26" x2="445.4" y2="444.26" stroke="#231f20" stroke-width="0.4"/>
<line x1="444.4" y1="443.52" x2="445.4" y2="443.52" stroke="#231f20" stroke-width="0.4"/>
<line x1="444.4" y1="442.88" x2="445.4" y2="442.88" stroke="#231f20" stroke-width="0.4"/>
<line x1="444.4" y1="442.31" x2="445.4" y2="442.31" stroke="#231f20" stroke-width="0.4"/>
<line x1="444.4" y1="461.64" x2="445.4" y2="461.64" stroke="#231f20" stroke-width="0.4"/>
<line x1="444.4" y1="459.44" x2="445.4" y2="459.44" stroke="#231f20" stroke-width="0.4"/>
<line x1="444.4" y1="457.87" x2="445.4" y2="457.87" stroke="#231f20" stroke-width="0.4"/>
<line x1="444.4" y1="456.66" x2="445.4" y2="456.66" stroke="#231f20" stroke-width="0.4"/>
<line x1="444.4" y1="455.67" x2="445.4" y2="455.67" stroke="#231f20" stroke-width="0.4"/>
<line x1="444.4" y1="454.84" x2="445.4" y2="454.84" stroke="#231f20" stroke-width="0.4"/>
<line x1="444.4" y1="454.11" x2="445.4" y2="454.11" stroke="#231f20" stroke-width="0.4"/>
<line x1="444.4" y1="453.47" x2="445.4" y2="453.47" stroke="#231f20" stroke-width="0.4"/>
<line x1="444.4" y1="477.56" x2="445.4" y2="477.56" stroke="#231f20" stroke-width="0.4"/>
<line x1="444.4" y1="474.5" x2="445.4" y2="474.5" stroke="#231f20" stroke-width="0.4"/>
<line x1="444.4" y1="472.32" x2="445.4" y2="472.32" stroke="#231f20" stroke-width="0.4"/>
<line x1="444.4" y1="470.64" x2="445.4" y2="470.64" stroke="#231f20" stroke-width="0.4"/>
<line x1="444.4" y1="469.26" x2="445.4" y2="469.26" stroke="#231f20" stroke-width="0.4"/>
<line x1="444.4" y1="468.1" x2="445.4" y2="468.1" stroke="#231f20" stroke-width="0.4"/>
<line x1="444.4" y1="467.09" x2="445.4" y2="467.09" stroke="#231f20" stroke-width="0.4"/>
<line x1="444.4" y1="466.2" x2="445.4" y2="466.2" stroke="#231f20" stroke-width="0.4"/>
<text x="449.9" y="506.76" font-size="6" text-anchor="middle">10<tspan dy="-2.1" font-size="3.9">2</tspan></text>
<line x1="448.4" y1="496.6" x2="448.4" y2="498.4" stroke="#231f20" stroke-width="0.5"/>
<text x="460.7" y="506.76" font-size="6" text-anchor="middle">10<tspan dy="-2.1" font-size="3.9">3</tspan></text>
<line x1="459.2" y1="496.6" x2="459.2" y2="498.4" stroke="#231f20" stroke-width="0.5"/>
<text x="474.6" y="506.76" font-size="6" text-anchor="middle">10<tspan dy="-2.1" font-size="3.9">4</tspan></text>
<line x1="473.1" y1="496.6" x2="473.1" y2="498.4" stroke="#231f20" stroke-width="0.5"/>
<text x="487.1" y="506.76" font-size="6" text-anchor="middle">10<tspan dy="-2.1" font-size="3.9">5</tspan></text>
<line x1="485.6" y1="496.6" x2="485.6" y2="498.4" stroke="#231f20" stroke-width="0.5"/>
<text x="501.1" y="506.76" font-size="6" text-anchor="middle">10<tspan dy="-2.1" font-size="3.9">6</tspan></text>
<line x1="499.6" y1="496.6" x2="499.6" y2="498.4" stroke="#231f20" stroke-width="0.5"/>
<text x="511.2" y="506.76" font-size="6" text-anchor="middle">10<tspan dy="-2.1" font-size="3.9">7</tspan></text>
<line x1="509.7" y1="496.6" x2="509.7" y2="498.4" stroke="#231f20" stroke-width="0.5"/>
<line x1="451.65" y1="496.6" x2="451.65" y2="497.7" stroke="#231f20" stroke-width="0.4"/>
<line x1="453.55" y1="496.6" x2="453.55" y2="497.7" stroke="#231f20" stroke-width="0.4"/>
<line x1="454.9" y1="496.6" x2="454.9" y2="497.7" stroke="#231f20" stroke-width="0.4"/>
<line x1="455.95" y1="496.6" x2="455.95" y2="497.7" stroke="#231f20" stroke-width="0.4"/>
<line x1="456.8" y1="496.6" x2="456.8" y2="497.7" stroke="#231f20" stroke-width="0.4"/>
<line x1="457.53" y1="496.6" x2="457.53" y2="497.7" stroke="#231f20" stroke-width="0.4"/>
<line x1="458.15" y1="496.6" x2="458.15" y2="497.7" stroke="#231f20" stroke-width="0.4"/>
<line x1="458.71" y1="496.6" x2="458.71" y2="497.7" stroke="#231f20" stroke-width="0.4"/>
<line x1="463.38" y1="496.6" x2="463.38" y2="497.7" stroke="#231f20" stroke-width="0.4"/>
<line x1="465.83" y1="496.6" x2="465.83" y2="497.7" stroke="#231f20" stroke-width="0.4"/>
<line x1="467.57" y1="496.6" x2="467.57" y2="497.7" stroke="#231f20" stroke-width="0.4"/>
<line x1="468.92" y1="496.6" x2="468.92" y2="497.7" stroke="#231f20" stroke-width="0.4"/>
<line x1="470.02" y1="496.6" x2="470.02" y2="497.7" stroke="#231f20" stroke-width="0.4"/>
<line x1="470.95" y1="496.6" x2="470.95" y2="497.7" stroke="#231f20" stroke-width="0.4"/>
<line x1="471.75" y1="496.6" x2="471.75" y2="497.7" stroke="#231f20" stroke-width="0.4"/>
<line x1="472.46" y1="496.6" x2="472.46" y2="497.7" stroke="#231f20" stroke-width="0.4"/>
<line x1="476.86" y1="496.6" x2="476.86" y2="497.7" stroke="#231f20" stroke-width="0.4"/>
<line x1="479.06" y1="496.6" x2="479.06" y2="497.7" stroke="#231f20" stroke-width="0.4"/>
<line x1="480.63" y1="496.6" x2="480.63" y2="497.7" stroke="#231f20" stroke-width="0.4"/>
<line x1="481.84" y1="496.6" x2="481.84" y2="497.7" stroke="#231f20" stroke-width="0.4"/>
<line x1="482.83" y1="496.6" x2="482.83" y2="497.7" stroke="#231f20" stroke-width="0.4"/>
<line x1="483.66" y1="496.6" x2="483.66" y2="497.7" stroke="#231f20" stroke-width="0.4"/>
<line x1="484.39" y1="496.6" x2="484.39" y2="497.7" stroke="#231f20" stroke-width="0.4"/>
<line x1="485.03" y1="496.6" x2="485.03" y2="497.7" stroke="#231f20" stroke-width="0.4"/>
<line x1="489.81" y1="496.6" x2="489.81" y2="497.7" stroke="#231f20" stroke-width="0.4"/>
<line x1="492.28" y1="496.6" x2="492.28" y2="497.7" stroke="#231f20" stroke-width="0.4"/>
<line x1="494.03" y1="496.6" x2="494.03" y2="497.7" stroke="#231f20" stroke-width="0.4"/>
<line x1="495.39" y1="496.6" x2="495.39" y2="497.7" stroke="#231f20" stroke-width="0.4"/>
<line x1="496.49" y1="496.6" x2="496.49" y2="497.7" stroke="#231f20" stroke-width="0.4"/>
<line x1="497.43" y1="496.6" x2="497.43" y2="497.7" stroke="#231f20" stroke-width="0.4"/>
<line x1="498.24" y1="496.6" x2="498.24" y2="497.7" stroke="#231f20" stroke-width="0.4"/>
<line x1="498.96" y1="496.6" x2="498.96" y2="497.7" stroke="#231f20" stroke-width="0.4"/>
<line x1="502.64" y1="496.6" x2="502.64" y2="497.7" stroke="#231f20" stroke-width="0.4"/>
<line x1="504.42" y1="496.6" x2="504.42" y2="497.7" stroke="#231f20" stroke-width="0.4"/>
<line x1="505.68" y1="496.6" x2="505.68" y2="497.7" stroke="#231f20" stroke-width="0.4"/>
<line x1="506.66" y1="496.6" x2="506.66" y2="497.7" stroke="#231f20" stroke-width="0.4"/>
<line x1="507.46" y1="496.6" x2="507.46" y2="497.7" stroke="#231f20" stroke-width="0.4"/>
<line x1="508.14" y1="496.6" x2="508.14" y2="497.7" stroke="#231f20" stroke-width="0.4"/>
<line x1="508.72" y1="496.6" x2="508.72" y2="497.7" stroke="#231f20" stroke-width="0.4"/>
<line x1="509.24" y1="496.6" x2="509.24" y2="497.7" stroke="#231f20" stroke-width="0.4"/>
<text x="8.9" y="501.01" font-size="7.8" text-anchor="middle" textLength="30.7" lengthAdjust="spacingAndGlyphs" transform="rotate(-90 8.9 498.2)">CD3-APC</text>
<line x1="8.5" y1="481.5" x2="8.5" y2="426.9" stroke="#231f20" stroke-width="1.1"/>
<polygon points="8.5,423.8 6.99,427.4 10.01,427.4" fill="#231f20"/>
<text x="19.9" y="518.88" font-size="8" textLength="44.6" lengthAdjust="spacingAndGlyphs">CD107a-FITC</text>
<line x1="66" y1="515.5" x2="254.7" y2="515.5" stroke="#231f20" stroke-width="1.1"/>
<polygon points="258,515.5 254.2,513.9 254.2,517.1" fill="#231f20"/>
<text x="268.9" y="500.81" font-size="7.8" text-anchor="middle" textLength="31.5" lengthAdjust="spacingAndGlyphs" transform="rotate(-90 268.9 498)">CD3-APC</text>
<line x1="268.5" y1="481.5" x2="268.5" y2="426.8" stroke="#231f20" stroke-width="1.1"/>
<polygon points="268.5,423.7 266.99,427.3 270.01,427.3" fill="#231f20"/>
<text x="283.5" y="518.28" font-size="8" textLength="44.6" lengthAdjust="spacingAndGlyphs">CD107a-FITC</text>
<line x1="333" y1="515.5" x2="510.5" y2="515.5" stroke="#231f20" stroke-width="1.1"/>
<polygon points="513.8,515.5 510,513.9 510,517.1" fill="#231f20"/>
<text x="125.6" y="529.06" font-size="9.9" text-anchor="middle" textLength="43.8" lengthAdjust="spacingAndGlyphs">FAP-CART</text>
<text x="405.6" y="529.06" font-size="9.9" text-anchor="middle" textLength="62.4" lengthAdjust="spacingAndGlyphs">SLAMF7-CART</text>
<line x1="35.5" y1="535" x2="35.5" y2="608.9" stroke="#231f20" stroke-width="1.4"/>
<line x1="35.5" y1="608.5" x2="81.5" y2="608.5" stroke="#231f20" stroke-width="1.4"/>
<line x1="32.5" y1="608.5" x2="35.5" y2="608.5" stroke="#231f20" stroke-width="1"/>
<text x="29.5" y="611.04" font-size="7.9" text-anchor="end" textLength="4.31" lengthAdjust="spacingAndGlyphs">0</text>
<line x1="32.5" y1="594.5" x2="35.5" y2="594.5" stroke="#231f20" stroke-width="1"/>
<text x="29.5" y="597.3" font-size="7.9" text-anchor="end" textLength="8.61" lengthAdjust="spacingAndGlyphs">20</text>
<line x1="32.5" y1="580.5" x2="35.5" y2="580.5" stroke="#231f20" stroke-width="1"/>
<text x="29.5" y="583.56" font-size="7.9" text-anchor="end" textLength="8.61" lengthAdjust="spacingAndGlyphs">40</text>
<line x1="32.5" y1="566.5" x2="35.5" y2="566.5" stroke="#231f20" stroke-width="1"/>
<text x="29.5" y="569.82" font-size="7.9" text-anchor="end" textLength="8.61" lengthAdjust="spacingAndGlyphs">60</text>
<line x1="32.5" y1="553.5" x2="35.5" y2="553.5" stroke="#231f20" stroke-width="1"/>
<text x="29.5" y="556.08" font-size="7.9" text-anchor="end" textLength="8.61" lengthAdjust="spacingAndGlyphs">80</text>
<line x1="32.5" y1="539.5" x2="35.5" y2="539.5" stroke="#231f20" stroke-width="1"/>
<text x="29.5" y="542.34" font-size="7.9" text-anchor="end" textLength="12.92" lengthAdjust="spacingAndGlyphs">100</text>
<rect x="38" y="607.4" width="9" height="0.8" fill="#3cb54a"/>
<line x1="42.5" y1="607.79" x2="42.5" y2="607.24" stroke="#231f20" stroke-width="1"/>
<line x1="40.6" y1="607.5" x2="44.4" y2="607.5" stroke="#231f20" stroke-width="1"/>
<line x1="40.6" y1="607.5" x2="44.4" y2="607.5" stroke="#231f20" stroke-width="1"/>
<line x1="42.5" y1="608.2" x2="42.5" y2="611.2" stroke="#231f20" stroke-width="0.9"/>
<rect x="53.5" y="606" width="9" height="2.2" fill="#3d4a5c"/>
<line x1="58.5" y1="606.55" x2="58.5" y2="605.31" stroke="#231f20" stroke-width="1"/>
<line x1="56.1" y1="606.5" x2="59.9" y2="606.5" stroke="#231f20" stroke-width="1"/>
<line x1="56.1" y1="605.5" x2="59.9" y2="605.5" stroke="#231f20" stroke-width="1"/>
<line x1="58.5" y1="608.2" x2="58.5" y2="611.2" stroke="#231f20" stroke-width="0.9"/>
<rect x="68.8" y="558.05" width="9" height="50.15" fill="#124f8c"/>
<line x1="73.5" y1="559.42" x2="73.5" y2="555.99" stroke="#231f20" stroke-width="1"/>
<line x1="71.4" y1="559.5" x2="75.2" y2="559.5" stroke="#231f20" stroke-width="1"/>
<line x1="71.4" y1="555.5" x2="75.2" y2="555.5" stroke="#231f20" stroke-width="1"/>
<line x1="73.5" y1="608.2" x2="73.5" y2="611.2" stroke="#231f20" stroke-width="0.9"/>
<line x1="43.2" y1="542.5" x2="73.5" y2="542.5" stroke="#231f20" stroke-width="0.8"/>
<polygon points="53.06,536.56 53.55,537.62 54.72,537.76 53.86,538.56 54.08,539.71 53.06,539.13 52.04,539.71 52.27,538.56 51.41,537.76 52.57,537.62" fill="#231f20"/>
<polygon points="56.59,536.56 57.08,537.62 58.24,537.76 57.38,538.56 57.61,539.71 56.59,539.13 55.57,539.71 55.79,538.56 54.93,537.76 56.1,537.62" fill="#231f20"/>
<polygon points="60.11,536.56 60.6,537.62 61.77,537.76 60.91,538.56 61.13,539.71 60.11,539.13 59.09,539.71 59.32,538.56 58.46,537.76 59.62,537.62" fill="#231f20"/>
<polygon points="63.64,536.56 64.13,537.62 65.29,537.76 64.43,538.56 64.66,539.71 63.64,539.13 62.62,539.71 62.84,538.56 61.98,537.76 63.15,537.62" fill="#231f20"/>
<line x1="57.9" y1="544.5" x2="73.5" y2="544.5" stroke="#231f20" stroke-width="0.8"/>
<text x="11.1" y="573.71" font-size="9.2" text-anchor="middle" textLength="76.7" lengthAdjust="spacingAndGlyphs" transform="rotate(-90 11.1 570.4)">% CD107a positive cells</text>
<line x1="121.5" y1="534.9" x2="121.5" y2="608.7" stroke="#231f20" stroke-width="1.4"/>
<line x1="121.7" y1="608.5" x2="166" y2="608.5" stroke="#231f20" stroke-width="1.4"/>
<line x1="118.7" y1="608.5" x2="121.7" y2="608.5" stroke="#231f20" stroke-width="1"/>
<text x="115.7" y="610.84" font-size="7.9" text-anchor="end" textLength="4.31" lengthAdjust="spacingAndGlyphs">0</text>
<line x1="118.7" y1="594.5" x2="121.7" y2="594.5" stroke="#231f20" stroke-width="1"/>
<text x="115.7" y="597.12" font-size="7.9" text-anchor="end" textLength="8.61" lengthAdjust="spacingAndGlyphs">10</text>
<line x1="118.7" y1="580.5" x2="121.7" y2="580.5" stroke="#231f20" stroke-width="1"/>
<text x="115.7" y="583.4" font-size="7.9" text-anchor="end" textLength="8.61" lengthAdjust="spacingAndGlyphs">20</text>
<line x1="118.7" y1="566.5" x2="121.7" y2="566.5" stroke="#231f20" stroke-width="1"/>
<text x="115.7" y="569.68" font-size="7.9" text-anchor="end" textLength="8.61" lengthAdjust="spacingAndGlyphs">30</text>
<line x1="118.7" y1="553.5" x2="121.7" y2="553.5" stroke="#231f20" stroke-width="1"/>
<text x="115.7" y="555.96" font-size="7.9" text-anchor="end" textLength="8.61" lengthAdjust="spacingAndGlyphs">40</text>
<line x1="118.7" y1="539.5" x2="121.7" y2="539.5" stroke="#231f20" stroke-width="1"/>
<text x="115.7" y="542.24" font-size="7.9" text-anchor="end" textLength="8.61" lengthAdjust="spacingAndGlyphs">50</text>
<rect x="125.4" y="607.2" width="9" height="0.8" fill="#3cb54a"/>
<line x1="129.5" y1="607.86" x2="129.5" y2="607.31" stroke="#231f20" stroke-width="1"/>
<line x1="128" y1="607.5" x2="131.8" y2="607.5" stroke="#231f20" stroke-width="1"/>
<line x1="128" y1="607.5" x2="131.8" y2="607.5" stroke="#231f20" stroke-width="1"/>
<line x1="129.5" y1="608" x2="129.5" y2="611" stroke="#231f20" stroke-width="0.9"/>
<rect x="141.1" y="605.94" width="9" height="2.06" fill="#3d4a5c"/>
<line x1="145.5" y1="606.35" x2="145.5" y2="605.53" stroke="#231f20" stroke-width="1"/>
<line x1="143.7" y1="606.5" x2="147.5" y2="606.5" stroke="#231f20" stroke-width="1"/>
<line x1="143.7" y1="605.5" x2="147.5" y2="605.5" stroke="#231f20" stroke-width="1"/>
<line x1="145.5" y1="608" x2="145.5" y2="611" stroke="#231f20" stroke-width="0.9"/>
<rect x="155.1" y="568.21" width="9" height="39.79" fill="#124f8c"/>
<line x1="159.5" y1="579.19" x2="159.5" y2="555.86" stroke="#231f20" stroke-width="1"/>
<line x1="157.7" y1="579.5" x2="161.5" y2="579.5" stroke="#231f20" stroke-width="1"/>
<line x1="157.7" y1="555.5" x2="161.5" y2="555.5" stroke="#231f20" stroke-width="1"/>
<line x1="159.5" y1="608" x2="159.5" y2="611" stroke="#231f20" stroke-width="0.9"/>
<line x1="130.9" y1="542.5" x2="160.3" y2="542.5" stroke="#231f20" stroke-width="0.8"/>
<polygon points="143.84,536.86 144.33,537.92 145.49,538.06 144.63,538.86 144.86,540.01 143.84,539.43 142.82,540.01 143.04,538.86 142.18,538.06 143.35,537.92" fill="#231f20"/>
<polygon points="147.36,536.86 147.85,537.92 149.02,538.06 148.16,538.86 148.38,540.01 147.36,539.43 146.34,540.01 146.57,538.86 145.71,538.06 146.87,537.92" fill="#231f20"/>
<line x1="144.9" y1="550.5" x2="160.3" y2="550.5" stroke="#231f20" stroke-width="0.8"/>
<polygon points="152.6,545.06 153.09,546.12 154.25,546.26 153.39,547.06 153.62,548.21 152.6,547.63 151.58,548.21 151.81,547.06 150.95,546.26 152.11,546.12" fill="#231f20"/>
<text x="95.2" y="574.31" font-size="9.2" text-anchor="middle" textLength="77" lengthAdjust="spacingAndGlyphs" transform="rotate(-90 95.2 571)">% GM-CSF positive cells</text>
<line x1="200.5" y1="534.9" x2="200.5" y2="608.7" stroke="#231f20" stroke-width="1.4"/>
<line x1="200.2" y1="608.5" x2="245" y2="608.5" stroke="#231f20" stroke-width="1.4"/>
<line x1="197.2" y1="608.5" x2="200.2" y2="608.5" stroke="#231f20" stroke-width="1"/>
<text x="194.2" y="610.84" font-size="7.9" text-anchor="end" textLength="4.31" lengthAdjust="spacingAndGlyphs">0</text>
<line x1="197.2" y1="594.5" x2="200.2" y2="594.5" stroke="#231f20" stroke-width="1"/>
<text x="194.2" y="597.12" font-size="7.9" text-anchor="end" textLength="4.31" lengthAdjust="spacingAndGlyphs">1</text>
<line x1="197.2" y1="580.5" x2="200.2" y2="580.5" stroke="#231f20" stroke-width="1"/>
<text x="194.2" y="583.4" font-size="7.9" text-anchor="end" textLength="4.31" lengthAdjust="spacingAndGlyphs">2</text>
<line x1="197.2" y1="566.5" x2="200.2" y2="566.5" stroke="#231f20" stroke-width="1"/>
<text x="194.2" y="569.68" font-size="7.9" text-anchor="end" textLength="4.31" lengthAdjust="spacingAndGlyphs">3</text>
<line x1="197.2" y1="553.5" x2="200.2" y2="553.5" stroke="#231f20" stroke-width="1"/>
<text x="194.2" y="555.96" font-size="7.9" text-anchor="end" textLength="4.31" lengthAdjust="spacingAndGlyphs">4</text>
<line x1="197.2" y1="539.5" x2="200.2" y2="539.5" stroke="#231f20" stroke-width="1"/>
<text x="194.2" y="542.24" font-size="7.9" text-anchor="end" textLength="4.31" lengthAdjust="spacingAndGlyphs">5</text>
<rect x="203.8" y="605.26" width="9" height="2.74" fill="#3cb54a"/>
<line x1="208.5" y1="605.94" x2="208.5" y2="604.57" stroke="#231f20" stroke-width="1"/>
<line x1="206.4" y1="605.5" x2="210.2" y2="605.5" stroke="#231f20" stroke-width="1"/>
<line x1="206.4" y1="604.5" x2="210.2" y2="604.5" stroke="#231f20" stroke-width="1"/>
<line x1="208.5" y1="608" x2="208.5" y2="611" stroke="#231f20" stroke-width="0.9"/>
<rect x="219.5" y="589.48" width="9" height="18.52" fill="#3d4a5c"/>
<line x1="224.5" y1="594.28" x2="224.5" y2="583.99" stroke="#231f20" stroke-width="1"/>
<line x1="222.1" y1="594.5" x2="225.9" y2="594.5" stroke="#231f20" stroke-width="1"/>
<line x1="222.1" y1="583.5" x2="225.9" y2="583.5" stroke="#231f20" stroke-width="1"/>
<line x1="224.5" y1="608" x2="224.5" y2="611" stroke="#231f20" stroke-width="0.9"/>
<rect x="234.2" y="550.38" width="9" height="57.62" fill="#124f8c"/>
<line x1="238.5" y1="555.18" x2="238.5" y2="544.89" stroke="#231f20" stroke-width="1"/>
<line x1="236.8" y1="555.5" x2="240.6" y2="555.5" stroke="#231f20" stroke-width="1"/>
<line x1="236.8" y1="544.5" x2="240.6" y2="544.5" stroke="#231f20" stroke-width="1"/>
<line x1="238.5" y1="608" x2="238.5" y2="611" stroke="#231f20" stroke-width="0.9"/>
<line x1="209.3" y1="533.5" x2="240.4" y2="533.5" stroke="#231f20" stroke-width="0.8"/>
<polygon points="219.56,528.06 220.05,529.12 221.22,529.26 220.36,530.06 220.58,531.21 219.56,530.63 218.54,531.21 218.77,530.06 217.91,529.26 219.07,529.12" fill="#231f20"/>
<polygon points="223.09,528.06 223.58,529.12 224.74,529.26 223.88,530.06 224.11,531.21 223.09,530.63 222.07,531.21 222.29,530.06 221.43,529.26 222.6,529.12" fill="#231f20"/>
<polygon points="226.61,528.06 227.1,529.12 228.27,529.26 227.41,530.06 227.63,531.21 226.61,530.63 225.59,531.21 225.82,530.06 224.96,529.26 226.12,529.12" fill="#231f20"/>
<polygon points="230.14,528.06 230.63,529.12 231.79,529.26 230.93,530.06 231.16,531.21 230.14,530.63 229.12,531.21 229.34,530.06 228.48,529.26 229.65,529.12" fill="#231f20"/>
<line x1="224" y1="542.5" x2="240.4" y2="542.5" stroke="#231f20" stroke-width="0.8"/>
<polygon points="228.67,536.86 229.17,537.92 230.33,538.06 229.47,538.86 229.7,540.01 228.67,539.43 227.65,540.01 227.88,538.86 227.02,538.06 228.18,537.92" fill="#231f20"/>
<polygon points="232.2,536.86 232.69,537.92 233.85,538.06 232.99,538.86 233.22,540.01 232.2,539.43 231.18,540.01 231.41,538.86 230.55,538.06 231.71,537.92" fill="#231f20"/>
<polygon points="235.72,536.86 236.22,537.92 237.38,538.06 236.52,538.86 236.75,540.01 235.72,539.43 234.7,540.01 234.93,538.86 234.07,538.06 235.23,537.92" fill="#231f20"/>
<text x="182" y="575.31" font-size="9.2" text-anchor="middle" textLength="75.2" lengthAdjust="spacingAndGlyphs" transform="rotate(-90 182 572)">% IFN-γ positive cells</text>
<line x1="35.5" y1="626.75" x2="35.5" y2="700.2" stroke="#231f20" stroke-width="1.4"/>
<line x1="35" y1="699.5" x2="81.5" y2="699.5" stroke="#231f20" stroke-width="1.4"/>
<line x1="32" y1="699.5" x2="35" y2="699.5" stroke="#231f20" stroke-width="1"/>
<text x="29" y="702.34" font-size="7.9" text-anchor="end" textLength="4.31" lengthAdjust="spacingAndGlyphs">0</text>
<line x1="32" y1="676.5" x2="35" y2="676.5" stroke="#231f20" stroke-width="1"/>
<text x="29" y="679.59" font-size="7.9" text-anchor="end" textLength="8.61" lengthAdjust="spacingAndGlyphs">20</text>
<line x1="32" y1="654.5" x2="35" y2="654.5" stroke="#231f20" stroke-width="1"/>
<text x="29" y="656.84" font-size="7.9" text-anchor="end" textLength="8.61" lengthAdjust="spacingAndGlyphs">40</text>
<line x1="32" y1="631.5" x2="35" y2="631.5" stroke="#231f20" stroke-width="1"/>
<text x="29" y="634.09" font-size="7.9" text-anchor="end" textLength="8.61" lengthAdjust="spacingAndGlyphs">60</text>
<rect x="38" y="698.7" width="9" height="0.8" fill="#3cb54a"/>
<line x1="42.5" y1="699.44" x2="42.5" y2="699.1" stroke="#231f20" stroke-width="1"/>
<line x1="40.6" y1="699.5" x2="44.4" y2="699.5" stroke="#231f20" stroke-width="1"/>
<line x1="40.6" y1="699.5" x2="44.4" y2="699.5" stroke="#231f20" stroke-width="1"/>
<line x1="42.5" y1="699.5" x2="42.5" y2="702.5" stroke="#231f20" stroke-width="0.9"/>
<rect x="53.5" y="698.7" width="9" height="0.8" fill="#3d4a5c"/>
<line x1="58.5" y1="699.16" x2="58.5" y2="698.7" stroke="#231f20" stroke-width="1"/>
<line x1="56.1" y1="699.5" x2="59.9" y2="699.5" stroke="#231f20" stroke-width="1"/>
<line x1="56.1" y1="698.5" x2="59.9" y2="698.5" stroke="#231f20" stroke-width="1"/>
<line x1="58.5" y1="699.5" x2="58.5" y2="702.5" stroke="#231f20" stroke-width="0.9"/>
<rect x="68.8" y="648.31" width="9" height="51.19" fill="#124f8c"/>
<line x1="73.5" y1="659.69" x2="73.5" y2="636.94" stroke="#231f20" stroke-width="1"/>
<line x1="71.4" y1="659.5" x2="75.2" y2="659.5" stroke="#231f20" stroke-width="1"/>
<line x1="71.4" y1="636.5" x2="75.2" y2="636.5" stroke="#231f20" stroke-width="1"/>
<line x1="73.5" y1="699.5" x2="73.5" y2="702.5" stroke="#231f20" stroke-width="0.9"/>
<line x1="43.8" y1="625.5" x2="74.2" y2="625.5" stroke="#231f20" stroke-width="0.8"/>
<polygon points="55.48,619.96 55.97,621.02 57.13,621.16 56.27,621.96 56.5,623.11 55.48,622.53 54.45,623.11 54.68,621.96 53.82,621.16 54.98,621.02" fill="#231f20"/>
<polygon points="59,619.96 59.49,621.02 60.65,621.16 59.79,621.96 60.02,623.11 59,622.53 57.98,623.11 58.21,621.96 57.35,621.16 58.51,621.02" fill="#231f20"/>
<polygon points="62.53,619.96 63.02,621.02 64.18,621.16 63.32,621.96 63.55,623.11 62.53,622.53 61.5,623.11 61.73,621.96 60.87,621.16 62.03,621.02" fill="#231f20"/>
<line x1="58" y1="633.5" x2="74.2" y2="633.5" stroke="#231f20" stroke-width="0.8"/>
<polygon points="62.57,627.96 63.07,629.02 64.23,629.16 63.37,629.96 63.6,631.11 62.57,630.53 61.55,631.11 61.78,629.96 60.92,629.16 62.08,629.02" fill="#231f20"/>
<polygon points="66.1,627.96 66.59,629.02 67.75,629.16 66.89,629.96 67.12,631.11 66.1,630.53 65.08,631.11 65.31,629.96 64.45,629.16 65.61,629.02" fill="#231f20"/>
<polygon points="69.62,627.96 70.12,629.02 71.28,629.16 70.42,629.96 70.65,631.11 69.62,630.53 68.6,631.11 68.83,629.96 67.97,629.16 69.13,629.02" fill="#231f20"/>
<text x="10.1" y="665.81" font-size="9.2" text-anchor="middle" textLength="62.5" lengthAdjust="spacingAndGlyphs" transform="rotate(-90 10.1 662.5)">% IL-2 positive cells</text>
<line x1="121.5" y1="626.1" x2="121.5" y2="700.3" stroke="#231f20" stroke-width="1.4"/>
<line x1="121.7" y1="699.5" x2="166" y2="699.5" stroke="#231f20" stroke-width="1.4"/>
<line x1="118.7" y1="699.5" x2="121.7" y2="699.5" stroke="#231f20" stroke-width="1"/>
<text x="115.7" y="702.44" font-size="7.9" text-anchor="end" textLength="4.31" lengthAdjust="spacingAndGlyphs">0</text>
<line x1="118.7" y1="682.5" x2="121.7" y2="682.5" stroke="#231f20" stroke-width="1"/>
<text x="115.7" y="685.19" font-size="7.9" text-anchor="end" textLength="4.31" lengthAdjust="spacingAndGlyphs">2</text>
<line x1="118.7" y1="665.5" x2="121.7" y2="665.5" stroke="#231f20" stroke-width="1"/>
<text x="115.7" y="667.94" font-size="7.9" text-anchor="end" textLength="4.31" lengthAdjust="spacingAndGlyphs">4</text>
<line x1="118.7" y1="647.5" x2="121.7" y2="647.5" stroke="#231f20" stroke-width="1"/>
<text x="115.7" y="650.69" font-size="7.9" text-anchor="end" textLength="4.31" lengthAdjust="spacingAndGlyphs">6</text>
<line x1="118.7" y1="630.5" x2="121.7" y2="630.5" stroke="#231f20" stroke-width="1"/>
<text x="115.7" y="633.44" font-size="7.9" text-anchor="end" textLength="4.31" lengthAdjust="spacingAndGlyphs">8</text>
<rect x="125.4" y="694.43" width="9" height="5.17" fill="#3cb54a"/>
<line x1="129.5" y1="694.86" x2="129.5" y2="693.99" stroke="#231f20" stroke-width="1"/>
<line x1="128" y1="694.5" x2="131.8" y2="694.5" stroke="#231f20" stroke-width="1"/>
<line x1="128" y1="693.5" x2="131.8" y2="693.5" stroke="#231f20" stroke-width="1"/>
<line x1="129.5" y1="699.6" x2="129.5" y2="702.6" stroke="#231f20" stroke-width="0.9"/>
<rect x="141.1" y="689.68" width="9" height="9.92" fill="#3d4a5c"/>
<line x1="145.5" y1="690.98" x2="145.5" y2="688.39" stroke="#231f20" stroke-width="1"/>
<line x1="143.7" y1="690.5" x2="147.5" y2="690.5" stroke="#231f20" stroke-width="1"/>
<line x1="143.7" y1="688.5" x2="147.5" y2="688.5" stroke="#231f20" stroke-width="1"/>
<line x1="145.5" y1="699.6" x2="145.5" y2="702.6" stroke="#231f20" stroke-width="0.9"/>
<rect x="155.8" y="659.06" width="9" height="40.54" fill="#124f8c"/>
<line x1="160.5" y1="669.41" x2="160.5" y2="647.85" stroke="#231f20" stroke-width="1"/>
<line x1="158.4" y1="669.5" x2="162.2" y2="669.5" stroke="#231f20" stroke-width="1"/>
<line x1="158.4" y1="647.5" x2="162.2" y2="647.5" stroke="#231f20" stroke-width="1"/>
<line x1="160.5" y1="699.6" x2="160.5" y2="702.6" stroke="#231f20" stroke-width="0.9"/>
<line x1="130.9" y1="625.5" x2="161.3" y2="625.5" stroke="#231f20" stroke-width="0.8"/>
<polygon points="144.34,619.56 144.83,620.62 145.99,620.76 145.13,621.56 145.36,622.71 144.34,622.13 143.32,622.71 143.54,621.56 142.68,620.76 143.85,620.62" fill="#231f20"/>
<polygon points="147.86,619.56 148.35,620.62 149.52,620.76 148.66,621.56 148.88,622.71 147.86,622.13 146.84,622.71 147.07,621.56 146.21,620.76 147.37,620.62" fill="#231f20"/>
<line x1="144.9" y1="633.5" x2="161.3" y2="633.5" stroke="#231f20" stroke-width="0.8"/>
<polygon points="153.1,627.66 153.59,628.72 154.75,628.86 153.89,629.66 154.12,630.81 153.1,630.23 152.08,630.81 152.31,629.66 151.45,628.86 152.61,628.72" fill="#231f20"/>
<text x="101.2" y="665.31" font-size="9.2" text-anchor="middle" textLength="75" lengthAdjust="spacingAndGlyphs" transform="rotate(-90 101.2 662)">% MIP1-β positive cells</text>
<rect x="171.7" y="633.5" width="8.2" height="4" fill="#3cb54a"/>
<text x="182.8" y="638.66" font-size="7.4" textLength="45.5" lengthAdjust="spacingAndGlyphs">Media control</text>
<rect x="171.7" y="641.5" width="8.2" height="4" fill="#3d4a5c"/>
<text x="182.8" y="646.66" font-size="7.4" textLength="22.6" lengthAdjust="spacingAndGlyphs">JeKo-1</text>
<rect x="171.7" y="649.5" width="8.2" height="4" fill="#124f8c"/>
<text x="182.8" y="654.66" font-size="7.4" textLength="19.2" lengthAdjust="spacingAndGlyphs">WI-38</text>
<line x1="301.5" y1="535.4" x2="301.5" y2="608.8" stroke="#231f20" stroke-width="1.4"/>
<line x1="301.2" y1="608.5" x2="347" y2="608.5" stroke="#231f20" stroke-width="1.4"/>
<line x1="298.2" y1="608.5" x2="301.2" y2="608.5" stroke="#231f20" stroke-width="1"/>
<text x="295.2" y="610.94" font-size="7.9" text-anchor="end" textLength="4.31" lengthAdjust="spacingAndGlyphs">0</text>
<line x1="298.2" y1="585.5" x2="301.2" y2="585.5" stroke="#231f20" stroke-width="1"/>
<text x="295.2" y="588.21" font-size="7.9" text-anchor="end" textLength="8.61" lengthAdjust="spacingAndGlyphs">20</text>
<line x1="298.2" y1="562.5" x2="301.2" y2="562.5" stroke="#231f20" stroke-width="1"/>
<text x="295.2" y="565.48" font-size="7.9" text-anchor="end" textLength="8.61" lengthAdjust="spacingAndGlyphs">40</text>
<line x1="298.2" y1="539.5" x2="301.2" y2="539.5" stroke="#231f20" stroke-width="1"/>
<text x="295.2" y="542.74" font-size="7.9" text-anchor="end" textLength="8.61" lengthAdjust="spacingAndGlyphs">60</text>
<rect x="304.5" y="605.26" width="9" height="2.84" fill="#3cb54a"/>
<line x1="309.5" y1="605.83" x2="309.5" y2="604.46" stroke="#231f20" stroke-width="1"/>
<line x1="307.1" y1="605.5" x2="310.9" y2="605.5" stroke="#231f20" stroke-width="1"/>
<line x1="307.1" y1="604.5" x2="310.9" y2="604.5" stroke="#231f20" stroke-width="1"/>
<line x1="309.5" y1="608.1" x2="309.5" y2="611.1" stroke="#231f20" stroke-width="0.9"/>
<rect x="319.8" y="607.3" width="9" height="0.8" fill="#55287c"/>
<line x1="324.5" y1="607.99" x2="324.5" y2="607.53" stroke="#231f20" stroke-width="1"/>
<line x1="322.4" y1="607.5" x2="326.2" y2="607.5" stroke="#231f20" stroke-width="1"/>
<line x1="322.4" y1="607.5" x2="326.2" y2="607.5" stroke="#231f20" stroke-width="1"/>
<line x1="324.5" y1="608.1" x2="324.5" y2="611.1" stroke="#231f20" stroke-width="0.9"/>
<rect x="334.9" y="551.84" width="9" height="56.27" fill="#f7941d"/>
<line x1="339.5" y1="553.54" x2="339.5" y2="549.56" stroke="#231f20" stroke-width="1"/>
<line x1="337.5" y1="553.5" x2="341.3" y2="553.5" stroke="#231f20" stroke-width="1"/>
<line x1="337.5" y1="549.5" x2="341.3" y2="549.5" stroke="#231f20" stroke-width="1"/>
<line x1="339.5" y1="608.1" x2="339.5" y2="611.1" stroke="#231f20" stroke-width="0.9"/>
<line x1="306.9" y1="537.5" x2="338" y2="537.5" stroke="#231f20" stroke-width="0.8"/>
<polygon points="317.16,531.46 317.65,532.52 318.82,532.66 317.96,533.46 318.18,534.61 317.16,534.03 316.14,534.61 316.37,533.46 315.51,532.66 316.67,532.52" fill="#231f20"/>
<polygon points="320.69,531.46 321.18,532.52 322.34,532.66 321.48,533.46 321.71,534.61 320.69,534.03 319.67,534.61 319.89,533.46 319.03,532.66 320.2,532.52" fill="#231f20"/>
<polygon points="324.21,531.46 324.7,532.52 325.87,532.66 325.01,533.46 325.23,534.61 324.21,534.03 323.19,534.61 323.42,533.46 322.56,532.66 323.72,532.52" fill="#231f20"/>
<polygon points="327.74,531.46 328.23,532.52 329.39,532.66 328.53,533.46 328.76,534.61 327.74,534.03 326.72,534.61 326.94,533.46 326.08,532.66 327.25,532.52" fill="#231f20"/>
<line x1="322.5" y1="539.5" x2="338" y2="539.5" stroke="#231f20" stroke-width="0.8"/>
<text x="277.2" y="574.71" font-size="9.2" text-anchor="middle" textLength="77" lengthAdjust="spacingAndGlyphs" transform="rotate(-90 277.2 571.4)">% CD107a positive cells</text>
<line x1="384.5" y1="534.9" x2="384.5" y2="608.7" stroke="#231f20" stroke-width="1.4"/>
<line x1="384.3" y1="608.5" x2="430" y2="608.5" stroke="#231f20" stroke-width="1.4"/>
<line x1="381.3" y1="608.5" x2="384.3" y2="608.5" stroke="#231f20" stroke-width="1"/>
<text x="378.3" y="610.84" font-size="7.9" text-anchor="end" textLength="4.31" lengthAdjust="spacingAndGlyphs">0</text>
<line x1="381.3" y1="594.5" x2="384.3" y2="594.5" stroke="#231f20" stroke-width="1"/>
<text x="378.3" y="597.12" font-size="7.9" text-anchor="end" textLength="8.61" lengthAdjust="spacingAndGlyphs">10</text>
<line x1="381.3" y1="580.5" x2="384.3" y2="580.5" stroke="#231f20" stroke-width="1"/>
<text x="378.3" y="583.4" font-size="7.9" text-anchor="end" textLength="8.61" lengthAdjust="spacingAndGlyphs">20</text>
<line x1="381.3" y1="566.5" x2="384.3" y2="566.5" stroke="#231f20" stroke-width="1"/>
<text x="378.3" y="569.68" font-size="7.9" text-anchor="end" textLength="8.61" lengthAdjust="spacingAndGlyphs">30</text>
<line x1="381.3" y1="553.5" x2="384.3" y2="553.5" stroke="#231f20" stroke-width="1"/>
<text x="378.3" y="555.96" font-size="7.9" text-anchor="end" textLength="8.61" lengthAdjust="spacingAndGlyphs">40</text>
<line x1="381.3" y1="539.5" x2="384.3" y2="539.5" stroke="#231f20" stroke-width="1"/>
<text x="378.3" y="542.24" font-size="7.9" text-anchor="end" textLength="8.61" lengthAdjust="spacingAndGlyphs">50</text>
<rect x="387" y="607.2" width="9" height="0.8" fill="#3d4a5c"/>
<line x1="391.5" y1="608" x2="391.5" y2="611" stroke="#231f20" stroke-width="0.9"/>
<rect x="401.7" y="605.94" width="9" height="2.06" fill="#55287c"/>
<line x1="406.5" y1="606.35" x2="406.5" y2="605.53" stroke="#231f20" stroke-width="1"/>
<line x1="404.3" y1="606.5" x2="408.1" y2="606.5" stroke="#231f20" stroke-width="1"/>
<line x1="404.3" y1="605.5" x2="408.1" y2="605.5" stroke="#231f20" stroke-width="1"/>
<line x1="406.5" y1="608" x2="406.5" y2="611" stroke="#231f20" stroke-width="0.9"/>
<rect x="417.4" y="568.21" width="9" height="39.79" fill="#f7941d"/>
<line x1="421.5" y1="579.19" x2="421.5" y2="555.86" stroke="#231f20" stroke-width="1"/>
<line x1="420" y1="579.5" x2="423.8" y2="579.5" stroke="#231f20" stroke-width="1"/>
<line x1="420" y1="555.5" x2="423.8" y2="555.5" stroke="#231f20" stroke-width="1"/>
<line x1="421.5" y1="608" x2="421.5" y2="611" stroke="#231f20" stroke-width="0.9"/>
<line x1="392.1" y1="542.5" x2="422.9" y2="542.5" stroke="#231f20" stroke-width="0.8"/>
<polygon points="405.74,536.66 406.23,537.72 407.39,537.86 406.53,538.66 406.76,539.81 405.74,539.23 404.72,539.81 404.94,538.66 404.08,537.86 405.25,537.72" fill="#231f20"/>
<polygon points="409.26,536.66 409.75,537.72 410.92,537.86 410.06,538.66 410.28,539.81 409.26,539.23 408.24,539.81 408.47,538.66 407.61,537.86 408.77,537.72" fill="#231f20"/>
<line x1="407.1" y1="544.5" x2="422.9" y2="544.5" stroke="#231f20" stroke-width="0.8"/>
<text x="358.7" y="574.91" font-size="9.2" text-anchor="middle" textLength="76.2" lengthAdjust="spacingAndGlyphs" transform="rotate(-90 358.7 571.6)">% GM-CSF positive cells</text>
<line x1="466.5" y1="534.9" x2="466.5" y2="608.7" stroke="#231f20" stroke-width="1.4"/>
<line x1="466.7" y1="608.5" x2="512" y2="608.5" stroke="#231f20" stroke-width="1.4"/>
<line x1="463.7" y1="608.5" x2="466.7" y2="608.5" stroke="#231f20" stroke-width="1"/>
<text x="460.7" y="610.84" font-size="7.9" text-anchor="end" textLength="4.31" lengthAdjust="spacingAndGlyphs">0</text>
<line x1="463.7" y1="594.5" x2="466.7" y2="594.5" stroke="#231f20" stroke-width="1"/>
<text x="460.7" y="597.12" font-size="7.9" text-anchor="end" textLength="4.31" lengthAdjust="spacingAndGlyphs">2</text>
<line x1="463.7" y1="580.5" x2="466.7" y2="580.5" stroke="#231f20" stroke-width="1"/>
<text x="460.7" y="583.4" font-size="7.9" text-anchor="end" textLength="4.31" lengthAdjust="spacingAndGlyphs">4</text>
<line x1="463.7" y1="566.5" x2="466.7" y2="566.5" stroke="#231f20" stroke-width="1"/>
<text x="460.7" y="569.68" font-size="7.9" text-anchor="end" textLength="4.31" lengthAdjust="spacingAndGlyphs">6</text>
<line x1="463.7" y1="553.5" x2="466.7" y2="553.5" stroke="#231f20" stroke-width="1"/>
<text x="460.7" y="555.96" font-size="7.9" text-anchor="end" textLength="4.31" lengthAdjust="spacingAndGlyphs">8</text>
<line x1="463.7" y1="539.5" x2="466.7" y2="539.5" stroke="#231f20" stroke-width="1"/>
<text x="460.7" y="542.24" font-size="7.9" text-anchor="end" textLength="8.61" lengthAdjust="spacingAndGlyphs">10</text>
<rect x="470.4" y="601.14" width="9" height="6.86" fill="#3cb54a"/>
<line x1="474.5" y1="602.17" x2="474.5" y2="599.77" stroke="#231f20" stroke-width="1"/>
<line x1="473" y1="602.5" x2="476.8" y2="602.5" stroke="#231f20" stroke-width="1"/>
<line x1="473" y1="599.5" x2="476.8" y2="599.5" stroke="#231f20" stroke-width="1"/>
<line x1="474.5" y1="608" x2="474.5" y2="611" stroke="#231f20" stroke-width="0.9"/>
<rect x="485.4" y="605.26" width="9" height="2.74" fill="#55287c"/>
<line x1="489.5" y1="606.63" x2="489.5" y2="603.88" stroke="#231f20" stroke-width="1"/>
<line x1="488" y1="606.5" x2="491.8" y2="606.5" stroke="#231f20" stroke-width="1"/>
<line x1="488" y1="603.5" x2="491.8" y2="603.5" stroke="#231f20" stroke-width="1"/>
<line x1="489.5" y1="608" x2="489.5" y2="611" stroke="#231f20" stroke-width="0.9"/>
<rect x="500.8" y="551.75" width="9" height="56.25" fill="#f7941d"/>
<line x1="505.5" y1="557.92" x2="505.5" y2="544.2" stroke="#231f20" stroke-width="1"/>
<line x1="503.4" y1="557.5" x2="507.2" y2="557.5" stroke="#231f20" stroke-width="1"/>
<line x1="503.4" y1="544.5" x2="507.2" y2="544.5" stroke="#231f20" stroke-width="1"/>
<line x1="505.5" y1="608" x2="505.5" y2="611" stroke="#231f20" stroke-width="0.9"/>
<line x1="474.2" y1="538.5" x2="504.8" y2="538.5" stroke="#231f20" stroke-width="0.8"/>
<polygon points="484.21,532.76 484.7,533.82 485.87,533.96 485.01,534.76 485.23,535.91 484.21,535.33 483.19,535.91 483.42,534.76 482.56,533.96 483.72,533.82" fill="#231f20"/>
<polygon points="487.74,532.76 488.23,533.82 489.39,533.96 488.53,534.76 488.76,535.91 487.74,535.33 486.72,535.91 486.94,534.76 486.08,533.96 487.25,533.82" fill="#231f20"/>
<polygon points="491.26,532.76 491.75,533.82 492.92,533.96 492.06,534.76 492.28,535.91 491.26,535.33 490.24,535.91 490.47,534.76 489.61,533.96 490.77,533.82" fill="#231f20"/>
<polygon points="494.79,532.76 495.28,533.82 496.44,533.96 495.58,534.76 495.81,535.91 494.79,535.33 493.77,535.91 493.99,534.76 493.13,533.96 494.3,533.82" fill="#231f20"/>
<line x1="489.5" y1="540.5" x2="504.8" y2="540.5" stroke="#231f20" stroke-width="0.8"/>
<text x="444.3" y="574.91" font-size="9.2" text-anchor="middle" textLength="76.2" lengthAdjust="spacingAndGlyphs" transform="rotate(-90 444.3 571.6)">% IFN-γ positive cells</text>
<line x1="301.5" y1="626.3" x2="301.5" y2="700.3" stroke="#231f20" stroke-width="1.4"/>
<line x1="301.2" y1="699.5" x2="347" y2="699.5" stroke="#231f20" stroke-width="1.4"/>
<line x1="298.2" y1="699.5" x2="301.2" y2="699.5" stroke="#231f20" stroke-width="1"/>
<text x="295.2" y="702.44" font-size="7.9" text-anchor="end" textLength="4.31" lengthAdjust="spacingAndGlyphs">0</text>
<line x1="298.2" y1="676.5" x2="301.2" y2="676.5" stroke="#231f20" stroke-width="1"/>
<text x="295.2" y="679.51" font-size="7.9" text-anchor="end" textLength="8.61" lengthAdjust="spacingAndGlyphs">20</text>
<line x1="298.2" y1="653.5" x2="301.2" y2="653.5" stroke="#231f20" stroke-width="1"/>
<text x="295.2" y="656.58" font-size="7.9" text-anchor="end" textLength="8.61" lengthAdjust="spacingAndGlyphs">40</text>
<line x1="298.2" y1="630.5" x2="301.2" y2="630.5" stroke="#231f20" stroke-width="1"/>
<text x="295.2" y="633.64" font-size="7.9" text-anchor="end" textLength="8.61" lengthAdjust="spacingAndGlyphs">60</text>
<rect x="304.5" y="698.68" width="9" height="0.92" fill="#3cb54a"/>
<line x1="309.5" y1="699.03" x2="309.5" y2="698.34" stroke="#231f20" stroke-width="1"/>
<line x1="307.1" y1="699.5" x2="310.9" y2="699.5" stroke="#231f20" stroke-width="1"/>
<line x1="307.1" y1="698.5" x2="310.9" y2="698.5" stroke="#231f20" stroke-width="1"/>
<line x1="309.5" y1="699.6" x2="309.5" y2="702.6" stroke="#231f20" stroke-width="0.9"/>
<rect x="319.8" y="698.8" width="9" height="0.8" fill="#55287c"/>
<line x1="324.5" y1="699.54" x2="324.5" y2="699.2" stroke="#231f20" stroke-width="1"/>
<line x1="322.4" y1="699.5" x2="326.2" y2="699.5" stroke="#231f20" stroke-width="1"/>
<line x1="322.4" y1="699.5" x2="326.2" y2="699.5" stroke="#231f20" stroke-width="1"/>
<line x1="324.5" y1="699.6" x2="324.5" y2="702.6" stroke="#231f20" stroke-width="0.9"/>
<rect x="334.9" y="645.13" width="9" height="54.47" fill="#f7941d"/>
<line x1="339.5" y1="645.13" x2="339.5" y2="635.96" stroke="#231f20" stroke-width="1"/>
<line x1="337.5" y1="645.5" x2="341.3" y2="645.5" stroke="#231f20" stroke-width="1"/>
<line x1="337.5" y1="635.5" x2="341.3" y2="635.5" stroke="#231f20" stroke-width="1"/>
<line x1="339.5" y1="699.6" x2="339.5" y2="702.6" stroke="#231f20" stroke-width="0.9"/>
<line x1="308.7" y1="628.5" x2="338.9" y2="628.5" stroke="#231f20" stroke-width="0.8"/>
<polygon points="318.51,622.76 319,623.82 320.17,623.96 319.31,624.76 319.53,625.91 318.51,625.33 317.49,625.91 317.72,624.76 316.86,623.96 318.02,623.82" fill="#231f20"/>
<polygon points="322.04,622.76 322.53,623.82 323.69,623.96 322.83,624.76 323.06,625.91 322.04,625.33 321.02,625.91 321.24,624.76 320.38,623.96 321.55,623.82" fill="#231f20"/>
<polygon points="325.56,622.76 326.05,623.82 327.22,623.96 326.36,624.76 326.58,625.91 325.56,625.33 324.54,625.91 324.77,624.76 323.91,623.96 325.07,623.82" fill="#231f20"/>
<polygon points="329.09,622.76 329.58,623.82 330.74,623.96 329.88,624.76 330.11,625.91 329.09,625.33 328.07,625.91 328.29,624.76 327.43,623.96 328.6,623.82" fill="#231f20"/>
<line x1="323.2" y1="630.5" x2="338.9" y2="630.5" stroke="#231f20" stroke-width="0.8"/>
<text x="276.6" y="666.51" font-size="9.2" text-anchor="middle" textLength="65" lengthAdjust="spacingAndGlyphs" transform="rotate(-90 276.6 663.2)">% IL-2 positive cells</text>
<line x1="383.5" y1="626.1" x2="383.5" y2="700.3" stroke="#231f20" stroke-width="1.4"/>
<line x1="383.3" y1="699.5" x2="430" y2="699.5" stroke="#231f20" stroke-width="1.4"/>
<line x1="380.3" y1="699.5" x2="383.3" y2="699.5" stroke="#231f20" stroke-width="1"/>
<text x="377.3" y="702.44" font-size="7.9" text-anchor="end" textLength="4.31" lengthAdjust="spacingAndGlyphs">0</text>
<line x1="380.3" y1="682.5" x2="383.3" y2="682.5" stroke="#231f20" stroke-width="1"/>
<text x="377.3" y="685.19" font-size="7.9" text-anchor="end" textLength="8.61" lengthAdjust="spacingAndGlyphs">20</text>
<line x1="380.3" y1="665.5" x2="383.3" y2="665.5" stroke="#231f20" stroke-width="1"/>
<text x="377.3" y="667.94" font-size="7.9" text-anchor="end" textLength="8.61" lengthAdjust="spacingAndGlyphs">40</text>
<line x1="380.3" y1="647.5" x2="383.3" y2="647.5" stroke="#231f20" stroke-width="1"/>
<text x="377.3" y="650.69" font-size="7.9" text-anchor="end" textLength="8.61" lengthAdjust="spacingAndGlyphs">60</text>
<line x1="380.3" y1="630.5" x2="383.3" y2="630.5" stroke="#231f20" stroke-width="1"/>
<text x="377.3" y="633.44" font-size="7.9" text-anchor="end" textLength="8.61" lengthAdjust="spacingAndGlyphs">80</text>
<rect x="387" y="697.44" width="9" height="2.16" fill="#3cb54a"/>
<line x1="391.5" y1="698.31" x2="391.5" y2="696.15" stroke="#231f20" stroke-width="1"/>
<line x1="389.6" y1="698.5" x2="393.4" y2="698.5" stroke="#231f20" stroke-width="1"/>
<line x1="389.6" y1="696.5" x2="393.4" y2="696.5" stroke="#231f20" stroke-width="1"/>
<line x1="391.5" y1="699.6" x2="391.5" y2="702.6" stroke="#231f20" stroke-width="0.9"/>
<rect x="401.7" y="698.74" width="9" height="0.86" fill="#55287c"/>
<line x1="406.5" y1="699" x2="406.5" y2="698.48" stroke="#231f20" stroke-width="1"/>
<line x1="404.3" y1="698.5" x2="408.1" y2="698.5" stroke="#231f20" stroke-width="1"/>
<line x1="404.3" y1="698.5" x2="408.1" y2="698.5" stroke="#231f20" stroke-width="1"/>
<line x1="406.5" y1="699.6" x2="406.5" y2="702.6" stroke="#231f20" stroke-width="0.9"/>
<rect x="417.4" y="653.89" width="9" height="45.71" fill="#f7941d"/>
<line x1="421.5" y1="660.79" x2="421.5" y2="646.12" stroke="#231f20" stroke-width="1"/>
<line x1="420" y1="660.5" x2="423.8" y2="660.5" stroke="#231f20" stroke-width="1"/>
<line x1="420" y1="646.5" x2="423.8" y2="646.5" stroke="#231f20" stroke-width="1"/>
<line x1="421.5" y1="699.6" x2="421.5" y2="702.6" stroke="#231f20" stroke-width="0.9"/>
<line x1="391.2" y1="635.5" x2="422.2" y2="635.5" stroke="#231f20" stroke-width="0.8"/>
<polygon points="403.18,629.76 403.67,630.82 404.83,630.96 403.97,631.76 404.2,632.91 403.18,632.33 402.15,632.91 402.38,631.76 401.52,630.96 402.68,630.82" fill="#231f20"/>
<polygon points="406.7,629.76 407.19,630.82 408.35,630.96 407.49,631.76 407.72,632.91 406.7,632.33 405.68,632.91 405.91,631.76 405.05,630.96 406.21,630.82" fill="#231f20"/>
<polygon points="410.23,629.76 410.72,630.82 411.88,630.96 411.02,631.76 411.25,632.91 410.23,632.33 409.2,632.91 409.43,631.76 408.57,630.96 409.73,630.82" fill="#231f20"/>
<line x1="406.2" y1="637.5" x2="422.2" y2="637.5" stroke="#231f20" stroke-width="0.8"/>
<text x="358.9" y="665.91" font-size="9.2" text-anchor="middle" textLength="76.6" lengthAdjust="spacingAndGlyphs" transform="rotate(-90 358.9 662.6)">% MIP1-β positive cells</text>
<rect x="431.7" y="633.5" width="8.2" height="4" fill="#3cb54a"/>
<text x="442.4" y="638.66" font-size="7.4" textLength="52" lengthAdjust="spacingAndGlyphs">Medium control</text>
<rect x="431.7" y="641.3" width="8.2" height="4" fill="#55287c"/>
<text x="442.4" y="646.46" font-size="7.4" textLength="20" lengthAdjust="spacingAndGlyphs">Jurkat</text>
<rect x="431.7" y="649.5" width="8.2" height="4" fill="#f7941d"/>
<text x="442.4" y="654.66" font-size="7.4" textLength="21" lengthAdjust="spacingAndGlyphs">MM1.S</text>
<rect x="0.5" y="0.5" width="519" height="710.5" fill="none" stroke="#111" stroke-width="1.1"/>
<line x1="0" y1="711.2" x2="520" y2="711.2" stroke="#111" stroke-width="1.6"/>
</svg>
</body></html>
